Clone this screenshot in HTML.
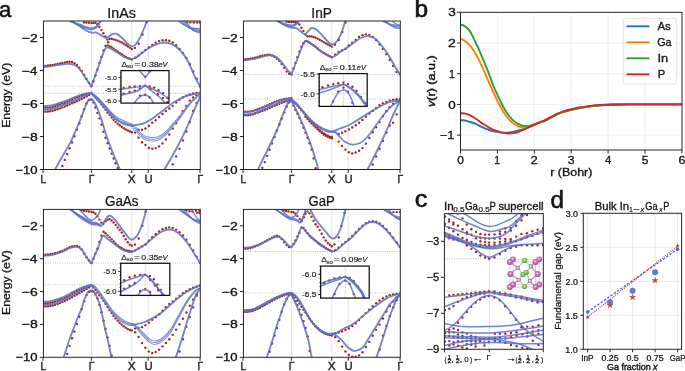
<!DOCTYPE html>
<html><head><meta charset="utf-8"><style>
html,body{margin:0;padding:0;background:#fff;width:685px;height:371px;overflow:hidden}
svg{display:block;will-change:transform}
text{font-family:"Liberation Sans", sans-serif;stroke:#111;stroke-width:0.4px;paint-order:stroke}
</style></head><body>
<svg width="685" height="371" viewBox="0 0 685 371">
<rect width="685" height="371" fill="#fff"/>
<text x="-1" y="16.9" font-size="22.5" fill="#111" textLength="12.32" lengthAdjust="spacingAndGlyphs" style="stroke-width:0.55px">a</text>
<text x="414.61" y="16.6" font-size="23" fill="#111" textLength="13.6" lengthAdjust="spacingAndGlyphs" style="stroke-width:0.55px">b</text>
<text x="414.76" y="207.1" font-size="23" fill="#111" textLength="12.67" lengthAdjust="spacingAndGlyphs" style="stroke-width:0.55px">c</text>
<text x="550.53" y="207.9" font-size="23" fill="#111" textLength="13.47" lengthAdjust="spacingAndGlyphs" style="stroke-width:0.55px">d</text>
<clipPath id="pc1"><rect x="43" y="21" width="157" height="148.5"/></clipPath><g clip-path="url(#pc1)">
<line x1="91.4" y1="21" x2="91.4" y2="169.5" stroke="#dcdcdc" stroke-width="0.8" />
<line x1="131.8" y1="21" x2="131.8" y2="169.5" stroke="#dcdcdc" stroke-width="0.8" />
<line x1="148.2" y1="21" x2="148.2" y2="169.5" stroke="#dcdcdc" stroke-width="0.8" />
<line x1="43" y1="86.2" x2="200" y2="86.2" stroke="#9a9a9a" stroke-width="0.8" stroke-dasharray="0.8,1.6"/>
<line x1="43" y1="93.3" x2="200" y2="93.3" stroke="#9a9a9a" stroke-width="0.8" stroke-dasharray="0.8,1.6"/>
<circle cx="43" cy="66.2" r="1.2" fill="#9e2c1c" opacity="1"/>
<circle cx="45.42" cy="65.87" r="1.2" fill="#9e2c1c" opacity="1"/>
<circle cx="47.84" cy="65.55" r="1.2" fill="#9e2c1c" opacity="1"/>
<circle cx="50.26" cy="65.22" r="1.2" fill="#9e2c1c" opacity="1"/>
<circle cx="52.68" cy="64.87" r="1.2" fill="#9e2c1c" opacity="1"/>
<circle cx="55.1" cy="64.48" r="1.2" fill="#9e2c1c" opacity="1"/>
<circle cx="57.52" cy="64.01" r="1.2" fill="#9e2c1c" opacity="1"/>
<circle cx="59.94" cy="63.48" r="1.2" fill="#9e2c1c" opacity="1"/>
<circle cx="62.36" cy="62.94" r="1.2" fill="#9e2c1c" opacity="1"/>
<circle cx="64.78" cy="62.43" r="1.2" fill="#9e2c1c" opacity="1"/>
<circle cx="67.2" cy="61.99" r="1.2" fill="#9e2c1c" opacity="1"/>
<circle cx="69.62" cy="61.78" r="1.2" fill="#9e2c1c" opacity="1"/>
<circle cx="72.04" cy="62.01" r="1.2" fill="#9e2c1c" opacity="1"/>
<circle cx="74.46" cy="63.17" r="1.2" fill="#9e2c1c" opacity="1"/>
<circle cx="76.88" cy="64.97" r="1.2" fill="#9e2c1c" opacity="1"/>
<circle cx="79.3" cy="67.63" r="1.2" fill="#9e2c1c" opacity="1"/>
<circle cx="81.72" cy="71" r="1.2" fill="#9e2c1c" opacity="1"/>
<circle cx="84.14" cy="75.02" r="1.2" fill="#9e2c1c" opacity="1"/>
<circle cx="86.56" cy="78.92" r="1.2" fill="#9e2c1c" opacity="1"/>
<circle cx="88.98" cy="82.68" r="1.2" fill="#9e2c1c" opacity="1"/>
<circle cx="91.4" cy="86.2" r="1.2" fill="#9e2c1c" opacity="1"/>
<circle cx="93.42" cy="81.18" r="1.2" fill="#9e2c1c" opacity="1"/>
<circle cx="95.44" cy="75.49" r="1.2" fill="#9e2c1c" opacity="1"/>
<circle cx="97.46" cy="69.62" r="1.2" fill="#9e2c1c" opacity="1"/>
<circle cx="99.48" cy="62.83" r="1.2" fill="#9e2c1c" opacity="1"/>
<circle cx="101.5" cy="56.92" r="1.2" fill="#9e2c1c" opacity="1"/>
<circle cx="103.52" cy="50.57" r="1.2" fill="#9e2c1c" opacity="1"/>
<circle cx="105.54" cy="45.83" r="1.2" fill="#9e2c1c" opacity="1"/>
<circle cx="107.56" cy="45.35" r="1.2" fill="#9e2c1c" opacity="1"/>
<circle cx="109.58" cy="46.1" r="1.2" fill="#9e2c1c" opacity="1"/>
<circle cx="111.6" cy="47.31" r="1.2" fill="#9e2c1c" opacity="1"/>
<circle cx="113.62" cy="48.68" r="1.2" fill="#9e2c1c" opacity="1"/>
<circle cx="115.64" cy="50.08" r="1.2" fill="#9e2c1c" opacity="1"/>
<circle cx="117.66" cy="51.47" r="1.2" fill="#9e2c1c" opacity="1"/>
<circle cx="119.68" cy="52.86" r="1.2" fill="#9e2c1c" opacity="1"/>
<circle cx="121.7" cy="54.25" r="1.2" fill="#9e2c1c" opacity="1"/>
<circle cx="123.72" cy="55.62" r="1.2" fill="#9e2c1c" opacity="1"/>
<circle cx="125.74" cy="56.88" r="1.2" fill="#9e2c1c" opacity="1"/>
<circle cx="127.76" cy="57.93" r="1.2" fill="#9e2c1c" opacity="1"/>
<circle cx="129.78" cy="58.82" r="1.2" fill="#9e2c1c" opacity="1"/>
<circle cx="131.8" cy="59.5" r="1.2" fill="#9e2c1c" opacity="1"/>
<circle cx="135.21" cy="57.68" r="1.2" fill="#9e2c1c" opacity="1"/>
<circle cx="138.62" cy="55.43" r="1.2" fill="#9e2c1c" opacity="1"/>
<circle cx="142.03" cy="52.81" r="1.2" fill="#9e2c1c" opacity="1"/>
<circle cx="145.44" cy="50.06" r="1.2" fill="#9e2c1c" opacity="1"/>
<circle cx="148.85" cy="47.36" r="1.2" fill="#9e2c1c" opacity="1"/>
<circle cx="152.26" cy="44.86" r="1.2" fill="#9e2c1c" opacity="1"/>
<circle cx="155.67" cy="42.67" r="1.2" fill="#9e2c1c" opacity="1"/>
<circle cx="159.08" cy="41.11" r="1.2" fill="#9e2c1c" opacity="1"/>
<circle cx="162.49" cy="40.2" r="1.2" fill="#9e2c1c" opacity="1"/>
<circle cx="165.9" cy="40.17" r="1.2" fill="#9e2c1c" opacity="1"/>
<circle cx="169.31" cy="40.82" r="1.2" fill="#9e2c1c" opacity="1"/>
<circle cx="172.72" cy="42.46" r="1.2" fill="#9e2c1c" opacity="1"/>
<circle cx="176.13" cy="45.32" r="1.2" fill="#9e2c1c" opacity="1"/>
<circle cx="179.54" cy="48.97" r="1.2" fill="#9e2c1c" opacity="1"/>
<circle cx="182.95" cy="53.09" r="1.2" fill="#9e2c1c" opacity="1"/>
<circle cx="186.36" cy="57.86" r="1.2" fill="#9e2c1c" opacity="1"/>
<circle cx="189.77" cy="63.93" r="1.2" fill="#9e2c1c" opacity="1"/>
<circle cx="193.18" cy="71.53" r="1.2" fill="#9e2c1c" opacity="1"/>
<circle cx="196.59" cy="78.78" r="1.2" fill="#9e2c1c" opacity="1"/>
<circle cx="200" cy="86.2" r="1.2" fill="#9e2c1c" opacity="1"/>
<circle cx="84" cy="22.4" r="1.2" fill="#9e2c1c" opacity="1"/>
<circle cx="86.4" cy="22.6" r="1.2" fill="#9e2c1c" opacity="1"/>
<circle cx="88.8" cy="22.8" r="1.2" fill="#9e2c1c" opacity="1"/>
<circle cx="91.4" cy="22.9" r="1.2" fill="#9e2c1c" opacity="1"/>
<circle cx="93.4" cy="22.9" r="1.2" fill="#9e2c1c" opacity="1"/>
<circle cx="95.4" cy="22.7" r="1.2" fill="#9e2c1c" opacity="1"/>
<circle cx="97.4" cy="24" r="1.2" fill="#9e2c1c" opacity="1"/>
<circle cx="99.4" cy="27" r="1.2" fill="#9e2c1c" opacity="1"/>
<circle cx="101.4" cy="30.1" r="1.2" fill="#9e2c1c" opacity="1"/>
<circle cx="103.4" cy="33.2" r="1.2" fill="#9e2c1c" opacity="1"/>
<circle cx="105.4" cy="36.4" r="1.2" fill="#9e2c1c" opacity="1"/>
<circle cx="107.4" cy="39.6" r="1.2" fill="#9e2c1c" opacity="1"/>
<circle cx="108.2" cy="42.3" r="1.2" fill="#9e2c1c" opacity="1"/>
<circle cx="109.58" cy="38.77" r="1.2" fill="#9e2c1c" opacity="1"/>
<circle cx="111.6" cy="38.72" r="1.2" fill="#9e2c1c" opacity="1"/>
<circle cx="113.62" cy="39.33" r="1.2" fill="#9e2c1c" opacity="1"/>
<circle cx="115.64" cy="39.91" r="1.2" fill="#9e2c1c" opacity="1"/>
<circle cx="117.66" cy="40.66" r="1.2" fill="#9e2c1c" opacity="1"/>
<circle cx="119.68" cy="41.58" r="1.2" fill="#9e2c1c" opacity="1"/>
<circle cx="121.7" cy="42.57" r="1.2" fill="#9e2c1c" opacity="1"/>
<circle cx="123.72" cy="43.7" r="1.2" fill="#9e2c1c" opacity="1"/>
<circle cx="125.74" cy="44.95" r="1.2" fill="#9e2c1c" opacity="1"/>
<circle cx="127.76" cy="46.3" r="1.2" fill="#9e2c1c" opacity="1"/>
<circle cx="129.78" cy="47.65" r="1.2" fill="#9e2c1c" opacity="1"/>
<circle cx="131.8" cy="49" r="1.2" fill="#9e2c1c" opacity="1"/>
<circle cx="134.9" cy="47.9" r="1.2" fill="#9e2c1c" opacity="1"/>
<circle cx="138.7" cy="43.7" r="1.2" fill="#9e2c1c" opacity="1"/>
<circle cx="142.5" cy="34.5" r="1.2" fill="#9e2c1c" opacity="1"/>
<circle cx="146.4" cy="22.6" r="1.2" fill="#9e2c1c" opacity="1"/>
<circle cx="186.8" cy="22.2" r="1.2" fill="#9e2c1c" opacity="1"/>
<circle cx="190.3" cy="22.4" r="1.2" fill="#9e2c1c" opacity="1"/>
<circle cx="193.8" cy="22.5" r="1.2" fill="#9e2c1c" opacity="1"/>
<circle cx="197.2" cy="22.5" r="1.2" fill="#9e2c1c" opacity="1"/>
<circle cx="200" cy="22.5" r="1.2" fill="#9e2c1c" opacity="1"/>
<circle cx="43" cy="107.8" r="1.2" fill="#9e2c1c" opacity="1"/>
<circle cx="45.42" cy="107.72" r="1.2" fill="#9e2c1c" opacity="1"/>
<circle cx="47.84" cy="107.66" r="1.2" fill="#9e2c1c" opacity="1"/>
<circle cx="50.26" cy="107.44" r="1.2" fill="#9e2c1c" opacity="1"/>
<circle cx="52.68" cy="106.91" r="1.2" fill="#9e2c1c" opacity="1"/>
<circle cx="55.1" cy="106.11" r="1.2" fill="#9e2c1c" opacity="1"/>
<circle cx="57.52" cy="105.2" r="1.2" fill="#9e2c1c" opacity="1"/>
<circle cx="59.94" cy="104.35" r="1.2" fill="#9e2c1c" opacity="1"/>
<circle cx="62.36" cy="103.56" r="1.2" fill="#9e2c1c" opacity="1"/>
<circle cx="64.78" cy="102.74" r="1.2" fill="#9e2c1c" opacity="1"/>
<circle cx="67.2" cy="101.84" r="1.2" fill="#9e2c1c" opacity="1"/>
<circle cx="69.62" cy="100.79" r="1.2" fill="#9e2c1c" opacity="1"/>
<circle cx="72.04" cy="99.64" r="1.2" fill="#9e2c1c" opacity="1"/>
<circle cx="74.46" cy="98.51" r="1.2" fill="#9e2c1c" opacity="1"/>
<circle cx="76.88" cy="97.48" r="1.2" fill="#9e2c1c" opacity="1"/>
<circle cx="79.3" cy="96.5" r="1.2" fill="#9e2c1c" opacity="1"/>
<circle cx="81.72" cy="95.56" r="1.2" fill="#9e2c1c" opacity="1"/>
<circle cx="84.14" cy="94.68" r="1.2" fill="#9e2c1c" opacity="1"/>
<circle cx="86.56" cy="93.95" r="1.2" fill="#9e2c1c" opacity="1"/>
<circle cx="88.98" cy="93.39" r="1.2" fill="#9e2c1c" opacity="1"/>
<circle cx="91.4" cy="93" r="1.2" fill="#9e2c1c" opacity="1"/>
<circle cx="43" cy="111.9" r="1.2" fill="#9e2c1c" opacity="1"/>
<circle cx="45.42" cy="111.71" r="1.2" fill="#9e2c1c" opacity="1"/>
<circle cx="47.84" cy="111.54" r="1.2" fill="#9e2c1c" opacity="1"/>
<circle cx="50.26" cy="111.25" r="1.2" fill="#9e2c1c" opacity="1"/>
<circle cx="52.68" cy="110.73" r="1.2" fill="#9e2c1c" opacity="1"/>
<circle cx="55.1" cy="110.02" r="1.2" fill="#9e2c1c" opacity="1"/>
<circle cx="57.52" cy="109.19" r="1.2" fill="#9e2c1c" opacity="1"/>
<circle cx="59.94" cy="108.34" r="1.2" fill="#9e2c1c" opacity="1"/>
<circle cx="62.36" cy="107.42" r="1.2" fill="#9e2c1c" opacity="1"/>
<circle cx="64.78" cy="106.45" r="1.2" fill="#9e2c1c" opacity="1"/>
<circle cx="67.2" cy="105.44" r="1.2" fill="#9e2c1c" opacity="1"/>
<circle cx="69.62" cy="104.4" r="1.2" fill="#9e2c1c" opacity="1"/>
<circle cx="72.04" cy="103.32" r="1.2" fill="#9e2c1c" opacity="1"/>
<circle cx="74.46" cy="102.22" r="1.2" fill="#9e2c1c" opacity="1"/>
<circle cx="76.88" cy="101.14" r="1.2" fill="#9e2c1c" opacity="1"/>
<circle cx="79.3" cy="100.06" r="1.2" fill="#9e2c1c" opacity="1"/>
<circle cx="81.72" cy="98.95" r="1.2" fill="#9e2c1c" opacity="1"/>
<circle cx="84.14" cy="97.77" r="1.2" fill="#9e2c1c" opacity="1"/>
<circle cx="86.56" cy="96.37" r="1.2" fill="#9e2c1c" opacity="1"/>
<circle cx="88.98" cy="94.95" r="1.2" fill="#9e2c1c" opacity="1"/>
<circle cx="91.4" cy="93.6" r="1.2" fill="#9e2c1c" opacity="1"/>
<circle cx="62.36" cy="165.9" r="1.2" fill="#9e2c1c" opacity="1"/>
<circle cx="64.78" cy="159.9" r="1.2" fill="#9e2c1c" opacity="1"/>
<circle cx="67.2" cy="153.94" r="1.2" fill="#9e2c1c" opacity="1"/>
<circle cx="69.62" cy="148.24" r="1.2" fill="#9e2c1c" opacity="1"/>
<circle cx="72.04" cy="142.5" r="1.2" fill="#9e2c1c" opacity="1"/>
<circle cx="74.46" cy="136.24" r="1.2" fill="#9e2c1c" opacity="1"/>
<circle cx="76.88" cy="129.73" r="1.2" fill="#9e2c1c" opacity="1"/>
<circle cx="79.3" cy="123.3" r="1.2" fill="#9e2c1c" opacity="1"/>
<circle cx="81.72" cy="116.32" r="1.2" fill="#9e2c1c" opacity="1"/>
<circle cx="84.14" cy="109.27" r="1.2" fill="#9e2c1c" opacity="1"/>
<circle cx="86.56" cy="103.4" r="1.2" fill="#9e2c1c" opacity="1"/>
<circle cx="88.98" cy="100.07" r="1.2" fill="#9e2c1c" opacity="1"/>
<circle cx="91.4" cy="99.6" r="1.2" fill="#9e2c1c" opacity="1"/>
<circle cx="93.42" cy="95.26" r="1.2" fill="#9e2c1c" opacity="1"/>
<circle cx="95.44" cy="97.21" r="1.2" fill="#9e2c1c" opacity="1"/>
<circle cx="97.46" cy="99.42" r="1.2" fill="#9e2c1c" opacity="1"/>
<circle cx="99.48" cy="101.8" r="1.2" fill="#9e2c1c" opacity="1"/>
<circle cx="101.5" cy="104.3" r="1.2" fill="#9e2c1c" opacity="1"/>
<circle cx="103.52" cy="106.98" r="1.2" fill="#9e2c1c" opacity="1"/>
<circle cx="105.54" cy="109.76" r="1.2" fill="#9e2c1c" opacity="1"/>
<circle cx="107.56" cy="112.44" r="1.2" fill="#9e2c1c" opacity="1"/>
<circle cx="109.58" cy="114.95" r="1.2" fill="#9e2c1c" opacity="1"/>
<circle cx="111.6" cy="117.38" r="1.2" fill="#9e2c1c" opacity="1"/>
<circle cx="113.62" cy="119.71" r="1.2" fill="#9e2c1c" opacity="1"/>
<circle cx="115.64" cy="121.85" r="1.2" fill="#9e2c1c" opacity="1"/>
<circle cx="117.66" cy="123.67" r="1.2" fill="#9e2c1c" opacity="1"/>
<circle cx="119.68" cy="125.25" r="1.2" fill="#9e2c1c" opacity="1"/>
<circle cx="121.7" cy="126.81" r="1.2" fill="#9e2c1c" opacity="1"/>
<circle cx="123.72" cy="128.23" r="1.2" fill="#9e2c1c" opacity="1"/>
<circle cx="125.74" cy="129.4" r="1.2" fill="#9e2c1c" opacity="1"/>
<circle cx="127.76" cy="130.38" r="1.2" fill="#9e2c1c" opacity="1"/>
<circle cx="129.78" cy="131.28" r="1.2" fill="#9e2c1c" opacity="1"/>
<circle cx="131.8" cy="132.2" r="1.2" fill="#9e2c1c" opacity="1"/>
<circle cx="135.21" cy="132.61" r="1.2" fill="#9e2c1c" opacity="1"/>
<circle cx="138.62" cy="137.64" r="1.2" fill="#9e2c1c" opacity="1"/>
<circle cx="142.03" cy="142.32" r="1.2" fill="#9e2c1c" opacity="1"/>
<circle cx="145.44" cy="145.02" r="1.2" fill="#9e2c1c" opacity="1"/>
<circle cx="148.85" cy="148.03" r="1.2" fill="#9e2c1c" opacity="1"/>
<circle cx="152.26" cy="148.7" r="1.2" fill="#9e2c1c" opacity="1"/>
<circle cx="155.67" cy="148.11" r="1.2" fill="#9e2c1c" opacity="1"/>
<circle cx="159.08" cy="146.39" r="1.2" fill="#9e2c1c" opacity="1"/>
<circle cx="162.49" cy="143.41" r="1.2" fill="#9e2c1c" opacity="1"/>
<circle cx="165.9" cy="139.43" r="1.2" fill="#9e2c1c" opacity="1"/>
<circle cx="169.31" cy="134.51" r="1.2" fill="#9e2c1c" opacity="1"/>
<circle cx="172.72" cy="128.43" r="1.2" fill="#9e2c1c" opacity="1"/>
<circle cx="176.13" cy="123.18" r="1.2" fill="#9e2c1c" opacity="1"/>
<circle cx="179.54" cy="117.08" r="1.2" fill="#9e2c1c" opacity="1"/>
<circle cx="182.95" cy="111.27" r="1.2" fill="#9e2c1c" opacity="1"/>
<circle cx="186.36" cy="105.93" r="1.2" fill="#9e2c1c" opacity="1"/>
<circle cx="189.77" cy="100.61" r="1.2" fill="#9e2c1c" opacity="1"/>
<circle cx="193.18" cy="97.54" r="1.2" fill="#9e2c1c" opacity="1"/>
<circle cx="196.59" cy="95.33" r="1.2" fill="#9e2c1c" opacity="1"/>
<circle cx="138.62" cy="129.79" r="1.2" fill="#9e2c1c" opacity="1"/>
<circle cx="142.03" cy="129.7" r="1.2" fill="#9e2c1c" opacity="1"/>
<circle cx="145.44" cy="128.56" r="1.2" fill="#9e2c1c" opacity="1"/>
<circle cx="148.85" cy="126.06" r="1.2" fill="#9e2c1c" opacity="1"/>
<circle cx="152.26" cy="122.68" r="1.2" fill="#9e2c1c" opacity="1"/>
<circle cx="155.67" cy="120.14" r="1.2" fill="#9e2c1c" opacity="1"/>
<circle cx="159.08" cy="116.93" r="1.2" fill="#9e2c1c" opacity="1"/>
<circle cx="162.49" cy="114.01" r="1.2" fill="#9e2c1c" opacity="1"/>
<circle cx="165.9" cy="111.08" r="1.2" fill="#9e2c1c" opacity="1"/>
<circle cx="169.31" cy="108.52" r="1.2" fill="#9e2c1c" opacity="1"/>
<circle cx="172.72" cy="105.84" r="1.2" fill="#9e2c1c" opacity="1"/>
<circle cx="176.13" cy="102.56" r="1.2" fill="#9e2c1c" opacity="1"/>
<circle cx="179.54" cy="99.67" r="1.2" fill="#9e2c1c" opacity="1"/>
<circle cx="182.95" cy="97.33" r="1.2" fill="#9e2c1c" opacity="1"/>
<circle cx="186.36" cy="95.66" r="1.2" fill="#9e2c1c" opacity="1"/>
<circle cx="189.77" cy="94.47" r="1.2" fill="#9e2c1c" opacity="1"/>
<circle cx="193.18" cy="93.57" r="1.2" fill="#9e2c1c" opacity="1"/>
<circle cx="196.59" cy="93.02" r="1.2" fill="#9e2c1c" opacity="1"/>
<circle cx="200" cy="93" r="1.2" fill="#9e2c1c" opacity="1"/>
<circle cx="93.42" cy="102.39" r="1.2" fill="#9e2c1c" opacity="1"/>
<circle cx="95.44" cy="107.53" r="1.2" fill="#9e2c1c" opacity="1"/>
<circle cx="97.46" cy="112.83" r="1.2" fill="#9e2c1c" opacity="1"/>
<circle cx="99.48" cy="118.42" r="1.2" fill="#9e2c1c" opacity="1"/>
<circle cx="101.5" cy="124.7" r="1.2" fill="#9e2c1c" opacity="1"/>
<circle cx="103.52" cy="131.68" r="1.2" fill="#9e2c1c" opacity="1"/>
<circle cx="105.54" cy="137.8" r="1.2" fill="#9e2c1c" opacity="1"/>
<circle cx="107.56" cy="143.29" r="1.2" fill="#9e2c1c" opacity="1"/>
<circle cx="109.58" cy="148.54" r="1.2" fill="#9e2c1c" opacity="1"/>
<circle cx="111.6" cy="153.6" r="1.2" fill="#9e2c1c" opacity="1"/>
<circle cx="113.62" cy="158.53" r="1.2" fill="#9e2c1c" opacity="1"/>
<circle cx="115.64" cy="163.31" r="1.2" fill="#9e2c1c" opacity="1"/>
<circle cx="117.66" cy="168" r="1.2" fill="#9e2c1c" opacity="1"/>
<circle cx="172.72" cy="164.35" r="1.2" fill="#9e2c1c" opacity="1"/>
<circle cx="176.13" cy="156.38" r="1.2" fill="#9e2c1c" opacity="1"/>
<circle cx="179.54" cy="148.84" r="1.2" fill="#9e2c1c" opacity="1"/>
<circle cx="182.95" cy="140.41" r="1.2" fill="#9e2c1c" opacity="1"/>
<circle cx="186.36" cy="131.53" r="1.2" fill="#9e2c1c" opacity="1"/>
<circle cx="189.77" cy="122.06" r="1.2" fill="#9e2c1c" opacity="1"/>
<circle cx="193.18" cy="111.06" r="1.2" fill="#9e2c1c" opacity="1"/>
<circle cx="196.59" cy="103.1" r="1.2" fill="#9e2c1c" opacity="1"/>
<path d="M43,67.2C45.33,66.9 47.67,66.63 50,66.3C52.33,65.97 54.83,65.53 57,65.2C59.17,64.87 61,64.52 63,64.3C65,64.08 67,63.73 69,63.9C71,64.07 73.17,64.35 75,65.3C76.83,66.25 78.5,67.9 80,69.6C81.5,71.3 82.67,73.5 84,75.5C85.33,77.5 86.77,79.82 88,81.6C89.23,83.38 90.27,84.67 91.4,86.2" fill="none" stroke="#5a6fc8" stroke-width="1.85" stroke-linejoin="round" stroke-linecap="round" opacity="0.85"/>
<path d="M91.4,86.2C92.73,82.47 94.12,78.58 95.4,75C96.68,71.42 97.87,68.15 99.1,64.7C100.33,61.25 101.8,56.9 102.8,54.3C103.8,51.7 104.43,50.25 105.1,49.1C105.77,47.95 105.93,47.52 106.8,47.4C107.67,47.28 108.48,47.5 110.3,48.4C112.12,49.3 115.23,51.32 117.7,52.8C120.17,54.28 122.88,56.27 125.1,57.3C127.32,58.33 129.27,58.88 131,59C132.73,59.12 134,58.77 135.5,58C137,57.23 137.58,56.15 140,54.4C142.42,52.65 147.17,49.23 150,47.5C152.83,45.77 154.57,44.83 157,44C159.43,43.17 162.1,42.47 164.6,42.5C167.1,42.53 169.43,42.95 172,44.2C174.57,45.45 177.38,47.25 180,50C182.62,52.75 185.47,56.78 187.7,60.7C189.93,64.62 191.92,70.28 193.4,73.5C194.88,76.72 195.5,77.88 196.6,80C197.7,82.12 198.87,84.13 200,86.2" fill="none" stroke="#5a6fc8" stroke-width="1.85" stroke-linejoin="round" stroke-linecap="round" opacity="0.85"/>
<path d="M70,21.3C73.33,22.4 77.33,23.65 80,24.6C82.67,25.55 84.07,26.37 86,27C87.93,27.63 90.1,28.35 91.6,28.4C93.1,28.45 93.93,27.95 95,27.3C96.07,26.65 97.13,25.5 98,24.5C98.87,23.5 99.47,22.37 100.2,21.3" fill="none" stroke="#5a6fc8" stroke-width="1.6" stroke-linejoin="round" stroke-linecap="round" opacity="0.85"/>
<path d="M71,21.3C74,22.73 77.5,24.45 80,25.6C82.5,26.75 84.07,27.53 86,28.2C87.93,28.87 90.1,29.57 91.6,29.6C93.1,29.63 93.85,29.17 95,28.4C96.15,27.63 97.57,26.18 98.5,25C99.43,23.82 99.9,22.53 100.6,21.3" fill="none" stroke="#5a6fc8" stroke-width="1.6" stroke-linejoin="round" stroke-linecap="round" opacity="0.85"/>
<path d="M72.3,21.3C74.87,23.03 77.72,24.97 80,26.5C82.28,28.03 84.07,29.47 86,30.5C87.93,31.53 89.98,32.38 91.6,32.7C93.22,33.02 94.3,32.08 95.7,32.4C97.1,32.72 98.37,33.7 100,34.6C101.63,35.5 104.08,37.42 105.5,37.8C106.92,38.18 107.47,37.47 108.5,36.9C109.53,36.33 110.37,34.92 111.7,34.4C113.03,33.88 114.78,33.23 116.5,33.8C118.22,34.37 120.25,36.23 122,37.8C123.75,39.37 125.5,41.8 127,43.2C128.5,44.6 129.67,45.88 131,46.2C132.33,46.52 133.67,46.22 135,45.1C136.33,43.98 137.67,41.85 139,39.5C140.33,37.15 141.7,34.03 143,31C144.3,27.97 145.53,24.53 146.8,21.3" fill="none" stroke="#5a6fc8" stroke-width="1.85" stroke-linejoin="round" stroke-linecap="round" opacity="0.85"/>
<path d="M178.6,21.3C181.1,22.87 183.59,24.87 186.09,26.01C188.59,27.15 191.26,27.66 193.58,28.14C195.9,28.62 197.86,28.65 200,28.9" fill="none" stroke="#5a6fc8" stroke-width="1.3" stroke-linejoin="round" stroke-linecap="round" opacity="0.85"/>
<path d="M181.2,21.3C183.39,23.15 185.59,25.51 187.78,26.85C189.97,28.19 192.32,28.79 194.36,29.36C196.4,29.92 198.12,29.95 200,30.25" fill="none" stroke="#5a6fc8" stroke-width="1.3" stroke-linejoin="round" stroke-linecap="round" opacity="0.85"/>
<path d="M183.8,21.3C185.69,23.43 187.58,26.14 189.47,27.69C191.36,29.23 193.38,29.92 195.14,30.57C196.89,31.22 198.38,31.26 200,31.6" fill="none" stroke="#5a6fc8" stroke-width="1.3" stroke-linejoin="round" stroke-linecap="round" opacity="0.85"/>
<path d="M186.4,21.3C187.99,23.71 189.57,26.78 191.16,28.52C192.75,30.27 194.45,31.05 195.92,31.79C197.39,32.52 198.64,32.56 200,32.95" fill="none" stroke="#5a6fc8" stroke-width="1.3" stroke-linejoin="round" stroke-linecap="round" opacity="0.85"/>
<path d="M43,106.2C45.7,105.93 48.4,105.93 51.1,105.4C53.8,104.87 56.5,103.88 59.2,103C61.9,102.12 64.6,101.12 67.3,100.1C70,99.08 72.7,97.9 75.4,96.9C78.1,95.9 81.4,94.72 83.5,94.1C85.6,93.48 86.68,93.4 88,93.2C89.32,93 90.27,93 91.4,92.9" fill="none" stroke="#5a6fc8" stroke-width="1.85" stroke-linejoin="round" stroke-linecap="round" opacity="0.85"/>
<path d="M43,109.8C45.7,109.6 48.4,109.73 51.1,109.2C53.8,108.67 56.5,107.57 59.2,106.6C61.9,105.63 64.6,104.48 67.3,103.4C70,102.32 72.7,101.25 75.4,100.1C78.1,98.95 81.4,97.43 83.5,96.5C85.6,95.57 86.68,95.03 88,94.5C89.32,93.97 90.27,93.7 91.4,93.3" fill="none" stroke="#5a6fc8" stroke-width="1.85" stroke-linejoin="round" stroke-linecap="round" opacity="0.85"/>
<path d="M55.1,169.5C57.4,165.33 59.43,161.52 62,157C64.57,152.48 68.17,146.9 70.5,142.4C72.83,137.9 74.25,134.07 76,130C77.75,125.93 79.58,121.58 81,118C82.42,114.42 83.58,110.92 84.5,108.5C85.42,106.08 85.87,104.9 86.5,103.5C87.13,102.1 87.75,100.78 88.3,100.1C88.85,99.42 89.28,99.55 89.8,99.4C90.32,99.25 90.87,99.27 91.4,99.2" fill="none" stroke="#5a6fc8" stroke-width="1.85" stroke-linejoin="round" stroke-linecap="round" opacity="0.85"/>
<path d="M91.4,93.1C92.93,94.23 94.32,95.02 96,96.5C97.68,97.98 99.5,99.75 101.5,102C103.5,104.25 105.75,107.28 108,110C110.25,112.72 112.67,116.13 115,118.3C117.33,120.47 119.83,121.88 122,123C124.17,124.12 126.17,124.6 128,125C129.83,125.4 131.33,125.45 133,125.4C134.67,125.35 136,125.13 138,124.7C140,124.27 142.67,123.78 145,122.8C147.33,121.82 149.83,120.23 152,118.8C154.17,117.37 155.57,116.03 158,114.2C160.43,112.37 164.27,109.58 166.6,107.8C168.93,106.02 170.2,104.77 172,103.5C173.8,102.23 175.57,101.23 177.4,100.2C179.23,99.17 181.2,98.1 183,97.3C184.8,96.5 186.37,95.95 188.2,95.4C190.03,94.85 192.03,94.38 194,94C195.97,93.62 198,93.4 200,93.1" fill="none" stroke="#5a6fc8" stroke-width="1.85" stroke-linejoin="round" stroke-linecap="round" opacity="0.85"/>
<path d="M91.4,92.8C92.97,93.97 94.32,94.72 96.1,96.3C97.88,97.88 100.08,100.18 102.1,102.3C104.12,104.42 106.17,106.87 108.2,109C110.23,111.13 112.28,113.38 114.3,115.1C116.32,116.82 118.28,118.18 120.3,119.3C122.32,120.42 124.87,121.15 126.4,121.8C127.93,122.45 128.4,122.67 129.5,123.2C130.6,123.73 131.83,124.4 133,125" fill="none" stroke="#6478cc" stroke-width="1.1" stroke-linejoin="round" stroke-linecap="round" opacity="0.85"/>
<path d="M91.4,93.28C92.97,94.82 94.32,96.13 96.1,97.9C97.88,99.67 100.08,101.78 102.1,103.9C104.12,106.02 106.17,108.47 108.2,110.6C110.23,112.73 112.28,114.98 114.3,116.7C116.32,118.42 118.28,119.78 120.3,120.9C122.32,122.02 124.87,122.8 126.4,123.4C127.93,124 128.4,124.05 129.5,124.48C130.6,124.91 131.83,125.47 133,125.96" fill="none" stroke="#6478cc" stroke-width="1.1" stroke-linejoin="round" stroke-linecap="round" opacity="0.85"/>
<path d="M91.4,93.7C92.97,95.57 94.32,97.37 96.1,99.3C97.88,101.23 100.08,103.18 102.1,105.3C104.12,107.42 106.17,109.87 108.2,112C110.23,114.13 112.28,116.38 114.3,118.1C116.32,119.82 118.28,121.18 120.3,122.3C122.32,123.42 124.87,124.25 126.4,124.8C127.93,125.35 128.4,125.27 129.5,125.6C130.6,125.93 131.83,126.4 133,126.8" fill="none" stroke="#6478cc" stroke-width="1.1" stroke-linejoin="round" stroke-linecap="round" opacity="0.85"/>
<path d="M133,126.4C134,126.73 134.83,126.4 136,127.4C137.17,128.4 138.33,130.87 140,132.4C141.67,133.93 143.7,135.73 146,136.6C148.3,137.47 151.47,137.73 153.8,137.6C156.13,137.47 157.85,136.93 160,135.8C162.15,134.67 164.7,132.72 166.7,130.8C168.7,128.89 170.17,126.37 172,124.31C173.83,122.25 176.03,120.35 177.7,118.44C179.37,116.53 180.53,114.82 182,112.86C183.47,110.9 185,108.57 186.5,106.68C188,104.79 189.52,103.05 191,101.5C192.48,99.96 193.9,98.72 195.4,97.43C196.9,96.13 198.47,94.98 200,93.75" fill="none" stroke="#6f81d2" stroke-width="1.05" stroke-linejoin="round" stroke-linecap="round" opacity="0.85"/>
<path d="M133,128.1C134,128.43 134.83,128.1 136,129.1C137.17,130.1 138.33,132.57 140,134.1C141.67,135.63 143.7,137.43 146,138.3C148.3,139.17 151.47,139.43 153.8,139.3C156.13,139.17 157.85,138.63 160,137.5C162.15,136.37 164.7,134.43 166.7,132.5C168.7,130.57 170.17,128.04 172,125.92C173.83,123.81 176.03,121.79 177.7,119.81C179.37,117.83 180.53,116.07 182,114.05C183.47,112.03 185,109.64 186.5,107.68C188,105.72 189.52,103.92 191,102.31C192.48,100.71 193.9,99.4 195.4,98.05C196.9,96.69 198.47,95.47 200,94.17" fill="none" stroke="#6f81d2" stroke-width="1.05" stroke-linejoin="round" stroke-linecap="round" opacity="0.85"/>
<path d="M133,129.8C134,130.13 134.83,129.8 136,130.8C137.17,131.8 138.33,134.27 140,135.8C141.67,137.33 143.7,139.13 146,140C148.3,140.87 151.47,141.13 153.8,141C156.13,140.87 157.85,140.33 160,139.2C162.15,138.07 164.7,136.14 166.7,134.2C168.7,132.26 170.17,129.71 172,127.54C173.83,125.37 176.03,123.23 177.7,121.18C179.37,119.13 180.53,117.32 182,115.24C183.47,113.16 185,110.7 186.5,108.68C188,106.66 189.52,104.79 191,103.12C192.48,101.45 193.9,100.09 195.4,98.67C196.9,97.25 198.47,95.96 200,94.6" fill="none" stroke="#6f81d2" stroke-width="1.05" stroke-linejoin="round" stroke-linecap="round" opacity="0.85"/>
<path d="M91.4,99.4C92.13,99.9 92.62,99.43 93.6,100.9C94.58,102.37 96.08,105.37 97.3,108.2C98.52,111.03 99.87,114.93 100.9,117.9C101.93,120.87 102.65,123.23 103.5,126C104.35,128.77 104.92,131.25 106,134.5C107.08,137.75 108.5,141.58 110,145.5C111.5,149.42 113.35,154 115,158C116.65,162 118.27,165.67 119.9,169.5" fill="none" stroke="#5a6fc8" stroke-width="1.85" stroke-linejoin="round" stroke-linecap="round" opacity="0.85"/>
<path d="M164.4,169.5C167.37,164.4 170.35,159.52 173.3,154.2C176.25,148.88 179.52,142.77 182.1,137.6C184.68,132.43 186.77,127.82 188.8,123.2C190.83,118.58 192.65,113.77 194.3,109.9C195.95,106.03 197.75,102.23 198.7,100C199.65,97.77 199.57,97.67 200,96.5" fill="none" stroke="#5a6fc8" stroke-width="1.85" stroke-linejoin="round" stroke-linecap="round" opacity="0.85"/>
<rect x="121" y="70.6" width="48" height="32.5" fill="#fff" stroke="none"/>
<line x1="145.2" y1="70.6" x2="145.2" y2="103.1" stroke="#dcdcdc" stroke-width="0.8" />
<clipPath id="ci1"><rect x="121" y="70.6" width="48" height="32.5"/></clipPath><g clip-path="url(#ci1)">
<line x1="121" y1="86.1" x2="169" y2="86.1" stroke="#b0b0b0" stroke-width="0.7" stroke-dasharray="0.8,1.6"/>
<line x1="121" y1="93.2" x2="169" y2="93.2" stroke="#b0b0b0" stroke-width="0.7" stroke-dasharray="0.8,1.6"/>
<circle cx="145.2" cy="76.7" r="1.2" fill="#9e2c1c" opacity="1"/>
<circle cx="149.8" cy="71.3" r="1.2" fill="#9e2c1c" opacity="1"/>
<circle cx="123.7" cy="87.9" r="1.2" fill="#9e2c1c" opacity="1"/>
<circle cx="129.6" cy="86.9" r="1.2" fill="#9e2c1c" opacity="1"/>
<circle cx="134.8" cy="86.4" r="1.2" fill="#9e2c1c" opacity="1"/>
<circle cx="140" cy="86.1" r="1.2" fill="#9e2c1c" opacity="1"/>
<circle cx="145.2" cy="85.8" r="1.2" fill="#9e2c1c" opacity="1"/>
<circle cx="149.6" cy="86.4" r="1.2" fill="#9e2c1c" opacity="1"/>
<circle cx="154.1" cy="87.6" r="1.2" fill="#9e2c1c" opacity="1"/>
<circle cx="158.5" cy="90.3" r="1.2" fill="#9e2c1c" opacity="1"/>
<circle cx="163" cy="93.2" r="1.2" fill="#9e2c1c" opacity="1"/>
<circle cx="167.4" cy="98" r="1.2" fill="#9e2c1c" opacity="1"/>
<circle cx="123.7" cy="93.8" r="1.2" fill="#9e2c1c" opacity="1"/>
<circle cx="129.6" cy="92" r="1.2" fill="#9e2c1c" opacity="1"/>
<circle cx="134.8" cy="90.6" r="1.2" fill="#9e2c1c" opacity="1"/>
<circle cx="140" cy="88.4" r="1.2" fill="#9e2c1c" opacity="1"/>
<circle cx="150.4" cy="89" r="1.2" fill="#9e2c1c" opacity="1"/>
<circle cx="157.8" cy="94.3" r="1.2" fill="#9e2c1c" opacity="1"/>
<circle cx="163" cy="98" r="1.2" fill="#9e2c1c" opacity="1"/>
<circle cx="167.4" cy="102.1" r="1.2" fill="#9e2c1c" opacity="1"/>
<circle cx="140" cy="95.7" r="1.2" fill="#9e2c1c" opacity="1"/>
<circle cx="145.2" cy="94.7" r="1.2" fill="#9e2c1c" opacity="1"/>
<circle cx="149.6" cy="97.2" r="1.2" fill="#9e2c1c" opacity="1"/>
<path d="M139.3,70.6C140.2,71.57 141.02,72.45 142,73.5C142.98,74.55 144.2,76.82 145.2,76.9C146.2,76.98 147.1,75.05 148,74C148.9,72.95 149.73,71.73 150.6,70.6" fill="none" stroke="#5a6fc8" stroke-width="1.5" stroke-linejoin="round" stroke-linecap="round" opacity="0.85"/>
<path d="M121,89.4C123.33,89 125.67,88.57 128,88.2C130.33,87.83 133,87.45 135,87.2C137,86.95 138.3,86.88 140,86.7C141.7,86.52 143.2,85.8 145.2,86.1C147.2,86.4 149.87,87.6 152,88.5C154.13,89.4 156,90.33 158,91.5C160,92.67 162.17,94.28 164,95.5C165.83,96.72 167.33,97.7 169,98.8" fill="none" stroke="#5a6fc8" stroke-width="1.5" stroke-linejoin="round" stroke-linecap="round" opacity="0.85"/>
<path d="M121,95.3C123.33,94.7 125.67,94.08 128,93.5C130.33,92.92 133,92.47 135,91.8C137,91.13 138.3,90.45 140,89.5C141.7,88.55 143.53,86.1 145.2,86.1C146.87,86.1 148.37,88.27 150,89.5C151.63,90.73 153.33,92.17 155,93.5C156.67,94.83 158.3,95.9 160,97.5C161.7,99.1 163.47,101.23 165.2,103.1" fill="none" stroke="#5a6fc8" stroke-width="1.5" stroke-linejoin="round" stroke-linecap="round" opacity="0.85"/>
<path d="M134,103.1C135.33,101.57 136.83,99.68 138,98.5C139.17,97.32 139.8,96.58 141,96C142.2,95.42 143.87,94.92 145.2,95C146.53,95.08 147.95,95.75 149,96.5C150.05,97.25 150.78,98.4 151.5,99.5C152.22,100.6 152.7,101.9 153.3,103.1" fill="none" stroke="#5a6fc8" stroke-width="1.5" stroke-linejoin="round" stroke-linecap="round" opacity="0.85"/>
</g>
<rect x="121" y="70.6" width="48" height="32.5" fill="none" stroke="#111" stroke-width="1.25"/>
<line x1="119.7" y1="72.68" x2="121" y2="72.68" stroke="#111" stroke-width="0.6" />
<line x1="119.7" y1="75.04" x2="121" y2="75.04" stroke="#111" stroke-width="0.6" />
<line x1="119.7" y1="77.4" x2="121" y2="77.4" stroke="#111" stroke-width="0.6" />
<line x1="119.7" y1="79.76" x2="121" y2="79.76" stroke="#111" stroke-width="0.6" />
<line x1="119.7" y1="82.12" x2="121" y2="82.12" stroke="#111" stroke-width="0.6" />
<line x1="119.7" y1="84.48" x2="121" y2="84.48" stroke="#111" stroke-width="0.6" />
<line x1="119.7" y1="86.84" x2="121" y2="86.84" stroke="#111" stroke-width="0.6" />
<line x1="119.7" y1="89.2" x2="121" y2="89.2" stroke="#111" stroke-width="0.6" />
<line x1="119.7" y1="91.56" x2="121" y2="91.56" stroke="#111" stroke-width="0.6" />
<line x1="119.7" y1="93.92" x2="121" y2="93.92" stroke="#111" stroke-width="0.6" />
<line x1="119.7" y1="96.28" x2="121" y2="96.28" stroke="#111" stroke-width="0.6" />
<line x1="119.7" y1="98.64" x2="121" y2="98.64" stroke="#111" stroke-width="0.6" />
<line x1="119.7" y1="101" x2="121" y2="101" stroke="#111" stroke-width="0.6" />
<line x1="118.4" y1="77.4" x2="121" y2="77.4" stroke="#111" stroke-width="0.8" />
<text x="105.09" y="79.81" font-size="5.9" fill="#111" textLength="11.77" lengthAdjust="spacingAndGlyphs" style="stroke-width:0.15px">-5.0</text>
<line x1="118.4" y1="89.2" x2="121" y2="89.2" stroke="#111" stroke-width="0.8" />
<text x="105.09" y="91.61" font-size="5.9" fill="#111" textLength="11.81" lengthAdjust="spacingAndGlyphs" style="stroke-width:0.15px">-5.5</text>
<line x1="118.4" y1="101" x2="121" y2="101" stroke="#111" stroke-width="0.8" />
<text x="105.09" y="103.41" font-size="5.9" fill="#111" textLength="11.77" lengthAdjust="spacingAndGlyphs" style="stroke-width:0.15px">-6.0</text>
<text x="121.55" y="67.1" font-size="7.4" fill="#111" textLength="5.59" lengthAdjust="spacingAndGlyphs" style="stroke-width:0.15px">Δ</text>
<text x="126.97" y="68.3" font-size="6.0" fill="#111" textLength="6.32" lengthAdjust="spacingAndGlyphs" style="stroke-width:0.1px;font-style:italic">so</text>
<text x="134.52" y="67.1" font-size="7.4" fill="#111" textLength="5.66" lengthAdjust="spacingAndGlyphs" style="stroke-width:0.15px">=</text>
<text x="141.55" y="67.1" font-size="7.4" fill="#111" textLength="17.12" lengthAdjust="spacingAndGlyphs" style="stroke-width:0.15px">0.38</text>
<text x="158.44" y="67.1" font-size="7.4" fill="#111" textLength="9.19" lengthAdjust="spacingAndGlyphs" style="stroke-width:0.15px;font-style:italic">eV</text>
</g>
<rect x="43.45" y="21" width="156.85" height="148.5" fill="none" stroke="#262626" stroke-width="1.0"/>
<line x1="39.9" y1="37.5" x2="43.45" y2="37.5" stroke="#262626" stroke-width="1.0" />
<text x="21.8" y="41.5" font-size="11.2" fill="#111" textLength="16.01" lengthAdjust="spacingAndGlyphs" style="stroke-width:0.31px;">−2</text>
<line x1="39.9" y1="70.5" x2="43.45" y2="70.5" stroke="#262626" stroke-width="1.0" />
<text x="21.81" y="74.5" font-size="11.2" fill="#111" textLength="15.71" lengthAdjust="spacingAndGlyphs" style="stroke-width:0.31px;">−4</text>
<line x1="39.9" y1="103.5" x2="43.45" y2="103.5" stroke="#262626" stroke-width="1.0" />
<text x="21.8" y="107.5" font-size="11.2" fill="#111" textLength="15.93" lengthAdjust="spacingAndGlyphs" style="stroke-width:0.31px;">−6</text>
<line x1="39.9" y1="136.5" x2="43.45" y2="136.5" stroke="#262626" stroke-width="1.0" />
<text x="21.8" y="140.5" font-size="11.2" fill="#111" textLength="15.93" lengthAdjust="spacingAndGlyphs" style="stroke-width:0.31px;">−8</text>
<line x1="39.9" y1="169.5" x2="43.45" y2="169.5" stroke="#262626" stroke-width="1.0" />
<text x="15.45" y="173.5" font-size="11.2" fill="#111" textLength="22.2" lengthAdjust="spacingAndGlyphs" style="stroke-width:0.31px;">−10</text>
<line x1="43" y1="169.5" x2="43" y2="173" stroke="#262626" stroke-width="1.0" />
<text x="40.39" y="182.6" font-size="10.5" fill="#111" textLength="5.62" lengthAdjust="spacingAndGlyphs" style="stroke-width:0.29px;">L</text>
<line x1="91.4" y1="169.5" x2="91.4" y2="173" stroke="#262626" stroke-width="1.0" />
<text x="88.87" y="182.6" font-size="10.5" fill="#111" textLength="5.7" lengthAdjust="spacingAndGlyphs" style="stroke-width:0.29px;">Γ</text>
<line x1="131.8" y1="169.5" x2="131.8" y2="173" stroke="#262626" stroke-width="1.0" />
<text x="127.7" y="182.6" font-size="10.5" fill="#111" textLength="7.96" lengthAdjust="spacingAndGlyphs" style="stroke-width:0.29px;">X</text>
<line x1="148.2" y1="169.5" x2="148.2" y2="173" stroke="#262626" stroke-width="1.0" />
<text x="144.56" y="182.6" font-size="10.5" fill="#111" textLength="8.11" lengthAdjust="spacingAndGlyphs" style="stroke-width:0.29px;">U</text>
<line x1="200" y1="169.5" x2="200" y2="173" stroke="#262626" stroke-width="1.0" />
<text x="197.47" y="182.6" font-size="10.5" fill="#111" textLength="5.7" lengthAdjust="spacingAndGlyphs" style="stroke-width:0.29px;">Γ</text>
<text x="107.32" y="18" font-size="14.0" fill="#111" textLength="28.5" lengthAdjust="spacingAndGlyphs" style="stroke-width:0.22px">InAs</text>
<text transform="translate(10.4,127.77) rotate(-90)" font-size="10.5" fill="#111" textLength="65.01" lengthAdjust="spacingAndGlyphs" style="stroke-width:0.29px;">Energy (eV)</text>
<clipPath id="pc2"><rect x="243" y="21" width="157" height="148.5"/></clipPath><g clip-path="url(#pc2)">
<line x1="291.4" y1="21" x2="291.4" y2="169.5" stroke="#dcdcdc" stroke-width="0.8" />
<line x1="331.8" y1="21" x2="331.8" y2="169.5" stroke="#dcdcdc" stroke-width="0.8" />
<line x1="348.2" y1="21" x2="348.2" y2="169.5" stroke="#dcdcdc" stroke-width="0.8" />
<line x1="243" y1="74.4" x2="400" y2="74.4" stroke="#9a9a9a" stroke-width="0.8" stroke-dasharray="0.8,1.6"/>
<line x1="243" y1="99.1" x2="400" y2="99.1" stroke="#9a9a9a" stroke-width="0.8" stroke-dasharray="0.8,1.6"/>
<circle cx="243" cy="59.6" r="1.2" fill="#9e2c1c" opacity="1"/>
<circle cx="245.42" cy="59.26" r="1.2" fill="#9e2c1c" opacity="1"/>
<circle cx="247.84" cy="58.94" r="1.2" fill="#9e2c1c" opacity="1"/>
<circle cx="250.26" cy="58.59" r="1.2" fill="#9e2c1c" opacity="1"/>
<circle cx="252.68" cy="58.14" r="1.2" fill="#9e2c1c" opacity="1"/>
<circle cx="255.1" cy="57.58" r="1.2" fill="#9e2c1c" opacity="1"/>
<circle cx="257.52" cy="56.93" r="1.2" fill="#9e2c1c" opacity="1"/>
<circle cx="259.94" cy="56.28" r="1.2" fill="#9e2c1c" opacity="1"/>
<circle cx="262.36" cy="55.69" r="1.2" fill="#9e2c1c" opacity="1"/>
<circle cx="264.78" cy="55.09" r="1.2" fill="#9e2c1c" opacity="1"/>
<circle cx="267.2" cy="54.63" r="1.2" fill="#9e2c1c" opacity="1"/>
<circle cx="269.62" cy="54.76" r="1.2" fill="#9e2c1c" opacity="1"/>
<circle cx="272.04" cy="55.56" r="1.2" fill="#9e2c1c" opacity="1"/>
<circle cx="274.46" cy="56.68" r="1.2" fill="#9e2c1c" opacity="1"/>
<circle cx="276.88" cy="58.63" r="1.2" fill="#9e2c1c" opacity="1"/>
<circle cx="279.3" cy="61" r="1.2" fill="#9e2c1c" opacity="1"/>
<circle cx="281.72" cy="63.93" r="1.2" fill="#9e2c1c" opacity="1"/>
<circle cx="284.14" cy="67.83" r="1.2" fill="#9e2c1c" opacity="1"/>
<circle cx="286.56" cy="71.59" r="1.2" fill="#9e2c1c" opacity="1"/>
<circle cx="288.98" cy="73.66" r="1.2" fill="#9e2c1c" opacity="1"/>
<circle cx="291.4" cy="74.4" r="1.2" fill="#9e2c1c" opacity="1"/>
<circle cx="293.42" cy="68.44" r="1.2" fill="#9e2c1c" opacity="1"/>
<circle cx="295.44" cy="62.89" r="1.2" fill="#9e2c1c" opacity="1"/>
<circle cx="297.46" cy="57.13" r="1.2" fill="#9e2c1c" opacity="1"/>
<circle cx="299.48" cy="51.59" r="1.2" fill="#9e2c1c" opacity="1"/>
<circle cx="301.5" cy="46.79" r="1.2" fill="#9e2c1c" opacity="1"/>
<circle cx="303.52" cy="43.13" r="1.2" fill="#9e2c1c" opacity="1"/>
<circle cx="305.54" cy="41.14" r="1.2" fill="#9e2c1c" opacity="1"/>
<circle cx="307.56" cy="41.47" r="1.2" fill="#9e2c1c" opacity="1"/>
<circle cx="309.58" cy="42.72" r="1.2" fill="#9e2c1c" opacity="1"/>
<circle cx="311.6" cy="44.09" r="1.2" fill="#9e2c1c" opacity="1"/>
<circle cx="313.62" cy="45.5" r="1.2" fill="#9e2c1c" opacity="1"/>
<circle cx="315.64" cy="46.98" r="1.2" fill="#9e2c1c" opacity="1"/>
<circle cx="317.66" cy="48.56" r="1.2" fill="#9e2c1c" opacity="1"/>
<circle cx="319.68" cy="50.14" r="1.2" fill="#9e2c1c" opacity="1"/>
<circle cx="321.7" cy="51.63" r="1.2" fill="#9e2c1c" opacity="1"/>
<circle cx="323.72" cy="52.95" r="1.2" fill="#9e2c1c" opacity="1"/>
<circle cx="325.74" cy="54.09" r="1.2" fill="#9e2c1c" opacity="1"/>
<circle cx="327.76" cy="55.14" r="1.2" fill="#9e2c1c" opacity="1"/>
<circle cx="329.78" cy="56.16" r="1.2" fill="#9e2c1c" opacity="1"/>
<circle cx="331.8" cy="57.2" r="1.2" fill="#9e2c1c" opacity="1"/>
<circle cx="335.21" cy="54.59" r="1.2" fill="#9e2c1c" opacity="1"/>
<circle cx="338.62" cy="52.04" r="1.2" fill="#9e2c1c" opacity="1"/>
<circle cx="342.03" cy="50.33" r="1.2" fill="#9e2c1c" opacity="1"/>
<circle cx="345.44" cy="48.9" r="1.2" fill="#9e2c1c" opacity="1"/>
<circle cx="348.85" cy="45.46" r="1.2" fill="#9e2c1c" opacity="1"/>
<circle cx="352.26" cy="42.61" r="1.2" fill="#9e2c1c" opacity="1"/>
<circle cx="355.67" cy="39.99" r="1.2" fill="#9e2c1c" opacity="1"/>
<circle cx="359.08" cy="36.91" r="1.2" fill="#9e2c1c" opacity="1"/>
<circle cx="362.49" cy="35.23" r="1.2" fill="#9e2c1c" opacity="1"/>
<circle cx="365.9" cy="34.5" r="1.2" fill="#9e2c1c" opacity="1"/>
<circle cx="369.31" cy="34.97" r="1.2" fill="#9e2c1c" opacity="1"/>
<circle cx="372.72" cy="36.99" r="1.2" fill="#9e2c1c" opacity="1"/>
<circle cx="376.13" cy="40.02" r="1.2" fill="#9e2c1c" opacity="1"/>
<circle cx="379.54" cy="44.61" r="1.2" fill="#9e2c1c" opacity="1"/>
<circle cx="382.95" cy="48.83" r="1.2" fill="#9e2c1c" opacity="1"/>
<circle cx="386.36" cy="54.16" r="1.2" fill="#9e2c1c" opacity="1"/>
<circle cx="389.77" cy="60.02" r="1.2" fill="#9e2c1c" opacity="1"/>
<circle cx="393.18" cy="65.98" r="1.2" fill="#9e2c1c" opacity="1"/>
<circle cx="396.59" cy="71.93" r="1.2" fill="#9e2c1c" opacity="1"/>
<circle cx="400" cy="74.4" r="1.2" fill="#9e2c1c" opacity="1"/>
<circle cx="286.6" cy="21.8" r="1.2" fill="#9e2c1c" opacity="1"/>
<circle cx="289" cy="21.9" r="1.2" fill="#9e2c1c" opacity="1"/>
<circle cx="291.4" cy="22" r="1.2" fill="#9e2c1c" opacity="1"/>
<circle cx="293.4" cy="22" r="1.2" fill="#9e2c1c" opacity="1"/>
<circle cx="295.4" cy="22.2" r="1.2" fill="#9e2c1c" opacity="1"/>
<circle cx="297.4" cy="23" r="1.2" fill="#9e2c1c" opacity="1"/>
<circle cx="299.4" cy="24.5" r="1.2" fill="#9e2c1c" opacity="1"/>
<circle cx="301.4" cy="27.7" r="1.2" fill="#9e2c1c" opacity="1"/>
<circle cx="303.4" cy="30.9" r="1.2" fill="#9e2c1c" opacity="1"/>
<circle cx="305.4" cy="34.5" r="1.2" fill="#9e2c1c" opacity="1"/>
<circle cx="307.4" cy="36.2" r="1.2" fill="#9e2c1c" opacity="1"/>
<circle cx="309.58" cy="36.24" r="1.2" fill="#9e2c1c" opacity="1"/>
<circle cx="311.6" cy="36.44" r="1.2" fill="#9e2c1c" opacity="1"/>
<circle cx="313.62" cy="36.96" r="1.2" fill="#9e2c1c" opacity="1"/>
<circle cx="315.64" cy="37.7" r="1.2" fill="#9e2c1c" opacity="1"/>
<circle cx="317.66" cy="38.67" r="1.2" fill="#9e2c1c" opacity="1"/>
<circle cx="319.68" cy="39.75" r="1.2" fill="#9e2c1c" opacity="1"/>
<circle cx="321.7" cy="40.91" r="1.2" fill="#9e2c1c" opacity="1"/>
<circle cx="323.72" cy="42.08" r="1.2" fill="#9e2c1c" opacity="1"/>
<circle cx="325.74" cy="43.25" r="1.2" fill="#9e2c1c" opacity="1"/>
<circle cx="327.76" cy="44.4" r="1.2" fill="#9e2c1c" opacity="1"/>
<circle cx="329.78" cy="45.5" r="1.2" fill="#9e2c1c" opacity="1"/>
<circle cx="331.8" cy="46.6" r="1.2" fill="#9e2c1c" opacity="1"/>
<circle cx="334.9" cy="44.8" r="1.2" fill="#9e2c1c" opacity="1"/>
<circle cx="338.8" cy="40" r="1.2" fill="#9e2c1c" opacity="1"/>
<circle cx="342.3" cy="32" r="1.2" fill="#9e2c1c" opacity="1"/>
<circle cx="345.5" cy="22.5" r="1.2" fill="#9e2c1c" opacity="1"/>
<circle cx="243" cy="111.8" r="1.2" fill="#9e2c1c" opacity="1"/>
<circle cx="245.42" cy="111.68" r="1.2" fill="#9e2c1c" opacity="1"/>
<circle cx="247.84" cy="111.59" r="1.2" fill="#9e2c1c" opacity="1"/>
<circle cx="250.26" cy="111.35" r="1.2" fill="#9e2c1c" opacity="1"/>
<circle cx="252.68" cy="110.83" r="1.2" fill="#9e2c1c" opacity="1"/>
<circle cx="255.1" cy="110.09" r="1.2" fill="#9e2c1c" opacity="1"/>
<circle cx="257.52" cy="109.22" r="1.2" fill="#9e2c1c" opacity="1"/>
<circle cx="259.94" cy="108.33" r="1.2" fill="#9e2c1c" opacity="1"/>
<circle cx="262.36" cy="107.38" r="1.2" fill="#9e2c1c" opacity="1"/>
<circle cx="264.78" cy="106.37" r="1.2" fill="#9e2c1c" opacity="1"/>
<circle cx="267.2" cy="105.34" r="1.2" fill="#9e2c1c" opacity="1"/>
<circle cx="269.62" cy="104.26" r="1.2" fill="#9e2c1c" opacity="1"/>
<circle cx="272.04" cy="103.14" r="1.2" fill="#9e2c1c" opacity="1"/>
<circle cx="274.46" cy="102.07" r="1.2" fill="#9e2c1c" opacity="1"/>
<circle cx="276.88" cy="101.15" r="1.2" fill="#9e2c1c" opacity="1"/>
<circle cx="279.3" cy="100.33" r="1.2" fill="#9e2c1c" opacity="1"/>
<circle cx="281.72" cy="99.59" r="1.2" fill="#9e2c1c" opacity="1"/>
<circle cx="284.14" cy="98.95" r="1.2" fill="#9e2c1c" opacity="1"/>
<circle cx="286.56" cy="98.61" r="1.2" fill="#9e2c1c" opacity="1"/>
<circle cx="288.98" cy="98.42" r="1.2" fill="#9e2c1c" opacity="1"/>
<circle cx="291.4" cy="98.3" r="1.2" fill="#9e2c1c" opacity="1"/>
<circle cx="243" cy="115.4" r="1.2" fill="#9e2c1c" opacity="1"/>
<circle cx="245.42" cy="115.29" r="1.2" fill="#9e2c1c" opacity="1"/>
<circle cx="247.84" cy="115.2" r="1.2" fill="#9e2c1c" opacity="1"/>
<circle cx="250.26" cy="114.95" r="1.2" fill="#9e2c1c" opacity="1"/>
<circle cx="252.68" cy="114.4" r="1.2" fill="#9e2c1c" opacity="1"/>
<circle cx="255.1" cy="113.57" r="1.2" fill="#9e2c1c" opacity="1"/>
<circle cx="257.52" cy="112.63" r="1.2" fill="#9e2c1c" opacity="1"/>
<circle cx="259.94" cy="111.74" r="1.2" fill="#9e2c1c" opacity="1"/>
<circle cx="262.36" cy="110.88" r="1.2" fill="#9e2c1c" opacity="1"/>
<circle cx="264.78" cy="109.99" r="1.2" fill="#9e2c1c" opacity="1"/>
<circle cx="267.2" cy="109.04" r="1.2" fill="#9e2c1c" opacity="1"/>
<circle cx="269.62" cy="107.97" r="1.2" fill="#9e2c1c" opacity="1"/>
<circle cx="272.04" cy="106.83" r="1.2" fill="#9e2c1c" opacity="1"/>
<circle cx="274.46" cy="105.71" r="1.2" fill="#9e2c1c" opacity="1"/>
<circle cx="276.88" cy="104.69" r="1.2" fill="#9e2c1c" opacity="1"/>
<circle cx="279.3" cy="103.75" r="1.2" fill="#9e2c1c" opacity="1"/>
<circle cx="281.72" cy="102.84" r="1.2" fill="#9e2c1c" opacity="1"/>
<circle cx="284.14" cy="101.97" r="1.2" fill="#9e2c1c" opacity="1"/>
<circle cx="286.56" cy="101.2" r="1.2" fill="#9e2c1c" opacity="1"/>
<circle cx="288.98" cy="100.55" r="1.2" fill="#9e2c1c" opacity="1"/>
<circle cx="291.4" cy="100" r="1.2" fill="#9e2c1c" opacity="1"/>
<circle cx="262.36" cy="167.85" r="1.2" fill="#9e2c1c" opacity="1"/>
<circle cx="264.78" cy="162.1" r="1.2" fill="#9e2c1c" opacity="1"/>
<circle cx="267.2" cy="155.85" r="1.2" fill="#9e2c1c" opacity="1"/>
<circle cx="269.62" cy="149.75" r="1.2" fill="#9e2c1c" opacity="1"/>
<circle cx="272.04" cy="143.39" r="1.2" fill="#9e2c1c" opacity="1"/>
<circle cx="274.46" cy="136.91" r="1.2" fill="#9e2c1c" opacity="1"/>
<circle cx="276.88" cy="130.55" r="1.2" fill="#9e2c1c" opacity="1"/>
<circle cx="279.3" cy="124.5" r="1.2" fill="#9e2c1c" opacity="1"/>
<circle cx="281.72" cy="118.45" r="1.2" fill="#9e2c1c" opacity="1"/>
<circle cx="284.14" cy="112.35" r="1.2" fill="#9e2c1c" opacity="1"/>
<circle cx="286.56" cy="106.48" r="1.2" fill="#9e2c1c" opacity="1"/>
<circle cx="288.98" cy="102.3" r="1.2" fill="#9e2c1c" opacity="1"/>
<circle cx="291.4" cy="101.3" r="1.2" fill="#9e2c1c" opacity="1"/>
<circle cx="293.42" cy="101.66" r="1.2" fill="#9e2c1c" opacity="1"/>
<circle cx="295.44" cy="103.44" r="1.2" fill="#9e2c1c" opacity="1"/>
<circle cx="297.46" cy="105.63" r="1.2" fill="#9e2c1c" opacity="1"/>
<circle cx="299.48" cy="107.98" r="1.2" fill="#9e2c1c" opacity="1"/>
<circle cx="301.5" cy="110.24" r="1.2" fill="#9e2c1c" opacity="1"/>
<circle cx="303.52" cy="112.52" r="1.2" fill="#9e2c1c" opacity="1"/>
<circle cx="305.54" cy="114.88" r="1.2" fill="#9e2c1c" opacity="1"/>
<circle cx="307.56" cy="117.23" r="1.2" fill="#9e2c1c" opacity="1"/>
<circle cx="309.58" cy="119.44" r="1.2" fill="#9e2c1c" opacity="1"/>
<circle cx="311.6" cy="121.54" r="1.2" fill="#9e2c1c" opacity="1"/>
<circle cx="313.62" cy="123.59" r="1.2" fill="#9e2c1c" opacity="1"/>
<circle cx="315.64" cy="125.66" r="1.2" fill="#9e2c1c" opacity="1"/>
<circle cx="317.66" cy="127.76" r="1.2" fill="#9e2c1c" opacity="1"/>
<circle cx="319.68" cy="129.83" r="1.2" fill="#9e2c1c" opacity="1"/>
<circle cx="321.7" cy="131.75" r="1.2" fill="#9e2c1c" opacity="1"/>
<circle cx="323.72" cy="133.36" r="1.2" fill="#9e2c1c" opacity="1"/>
<circle cx="325.74" cy="134.67" r="1.2" fill="#9e2c1c" opacity="1"/>
<circle cx="327.76" cy="135.73" r="1.2" fill="#9e2c1c" opacity="1"/>
<circle cx="329.78" cy="136.61" r="1.2" fill="#9e2c1c" opacity="1"/>
<circle cx="331.8" cy="137" r="1.2" fill="#9e2c1c" opacity="1"/>
<circle cx="305.54" cy="116.8" r="1.2" fill="#9e2c1c" opacity="1"/>
<circle cx="307.56" cy="119.06" r="1.2" fill="#9e2c1c" opacity="1"/>
<circle cx="309.58" cy="121.24" r="1.2" fill="#9e2c1c" opacity="1"/>
<circle cx="311.6" cy="123.36" r="1.2" fill="#9e2c1c" opacity="1"/>
<circle cx="313.62" cy="125.43" r="1.2" fill="#9e2c1c" opacity="1"/>
<circle cx="315.64" cy="127.42" r="1.2" fill="#9e2c1c" opacity="1"/>
<circle cx="317.66" cy="129.33" r="1.2" fill="#9e2c1c" opacity="1"/>
<circle cx="319.68" cy="131.17" r="1.2" fill="#9e2c1c" opacity="1"/>
<circle cx="321.7" cy="132.92" r="1.2" fill="#9e2c1c" opacity="1"/>
<circle cx="323.72" cy="134.54" r="1.2" fill="#9e2c1c" opacity="1"/>
<circle cx="325.74" cy="135.86" r="1.2" fill="#9e2c1c" opacity="1"/>
<circle cx="327.76" cy="136.86" r="1.2" fill="#9e2c1c" opacity="1"/>
<circle cx="329.78" cy="137.71" r="1.2" fill="#9e2c1c" opacity="1"/>
<circle cx="331.8" cy="138.3" r="1.2" fill="#9e2c1c" opacity="1"/>
<circle cx="338.62" cy="133.93" r="1.2" fill="#9e2c1c" opacity="1"/>
<circle cx="342.03" cy="132.68" r="1.2" fill="#9e2c1c" opacity="1"/>
<circle cx="345.44" cy="131.25" r="1.2" fill="#9e2c1c" opacity="1"/>
<circle cx="348.85" cy="129.54" r="1.2" fill="#9e2c1c" opacity="1"/>
<circle cx="352.26" cy="127.49" r="1.2" fill="#9e2c1c" opacity="1"/>
<circle cx="355.67" cy="125.25" r="1.2" fill="#9e2c1c" opacity="1"/>
<circle cx="359.08" cy="122.82" r="1.2" fill="#9e2c1c" opacity="1"/>
<circle cx="362.49" cy="119.88" r="1.2" fill="#9e2c1c" opacity="1"/>
<circle cx="365.9" cy="116.52" r="1.2" fill="#9e2c1c" opacity="1"/>
<circle cx="369.31" cy="113.61" r="1.2" fill="#9e2c1c" opacity="1"/>
<circle cx="372.72" cy="110.91" r="1.2" fill="#9e2c1c" opacity="1"/>
<circle cx="376.13" cy="107.94" r="1.2" fill="#9e2c1c" opacity="1"/>
<circle cx="379.54" cy="105.24" r="1.2" fill="#9e2c1c" opacity="1"/>
<circle cx="382.95" cy="103.37" r="1.2" fill="#9e2c1c" opacity="1"/>
<circle cx="386.36" cy="101.96" r="1.2" fill="#9e2c1c" opacity="1"/>
<circle cx="389.77" cy="100.74" r="1.2" fill="#9e2c1c" opacity="1"/>
<circle cx="393.18" cy="99.74" r="1.2" fill="#9e2c1c" opacity="1"/>
<circle cx="396.59" cy="99.3" r="1.2" fill="#9e2c1c" opacity="1"/>
<circle cx="400" cy="99.3" r="1.2" fill="#9e2c1c" opacity="1"/>
<circle cx="338.62" cy="141.61" r="1.2" fill="#9e2c1c" opacity="1"/>
<circle cx="342.03" cy="145.95" r="1.2" fill="#9e2c1c" opacity="1"/>
<circle cx="345.44" cy="149.58" r="1.2" fill="#9e2c1c" opacity="1"/>
<circle cx="348.85" cy="152.25" r="1.2" fill="#9e2c1c" opacity="1"/>
<circle cx="352.26" cy="153.5" r="1.2" fill="#9e2c1c" opacity="1"/>
<circle cx="355.67" cy="152.5" r="1.2" fill="#9e2c1c" opacity="1"/>
<circle cx="359.08" cy="150.68" r="1.2" fill="#9e2c1c" opacity="1"/>
<circle cx="362.49" cy="148.1" r="1.2" fill="#9e2c1c" opacity="1"/>
<circle cx="365.9" cy="143.65" r="1.2" fill="#9e2c1c" opacity="1"/>
<circle cx="369.31" cy="137.91" r="1.2" fill="#9e2c1c" opacity="1"/>
<circle cx="372.72" cy="132.3" r="1.2" fill="#9e2c1c" opacity="1"/>
<circle cx="376.13" cy="127.31" r="1.2" fill="#9e2c1c" opacity="1"/>
<circle cx="379.54" cy="122.12" r="1.2" fill="#9e2c1c" opacity="1"/>
<circle cx="382.95" cy="116.19" r="1.2" fill="#9e2c1c" opacity="1"/>
<circle cx="386.36" cy="111.23" r="1.2" fill="#9e2c1c" opacity="1"/>
<circle cx="389.77" cy="107.32" r="1.2" fill="#9e2c1c" opacity="1"/>
<circle cx="393.18" cy="103.66" r="1.2" fill="#9e2c1c" opacity="1"/>
<circle cx="396.59" cy="100.77" r="1.2" fill="#9e2c1c" opacity="1"/>
<circle cx="293.42" cy="105.64" r="1.2" fill="#9e2c1c" opacity="1"/>
<circle cx="295.44" cy="109.88" r="1.2" fill="#9e2c1c" opacity="1"/>
<circle cx="297.46" cy="113.75" r="1.2" fill="#9e2c1c" opacity="1"/>
<circle cx="299.48" cy="118.11" r="1.2" fill="#9e2c1c" opacity="1"/>
<circle cx="301.5" cy="122.87" r="1.2" fill="#9e2c1c" opacity="1"/>
<circle cx="303.52" cy="127.76" r="1.2" fill="#9e2c1c" opacity="1"/>
<circle cx="305.54" cy="132.68" r="1.2" fill="#9e2c1c" opacity="1"/>
<circle cx="307.56" cy="137.82" r="1.2" fill="#9e2c1c" opacity="1"/>
<circle cx="309.58" cy="143.32" r="1.2" fill="#9e2c1c" opacity="1"/>
<circle cx="311.6" cy="149.54" r="1.2" fill="#9e2c1c" opacity="1"/>
<circle cx="313.62" cy="158.4" r="1.2" fill="#9e2c1c" opacity="1"/>
<circle cx="315.64" cy="168.21" r="1.2" fill="#9e2c1c" opacity="1"/>
<circle cx="372.72" cy="164.44" r="1.2" fill="#9e2c1c" opacity="1"/>
<circle cx="376.13" cy="156.39" r="1.2" fill="#9e2c1c" opacity="1"/>
<circle cx="379.54" cy="148.82" r="1.2" fill="#9e2c1c" opacity="1"/>
<circle cx="382.95" cy="140.9" r="1.2" fill="#9e2c1c" opacity="1"/>
<circle cx="386.36" cy="132.5" r="1.2" fill="#9e2c1c" opacity="1"/>
<circle cx="389.77" cy="125.5" r="1.2" fill="#9e2c1c" opacity="1"/>
<circle cx="393.18" cy="122.77" r="1.2" fill="#9e2c1c" opacity="1"/>
<circle cx="396.59" cy="114.36" r="1.2" fill="#9e2c1c" opacity="1"/>
<path d="M243,60.6C246.13,60.13 249.25,59.83 252.4,59.2C255.55,58.57 259.07,57.45 261.9,56.8C264.73,56.15 267.37,55.45 269.4,55.3C271.43,55.15 272.53,55.25 274.1,55.9C275.67,56.55 277.22,57.72 278.8,59.2C280.38,60.68 282.02,62.85 283.6,64.8C285.18,66.75 287,69.4 288.3,70.9C289.6,72.4 290.37,72.83 291.4,73.8" fill="none" stroke="#5a6fc8" stroke-width="1.85" stroke-linejoin="round" stroke-linecap="round" opacity="0.85"/>
<path d="M291.4,74.2C292.27,71.97 292.98,70.12 294,67.5C295.02,64.88 296.42,61.33 297.5,58.5C298.58,55.67 299.7,52.55 300.5,50.5C301.3,48.45 301.72,47.53 302.3,46.2C302.88,44.87 303.47,43.37 304,42.5C304.53,41.63 304.83,41.17 305.5,41C306.17,40.83 306.42,40.6 308,41.5C309.58,42.4 312.5,44.52 315,46.4C317.5,48.28 320.35,51.07 323,52.8C325.65,54.53 328.9,56.27 330.9,56.8C332.9,57.33 333.48,56.77 335,56C336.52,55.23 338.33,53.4 340,52.2C341.67,51 343.33,49.9 345,48.8C346.67,47.7 348.18,46.9 350,45.6C351.82,44.3 353.9,42.35 355.9,41C357.9,39.65 360.02,38.32 362,37.5C363.98,36.68 366.13,36.15 367.8,36.1C369.47,36.05 370.7,36.7 372,37.2C373.3,37.7 374.43,38.22 375.6,39.1C376.77,39.98 377.77,41.15 379,42.5C380.23,43.85 381.83,45.7 383,47.2C384.17,48.7 385,50.02 386,51.5C387,52.98 388,54.48 389,56.1C390,57.72 391.02,59.47 392,61.2C392.98,62.93 393.98,64.9 394.9,66.5C395.82,68.1 396.65,69.5 397.5,70.8C398.35,72.1 399.17,73.13 400,74.3" fill="none" stroke="#5a6fc8" stroke-width="1.85" stroke-linejoin="round" stroke-linecap="round" opacity="0.85"/>
<path d="M277.1,21.3C279.73,22.13 282.63,23.13 285,23.8C287.37,24.47 289.63,25.22 291.3,25.3C292.97,25.38 293.85,24.97 295,24.3C296.15,23.63 297.13,22.3 298.2,21.3" fill="none" stroke="#5a6fc8" stroke-width="1.6" stroke-linejoin="round" stroke-linecap="round" opacity="0.85"/>
<path d="M277.8,21.3C280.2,22.47 282.75,23.97 285,24.8C287.25,25.63 289.63,26.22 291.3,26.3C292.97,26.38 293.77,26.13 295,25.3C296.23,24.47 297.47,22.63 298.7,21.3" fill="none" stroke="#5a6fc8" stroke-width="1.6" stroke-linejoin="round" stroke-linecap="round" opacity="0.85"/>
<path d="M278.5,21.3C280.67,22.7 282.87,24.43 285,25.5C287.13,26.57 289.52,27.3 291.3,27.7C293.08,28.1 294.25,27.38 295.7,27.9C297.15,28.42 298.52,29.75 300,30.8C301.48,31.85 303.27,34.12 304.6,34.2C305.93,34.28 306.85,32.33 308,31.3C309.15,30.27 310.33,28.4 311.5,28C312.67,27.6 313.58,28.1 315,28.9C316.42,29.7 318.33,31.2 320,32.8C321.67,34.4 323.18,36.63 325,38.5C326.82,40.37 329.23,43.2 330.9,44C332.57,44.8 333.65,44.3 335,43.3C336.35,42.3 337.75,40.22 339,38C340.25,35.78 341.47,32.78 342.5,30C343.53,27.22 344.3,24.2 345.2,21.3" fill="none" stroke="#5a6fc8" stroke-width="1.85" stroke-linejoin="round" stroke-linecap="round" opacity="0.85"/>
<path d="M382.7,21.3C384.72,22.15 386.74,23.23 388.75,23.84C390.77,24.46 392.94,24.73 394.81,24.99C396.68,25.25 398.27,25.26 400,25.4" fill="none" stroke="#5a6fc8" stroke-width="1.3" stroke-linejoin="round" stroke-linecap="round" opacity="0.85"/>
<path d="M384.5,21.3C386.31,22.48 388.12,23.98 389.93,24.83C391.73,25.69 393.67,26.07 395.35,26.43C397.03,26.79 398.45,26.81 400,27" fill="none" stroke="#5a6fc8" stroke-width="1.3" stroke-linejoin="round" stroke-linecap="round" opacity="0.85"/>
<path d="M386.3,21.3C387.9,22.81 389.5,24.73 391.1,25.83C392.69,26.92 394.41,27.41 395.89,27.87C397.37,28.33 398.63,28.36 400,28.6" fill="none" stroke="#5a6fc8" stroke-width="1.3" stroke-linejoin="round" stroke-linecap="round" opacity="0.85"/>
<path d="M392.6,21.3C393.73,22.13 394.77,23.12 396,23.8C397.23,24.48 398.67,24.87 400,25.4" fill="none" stroke="#5a6fc8" stroke-width="1.3" stroke-linejoin="round" stroke-linecap="round" opacity="0.85"/>
<path d="M243,112.3C245.7,112.1 248.4,112.23 251.1,111.7C253.8,111.17 256.5,110.08 259.2,109.1C261.9,108.12 264.6,106.95 267.3,105.8C270,104.65 272.7,103.23 275.4,102.2C278.1,101.17 281.4,100.13 283.5,99.6C285.6,99.07 286.68,99.13 288,99C289.32,98.87 290.27,98.87 291.4,98.8" fill="none" stroke="#5a6fc8" stroke-width="1.85" stroke-linejoin="round" stroke-linecap="round" opacity="0.85"/>
<path d="M243,114.5C245.7,114.3 248.4,114.43 251.1,113.9C253.8,113.37 256.5,112.28 259.2,111.3C261.9,110.32 264.6,109.15 267.3,108C270,106.85 272.7,105.5 275.4,104.4C278.1,103.3 281.4,102.08 283.5,101.4C285.6,100.72 286.68,100.57 288,100.3C289.32,100.03 290.27,99.97 291.4,99.8" fill="none" stroke="#5a6fc8" stroke-width="1.85" stroke-linejoin="round" stroke-linecap="round" opacity="0.85"/>
<path d="M258.1,169.5C259.73,166 261.02,163.08 263,159C264.98,154.92 267.67,149.83 270,145C272.33,140.17 275.43,133.5 277,130C278.57,126.5 278.65,126 279.4,124C280.15,122 280.65,120.17 281.5,118C282.35,115.83 283.58,113.17 284.5,111C285.42,108.83 286.23,106.55 287,105C287.77,103.45 288.37,102.38 289.1,101.7C289.83,101.02 290.63,101.17 291.4,100.9" fill="none" stroke="#5a6fc8" stroke-width="1.85" stroke-linejoin="round" stroke-linecap="round" opacity="0.85"/>
<path d="M291.2,100.6C292.83,101.7 294.28,102.25 296.1,103.9C297.92,105.55 300.08,108.18 302.1,110.5C304.12,112.82 306.17,115.57 308.2,117.8C310.23,120.03 312.28,122.18 314.3,123.9C316.32,125.62 318.28,126.88 320.3,128.1C322.32,129.32 324.37,130.52 326.4,131.2C328.43,131.88 330.9,132.1 332.5,132.2C334.1,132.3 334.83,131.93 336,131.8" fill="none" stroke="#5a6fc8" stroke-width="1.5" stroke-linejoin="round" stroke-linecap="round" opacity="0.85"/>
<path d="M291.2,99.6C292.8,100.73 294.2,101.27 296,103C297.8,104.73 299.88,107.53 302,110C304.12,112.47 306.53,115.55 308.7,117.8C310.87,120.05 312.78,121.8 315,123.5C317.22,125.2 319.23,126.7 322,128C324.77,129.3 328.6,131.22 331.6,131.3C334.6,131.38 337.23,129.47 340,128.5C342.77,127.53 345.53,126.75 348.2,125.5C350.87,124.25 353.37,122.58 356,121C358.63,119.42 361.33,117.67 364,116C366.67,114.33 369.33,112.58 372,111C374.67,109.42 377.67,107.75 380,106.5C382.33,105.25 384,104.37 386,103.5C388,102.63 389.67,101.85 392,101.3C394.33,100.75 397.33,100.57 400,100.2" fill="none" stroke="#5a6fc8" stroke-width="1.85" stroke-linejoin="round" stroke-linecap="round" opacity="0.85"/>
<path d="M331.6,131.3C332.97,131.7 334.3,131.55 335.7,132.5C337.1,133.45 338.45,135.45 340,137C341.55,138.55 342.95,140.53 345,141.8C347.05,143.07 349.8,144.4 352.3,144.6C354.8,144.8 357.72,144.02 360,143C362.28,141.98 364,140.5 366,138.5C368,136.5 370,133.67 372,131C374,128.33 376,125.25 378,122.5C380,119.75 382,117 384,114.5C386,112 388.17,109.28 390,107.5C391.83,105.72 393.33,104.85 395,103.8C396.67,102.75 398.33,102.07 400,101.2" fill="none" stroke="#5a6fc8" stroke-width="1.7" stroke-linejoin="round" stroke-linecap="round" opacity="0.85"/>
<path d="M291.2,100.2C292.8,103.3 294.7,106.87 296,109.5C297.3,112.13 297.5,112.67 299,116C300.5,119.33 302.83,124.17 305,129.5C307.17,134.83 309.75,141.33 312,148C314.25,154.67 316.33,162.33 318.5,169.5" fill="none" stroke="#5a6fc8" stroke-width="1.85" stroke-linejoin="round" stroke-linecap="round" opacity="0.85"/>
<path d="M367.5,169.5C370,164.67 372.58,159.83 375,155C377.42,150.17 379.75,145.33 382,140.5C384.25,135.67 386.5,130.58 388.5,126C390.5,121.42 392.33,116.67 394,113C395.67,109.33 397.5,106 398.5,104C399.5,102 399.5,102 400,101" fill="none" stroke="#5a6fc8" stroke-width="1.85" stroke-linejoin="round" stroke-linecap="round" opacity="0.85"/>
<rect x="319.2" y="73.6" width="48" height="32.8" fill="#fff" stroke="none"/>
<line x1="343.5" y1="73.6" x2="343.5" y2="106.4" stroke="#dcdcdc" stroke-width="0.8" />
<clipPath id="ci2"><rect x="319.2" y="73.6" width="48" height="32.8"/></clipPath><g clip-path="url(#ci2)">
<line x1="319.2" y1="93.8" x2="367.2" y2="93.8" stroke="#d8d8d8" stroke-width="0.7" />
<circle cx="322.5" cy="87.3" r="1.2" fill="#9e2c1c" opacity="1"/>
<circle cx="328.1" cy="85.4" r="1.2" fill="#9e2c1c" opacity="1"/>
<circle cx="333.3" cy="84.1" r="1.2" fill="#9e2c1c" opacity="1"/>
<circle cx="338.3" cy="83.3" r="1.2" fill="#9e2c1c" opacity="1"/>
<circle cx="343.5" cy="82.8" r="1.2" fill="#9e2c1c" opacity="1"/>
<circle cx="348" cy="84.1" r="1.2" fill="#9e2c1c" opacity="1"/>
<circle cx="352.4" cy="86.8" r="1.2" fill="#9e2c1c" opacity="1"/>
<circle cx="356.4" cy="90.9" r="1.2" fill="#9e2c1c" opacity="1"/>
<circle cx="360.9" cy="97" r="1.2" fill="#9e2c1c" opacity="1"/>
<circle cx="365.3" cy="103.1" r="1.2" fill="#9e2c1c" opacity="1"/>
<circle cx="333" cy="101.5" r="1.2" fill="#9e2c1c" opacity="1"/>
<circle cx="338.3" cy="91.6" r="1.2" fill="#9e2c1c" opacity="1"/>
<circle cx="343.5" cy="87.6" r="1.2" fill="#9e2c1c" opacity="1"/>
<circle cx="348" cy="91.8" r="1.2" fill="#9e2c1c" opacity="1"/>
<circle cx="352.4" cy="102.7" r="1.2" fill="#9e2c1c" opacity="1"/>
<path d="M319.2,89.7C321.47,89.13 323.7,88.57 326,88C328.3,87.43 330.92,86.75 333,86.3C335.08,85.85 336.75,85.58 338.5,85.3C340.25,85.02 341.75,84.35 343.5,84.6C345.25,84.85 347.25,85.82 349,86.8C350.75,87.78 352.17,88.88 354,90.5C355.83,92.12 357.8,94 360,96.5C362.2,99 364.8,102.5 367.2,105.5" fill="none" stroke="#5a6fc8" stroke-width="1.5" stroke-linejoin="round" stroke-linecap="round" opacity="0.85"/>
<path d="M319.2,93C321.47,92.33 323.7,91.75 326,91C328.3,90.25 330.92,89.25 333,88.5C335.08,87.75 336.75,87.15 338.5,86.5C340.25,85.85 341.75,84.42 343.5,84.6C345.25,84.78 347.25,86.45 349,87.6C350.75,88.75 352.17,89.8 354,91.5C355.83,93.2 358,95.32 360,97.8C362,100.28 364,103.53 366,106.4" fill="none" stroke="#5a6fc8" stroke-width="1.5" stroke-linejoin="round" stroke-linecap="round" opacity="0.85"/>
<path d="M330.5,106.4C331.67,104.1 332.75,101.73 334,99.5C335.25,97.27 336.42,94.63 338,93C339.58,91.37 341.83,89.78 343.5,89.7C345.17,89.62 346.67,90.95 348,92.5C349.33,94.05 350.5,96.68 351.5,99C352.5,101.32 353.17,103.93 354,106.4" fill="none" stroke="#5a6fc8" stroke-width="1.5" stroke-linejoin="round" stroke-linecap="round" opacity="0.85"/>
</g>
<rect x="319.2" y="73.6" width="48" height="32.8" fill="none" stroke="#111" stroke-width="1.25"/>
<line x1="317.9" y1="74" x2="319.2" y2="74" stroke="#111" stroke-width="0.6" />
<line x1="317.9" y1="77.96" x2="319.2" y2="77.96" stroke="#111" stroke-width="0.6" />
<line x1="317.9" y1="81.92" x2="319.2" y2="81.92" stroke="#111" stroke-width="0.6" />
<line x1="317.9" y1="85.88" x2="319.2" y2="85.88" stroke="#111" stroke-width="0.6" />
<line x1="317.9" y1="89.84" x2="319.2" y2="89.84" stroke="#111" stroke-width="0.6" />
<line x1="317.9" y1="93.8" x2="319.2" y2="93.8" stroke="#111" stroke-width="0.6" />
<line x1="317.9" y1="97.76" x2="319.2" y2="97.76" stroke="#111" stroke-width="0.6" />
<line x1="317.9" y1="101.72" x2="319.2" y2="101.72" stroke="#111" stroke-width="0.6" />
<line x1="317.9" y1="105.68" x2="319.2" y2="105.68" stroke="#111" stroke-width="0.6" />
<line x1="316.6" y1="74" x2="319.2" y2="74" stroke="#111" stroke-width="0.8" />
<text x="300.63" y="76.94" font-size="7.4" fill="#111" textLength="14.12" lengthAdjust="spacingAndGlyphs" style="stroke-width:0.15px">-5.5</text>
<line x1="316.6" y1="93.8" x2="319.2" y2="93.8" stroke="#111" stroke-width="0.8" />
<text x="300.63" y="96.74" font-size="7.4" fill="#111" textLength="14.08" lengthAdjust="spacingAndGlyphs" style="stroke-width:0.15px">-6.0</text>
<text x="319.85" y="69.9" font-size="7.4" fill="#111" textLength="5.59" lengthAdjust="spacingAndGlyphs" style="stroke-width:0.15px">Δ</text>
<text x="325.27" y="71.1" font-size="6.0" fill="#111" textLength="6.32" lengthAdjust="spacingAndGlyphs" style="stroke-width:0.1px;font-style:italic">so</text>
<text x="332.82" y="69.9" font-size="7.4" fill="#111" textLength="5.66" lengthAdjust="spacingAndGlyphs" style="stroke-width:0.15px">=</text>
<text x="339.84" y="69.9" font-size="7.4" fill="#111" textLength="16.68" lengthAdjust="spacingAndGlyphs" style="stroke-width:0.15px">0.11</text>
<text x="356.74" y="69.9" font-size="7.4" fill="#111" textLength="9.19" lengthAdjust="spacingAndGlyphs" style="stroke-width:0.15px;font-style:italic">eV</text>
</g>
<rect x="243.45" y="21" width="156.85" height="148.5" fill="none" stroke="#262626" stroke-width="1.0"/>
<line x1="239.9" y1="37.5" x2="243.45" y2="37.5" stroke="#262626" stroke-width="1.0" />
<text x="221.8" y="41.5" font-size="11.2" fill="#111" textLength="16.01" lengthAdjust="spacingAndGlyphs" style="stroke-width:0.31px;">−2</text>
<line x1="239.9" y1="70.5" x2="243.45" y2="70.5" stroke="#262626" stroke-width="1.0" />
<text x="221.81" y="74.5" font-size="11.2" fill="#111" textLength="15.71" lengthAdjust="spacingAndGlyphs" style="stroke-width:0.31px;">−4</text>
<line x1="239.9" y1="103.5" x2="243.45" y2="103.5" stroke="#262626" stroke-width="1.0" />
<text x="221.8" y="107.5" font-size="11.2" fill="#111" textLength="15.93" lengthAdjust="spacingAndGlyphs" style="stroke-width:0.31px;">−6</text>
<line x1="239.9" y1="136.5" x2="243.45" y2="136.5" stroke="#262626" stroke-width="1.0" />
<text x="221.8" y="140.5" font-size="11.2" fill="#111" textLength="15.93" lengthAdjust="spacingAndGlyphs" style="stroke-width:0.31px;">−8</text>
<line x1="239.9" y1="169.5" x2="243.45" y2="169.5" stroke="#262626" stroke-width="1.0" />
<text x="215.45" y="173.5" font-size="11.2" fill="#111" textLength="22.2" lengthAdjust="spacingAndGlyphs" style="stroke-width:0.31px;">−10</text>
<line x1="243" y1="169.5" x2="243" y2="173" stroke="#262626" stroke-width="1.0" />
<text x="240.39" y="182.6" font-size="10.5" fill="#111" textLength="5.62" lengthAdjust="spacingAndGlyphs" style="stroke-width:0.29px;">L</text>
<line x1="291.4" y1="169.5" x2="291.4" y2="173" stroke="#262626" stroke-width="1.0" />
<text x="288.87" y="182.6" font-size="10.5" fill="#111" textLength="5.7" lengthAdjust="spacingAndGlyphs" style="stroke-width:0.29px;">Γ</text>
<line x1="331.8" y1="169.5" x2="331.8" y2="173" stroke="#262626" stroke-width="1.0" />
<text x="327.7" y="182.6" font-size="10.5" fill="#111" textLength="7.96" lengthAdjust="spacingAndGlyphs" style="stroke-width:0.29px;">X</text>
<line x1="348.2" y1="169.5" x2="348.2" y2="173" stroke="#262626" stroke-width="1.0" />
<text x="344.56" y="182.6" font-size="10.5" fill="#111" textLength="8.11" lengthAdjust="spacingAndGlyphs" style="stroke-width:0.29px;">U</text>
<line x1="400" y1="169.5" x2="400" y2="173" stroke="#262626" stroke-width="1.0" />
<text x="397.47" y="182.6" font-size="10.5" fill="#111" textLength="5.7" lengthAdjust="spacingAndGlyphs" style="stroke-width:0.29px;">Γ</text>
<text x="311.37" y="17.9" font-size="14.0" fill="#111" textLength="20.53" lengthAdjust="spacingAndGlyphs" style="stroke-width:0.22px">InP</text>
<clipPath id="pc3"><rect x="43" y="209.4" width="157" height="147.9"/></clipPath><g clip-path="url(#pc3)">
<line x1="91.4" y1="209.4" x2="91.4" y2="357.3" stroke="#dcdcdc" stroke-width="0.8" />
<line x1="131.8" y1="209.4" x2="131.8" y2="357.3" stroke="#dcdcdc" stroke-width="0.8" />
<line x1="148.2" y1="209.4" x2="148.2" y2="357.3" stroke="#dcdcdc" stroke-width="0.8" />
<line x1="43" y1="263" x2="200" y2="263" stroke="#9a9a9a" stroke-width="0.8" stroke-dasharray="0.8,1.6"/>
<line x1="43" y1="284.8" x2="200" y2="284.8" stroke="#9a9a9a" stroke-width="0.8" stroke-dasharray="0.8,1.6"/>
<circle cx="43" cy="255" r="1.2" fill="#9e2c1c" opacity="1"/>
<circle cx="45.42" cy="254.76" r="1.2" fill="#9e2c1c" opacity="1"/>
<circle cx="47.84" cy="254.54" r="1.2" fill="#9e2c1c" opacity="1"/>
<circle cx="50.26" cy="254.26" r="1.2" fill="#9e2c1c" opacity="1"/>
<circle cx="52.68" cy="253.84" r="1.2" fill="#9e2c1c" opacity="1"/>
<circle cx="55.1" cy="253.27" r="1.2" fill="#9e2c1c" opacity="1"/>
<circle cx="57.52" cy="252.59" r="1.2" fill="#9e2c1c" opacity="1"/>
<circle cx="59.94" cy="251.82" r="1.2" fill="#9e2c1c" opacity="1"/>
<circle cx="62.36" cy="250.91" r="1.2" fill="#9e2c1c" opacity="1"/>
<circle cx="64.78" cy="249.73" r="1.2" fill="#9e2c1c" opacity="1"/>
<circle cx="67.2" cy="248.37" r="1.2" fill="#9e2c1c" opacity="1"/>
<circle cx="69.62" cy="247.21" r="1.2" fill="#9e2c1c" opacity="1"/>
<circle cx="72.04" cy="246.43" r="1.2" fill="#9e2c1c" opacity="1"/>
<circle cx="74.46" cy="245.96" r="1.2" fill="#9e2c1c" opacity="1"/>
<circle cx="76.88" cy="245.99" r="1.2" fill="#9e2c1c" opacity="1"/>
<circle cx="79.3" cy="246.85" r="1.2" fill="#9e2c1c" opacity="1"/>
<circle cx="81.72" cy="249.53" r="1.2" fill="#9e2c1c" opacity="1"/>
<circle cx="84.14" cy="253.54" r="1.2" fill="#9e2c1c" opacity="1"/>
<circle cx="86.56" cy="257.34" r="1.2" fill="#9e2c1c" opacity="1"/>
<circle cx="88.98" cy="260.56" r="1.2" fill="#9e2c1c" opacity="1"/>
<circle cx="91.4" cy="263.09" r="1.2" fill="#9e2c1c" opacity="1"/>
<circle cx="93.42" cy="258.69" r="1.2" fill="#9e2c1c" opacity="1"/>
<circle cx="95.44" cy="253.65" r="1.2" fill="#9e2c1c" opacity="1"/>
<circle cx="97.46" cy="248.61" r="1.2" fill="#9e2c1c" opacity="1"/>
<circle cx="99.48" cy="241.91" r="1.2" fill="#9e2c1c" opacity="1"/>
<circle cx="101.5" cy="235.76" r="1.2" fill="#9e2c1c" opacity="1"/>
<circle cx="103.52" cy="231.79" r="1.2" fill="#9e2c1c" opacity="1"/>
<circle cx="105.54" cy="233.22" r="1.2" fill="#9e2c1c" opacity="1"/>
<circle cx="107.56" cy="235.36" r="1.2" fill="#9e2c1c" opacity="1"/>
<circle cx="109.58" cy="237.39" r="1.2" fill="#9e2c1c" opacity="1"/>
<circle cx="111.6" cy="239.33" r="1.2" fill="#9e2c1c" opacity="1"/>
<circle cx="113.62" cy="241.35" r="1.2" fill="#9e2c1c" opacity="1"/>
<circle cx="115.64" cy="243.46" r="1.2" fill="#9e2c1c" opacity="1"/>
<circle cx="117.66" cy="245.42" r="1.2" fill="#9e2c1c" opacity="1"/>
<circle cx="119.68" cy="246.93" r="1.2" fill="#9e2c1c" opacity="1"/>
<circle cx="121.7" cy="247.88" r="1.2" fill="#9e2c1c" opacity="1"/>
<circle cx="123.72" cy="249.35" r="1.2" fill="#9e2c1c" opacity="1"/>
<circle cx="125.74" cy="250.34" r="1.2" fill="#9e2c1c" opacity="1"/>
<circle cx="127.76" cy="250.71" r="1.2" fill="#9e2c1c" opacity="1"/>
<circle cx="129.78" cy="251.11" r="1.2" fill="#9e2c1c" opacity="1"/>
<circle cx="131.8" cy="251.4" r="1.2" fill="#9e2c1c" opacity="1"/>
<circle cx="135.21" cy="250.33" r="1.2" fill="#9e2c1c" opacity="1"/>
<circle cx="138.62" cy="248.42" r="1.2" fill="#9e2c1c" opacity="1"/>
<circle cx="142.03" cy="246.22" r="1.2" fill="#9e2c1c" opacity="1"/>
<circle cx="145.44" cy="244.48" r="1.2" fill="#9e2c1c" opacity="1"/>
<circle cx="148.85" cy="240.72" r="1.2" fill="#9e2c1c" opacity="1"/>
<circle cx="152.26" cy="237.32" r="1.2" fill="#9e2c1c" opacity="1"/>
<circle cx="155.67" cy="234.28" r="1.2" fill="#9e2c1c" opacity="1"/>
<circle cx="159.08" cy="231.43" r="1.2" fill="#9e2c1c" opacity="1"/>
<circle cx="162.49" cy="229.26" r="1.2" fill="#9e2c1c" opacity="1"/>
<circle cx="165.9" cy="227.93" r="1.2" fill="#9e2c1c" opacity="1"/>
<circle cx="169.31" cy="227.39" r="1.2" fill="#9e2c1c" opacity="1"/>
<circle cx="172.72" cy="228.01" r="1.2" fill="#9e2c1c" opacity="1"/>
<circle cx="176.13" cy="229.63" r="1.2" fill="#9e2c1c" opacity="1"/>
<circle cx="179.54" cy="232.16" r="1.2" fill="#9e2c1c" opacity="1"/>
<circle cx="182.95" cy="235.52" r="1.2" fill="#9e2c1c" opacity="1"/>
<circle cx="186.36" cy="239.64" r="1.2" fill="#9e2c1c" opacity="1"/>
<circle cx="189.77" cy="244.74" r="1.2" fill="#9e2c1c" opacity="1"/>
<circle cx="193.18" cy="250.5" r="1.2" fill="#9e2c1c" opacity="1"/>
<circle cx="196.59" cy="256.58" r="1.2" fill="#9e2c1c" opacity="1"/>
<circle cx="200" cy="263" r="1.2" fill="#9e2c1c" opacity="1"/>
<circle cx="81.6" cy="210.3" r="1.2" fill="#9e2c1c" opacity="1"/>
<circle cx="84" cy="210.7" r="1.2" fill="#9e2c1c" opacity="1"/>
<circle cx="86.4" cy="211.1" r="1.2" fill="#9e2c1c" opacity="1"/>
<circle cx="88.8" cy="211.5" r="1.2" fill="#9e2c1c" opacity="1"/>
<circle cx="91.4" cy="211.8" r="1.2" fill="#9e2c1c" opacity="1"/>
<circle cx="93.4" cy="212.3" r="1.2" fill="#9e2c1c" opacity="1"/>
<circle cx="95.4" cy="213.8" r="1.2" fill="#9e2c1c" opacity="1"/>
<circle cx="97.4" cy="216.3" r="1.2" fill="#9e2c1c" opacity="1"/>
<circle cx="99.4" cy="219.6" r="1.2" fill="#9e2c1c" opacity="1"/>
<circle cx="101.4" cy="222.6" r="1.2" fill="#9e2c1c" opacity="1"/>
<circle cx="103.4" cy="223.8" r="1.2" fill="#9e2c1c" opacity="1"/>
<circle cx="105.54" cy="221.19" r="1.2" fill="#9e2c1c" opacity="1"/>
<circle cx="107.56" cy="219.71" r="1.2" fill="#9e2c1c" opacity="1"/>
<circle cx="109.58" cy="219.12" r="1.2" fill="#9e2c1c" opacity="1"/>
<circle cx="111.6" cy="220.55" r="1.2" fill="#9e2c1c" opacity="1"/>
<circle cx="113.62" cy="222.44" r="1.2" fill="#9e2c1c" opacity="1"/>
<circle cx="115.64" cy="224.87" r="1.2" fill="#9e2c1c" opacity="1"/>
<circle cx="117.66" cy="227.48" r="1.2" fill="#9e2c1c" opacity="1"/>
<circle cx="119.68" cy="229.98" r="1.2" fill="#9e2c1c" opacity="1"/>
<circle cx="121.7" cy="232.5" r="1.2" fill="#9e2c1c" opacity="1"/>
<circle cx="123.72" cy="236.06" r="1.2" fill="#9e2c1c" opacity="1"/>
<circle cx="125.74" cy="239.18" r="1.2" fill="#9e2c1c" opacity="1"/>
<circle cx="127.76" cy="242.32" r="1.2" fill="#9e2c1c" opacity="1"/>
<circle cx="129.78" cy="244.65" r="1.2" fill="#9e2c1c" opacity="1"/>
<circle cx="131.8" cy="245.8" r="1.2" fill="#9e2c1c" opacity="1"/>
<circle cx="135" cy="244.6" r="1.2" fill="#9e2c1c" opacity="1"/>
<circle cx="138.7" cy="238.5" r="1.2" fill="#9e2c1c" opacity="1"/>
<circle cx="142.3" cy="225.8" r="1.2" fill="#9e2c1c" opacity="1"/>
<circle cx="145.6" cy="211.8" r="1.2" fill="#9e2c1c" opacity="1"/>
<circle cx="186.5" cy="210.3" r="1.2" fill="#9e2c1c" opacity="1"/>
<circle cx="189.5" cy="211.3" r="1.2" fill="#9e2c1c" opacity="1"/>
<circle cx="192.5" cy="211.5" r="1.2" fill="#9e2c1c" opacity="1"/>
<circle cx="196" cy="210.8" r="1.2" fill="#9e2c1c" opacity="1"/>
<circle cx="197" cy="212.8" r="1.2" fill="#9e2c1c" opacity="1"/>
<circle cx="199.5" cy="211.2" r="1.2" fill="#9e2c1c" opacity="1"/>
<circle cx="199.5" cy="213" r="1.2" fill="#9e2c1c" opacity="1"/>
<circle cx="43" cy="303.3" r="1.2" fill="#9e2c1c" opacity="1"/>
<circle cx="45.42" cy="303.18" r="1.2" fill="#9e2c1c" opacity="1"/>
<circle cx="47.84" cy="303.09" r="1.2" fill="#9e2c1c" opacity="1"/>
<circle cx="50.26" cy="302.85" r="1.2" fill="#9e2c1c" opacity="1"/>
<circle cx="52.68" cy="302.33" r="1.2" fill="#9e2c1c" opacity="1"/>
<circle cx="55.1" cy="301.6" r="1.2" fill="#9e2c1c" opacity="1"/>
<circle cx="57.52" cy="300.74" r="1.2" fill="#9e2c1c" opacity="1"/>
<circle cx="59.94" cy="299.81" r="1.2" fill="#9e2c1c" opacity="1"/>
<circle cx="62.36" cy="298.81" r="1.2" fill="#9e2c1c" opacity="1"/>
<circle cx="64.78" cy="297.72" r="1.2" fill="#9e2c1c" opacity="1"/>
<circle cx="67.2" cy="296.55" r="1.2" fill="#9e2c1c" opacity="1"/>
<circle cx="69.62" cy="295.26" r="1.2" fill="#9e2c1c" opacity="1"/>
<circle cx="72.04" cy="293.86" r="1.2" fill="#9e2c1c" opacity="1"/>
<circle cx="74.46" cy="292.5" r="1.2" fill="#9e2c1c" opacity="1"/>
<circle cx="76.88" cy="291.26" r="1.2" fill="#9e2c1c" opacity="1"/>
<circle cx="79.3" cy="290.12" r="1.2" fill="#9e2c1c" opacity="1"/>
<circle cx="81.72" cy="289.01" r="1.2" fill="#9e2c1c" opacity="1"/>
<circle cx="84.14" cy="287.9" r="1.2" fill="#9e2c1c" opacity="1"/>
<circle cx="86.56" cy="286.79" r="1.2" fill="#9e2c1c" opacity="1"/>
<circle cx="88.98" cy="285.88" r="1.2" fill="#9e2c1c" opacity="1"/>
<circle cx="91.4" cy="285.3" r="1.2" fill="#9e2c1c" opacity="1"/>
<circle cx="43" cy="306.6" r="1.2" fill="#9e2c1c" opacity="1"/>
<circle cx="45.42" cy="306.41" r="1.2" fill="#9e2c1c" opacity="1"/>
<circle cx="47.84" cy="306.24" r="1.2" fill="#9e2c1c" opacity="1"/>
<circle cx="50.26" cy="305.95" r="1.2" fill="#9e2c1c" opacity="1"/>
<circle cx="52.68" cy="305.45" r="1.2" fill="#9e2c1c" opacity="1"/>
<circle cx="55.1" cy="304.8" r="1.2" fill="#9e2c1c" opacity="1"/>
<circle cx="57.52" cy="304.01" r="1.2" fill="#9e2c1c" opacity="1"/>
<circle cx="59.94" cy="303.11" r="1.2" fill="#9e2c1c" opacity="1"/>
<circle cx="62.36" cy="302.08" r="1.2" fill="#9e2c1c" opacity="1"/>
<circle cx="64.78" cy="300.95" r="1.2" fill="#9e2c1c" opacity="1"/>
<circle cx="67.2" cy="299.75" r="1.2" fill="#9e2c1c" opacity="1"/>
<circle cx="69.62" cy="298.49" r="1.2" fill="#9e2c1c" opacity="1"/>
<circle cx="72.04" cy="297.17" r="1.2" fill="#9e2c1c" opacity="1"/>
<circle cx="74.46" cy="295.82" r="1.2" fill="#9e2c1c" opacity="1"/>
<circle cx="76.88" cy="294.49" r="1.2" fill="#9e2c1c" opacity="1"/>
<circle cx="79.3" cy="293.16" r="1.2" fill="#9e2c1c" opacity="1"/>
<circle cx="81.72" cy="291.81" r="1.2" fill="#9e2c1c" opacity="1"/>
<circle cx="84.14" cy="290.42" r="1.2" fill="#9e2c1c" opacity="1"/>
<circle cx="86.56" cy="288.91" r="1.2" fill="#9e2c1c" opacity="1"/>
<circle cx="88.98" cy="287.41" r="1.2" fill="#9e2c1c" opacity="1"/>
<circle cx="91.4" cy="286" r="1.2" fill="#9e2c1c" opacity="1"/>
<circle cx="67.2" cy="353.83" r="1.2" fill="#9e2c1c" opacity="1"/>
<circle cx="69.62" cy="345.86" r="1.2" fill="#9e2c1c" opacity="1"/>
<circle cx="72.04" cy="338.18" r="1.2" fill="#9e2c1c" opacity="1"/>
<circle cx="74.46" cy="331.65" r="1.2" fill="#9e2c1c" opacity="1"/>
<circle cx="76.88" cy="323.88" r="1.2" fill="#9e2c1c" opacity="1"/>
<circle cx="79.3" cy="316.8" r="1.2" fill="#9e2c1c" opacity="1"/>
<circle cx="81.72" cy="309.06" r="1.2" fill="#9e2c1c" opacity="1"/>
<circle cx="84.14" cy="301.17" r="1.2" fill="#9e2c1c" opacity="1"/>
<circle cx="86.56" cy="295.08" r="1.2" fill="#9e2c1c" opacity="1"/>
<circle cx="88.98" cy="292.02" r="1.2" fill="#9e2c1c" opacity="1"/>
<circle cx="91.4" cy="291.2" r="1.2" fill="#9e2c1c" opacity="1"/>
<circle cx="93.42" cy="287.64" r="1.2" fill="#9e2c1c" opacity="1"/>
<circle cx="95.44" cy="289.83" r="1.2" fill="#9e2c1c" opacity="1"/>
<circle cx="97.46" cy="292.42" r="1.2" fill="#9e2c1c" opacity="1"/>
<circle cx="99.48" cy="295.27" r="1.2" fill="#9e2c1c" opacity="1"/>
<circle cx="101.5" cy="298.07" r="1.2" fill="#9e2c1c" opacity="1"/>
<circle cx="103.52" cy="300.87" r="1.2" fill="#9e2c1c" opacity="1"/>
<circle cx="105.54" cy="303.82" r="1.2" fill="#9e2c1c" opacity="1"/>
<circle cx="107.56" cy="307.06" r="1.2" fill="#9e2c1c" opacity="1"/>
<circle cx="109.58" cy="310.17" r="1.2" fill="#9e2c1c" opacity="1"/>
<circle cx="111.6" cy="313.05" r="1.2" fill="#9e2c1c" opacity="1"/>
<circle cx="113.62" cy="315.81" r="1.2" fill="#9e2c1c" opacity="1"/>
<circle cx="115.64" cy="318.37" r="1.2" fill="#9e2c1c" opacity="1"/>
<circle cx="117.66" cy="320.67" r="1.2" fill="#9e2c1c" opacity="1"/>
<circle cx="119.68" cy="322.75" r="1.2" fill="#9e2c1c" opacity="1"/>
<circle cx="121.7" cy="324.62" r="1.2" fill="#9e2c1c" opacity="1"/>
<circle cx="123.72" cy="326.25" r="1.2" fill="#9e2c1c" opacity="1"/>
<circle cx="125.74" cy="327.65" r="1.2" fill="#9e2c1c" opacity="1"/>
<circle cx="127.76" cy="328.9" r="1.2" fill="#9e2c1c" opacity="1"/>
<circle cx="129.78" cy="329.98" r="1.2" fill="#9e2c1c" opacity="1"/>
<circle cx="131.8" cy="330.4" r="1.2" fill="#9e2c1c" opacity="1"/>
<circle cx="135.21" cy="328.41" r="1.2" fill="#9e2c1c" opacity="1"/>
<circle cx="138.62" cy="328.04" r="1.2" fill="#9e2c1c" opacity="1"/>
<circle cx="142.03" cy="327.16" r="1.2" fill="#9e2c1c" opacity="1"/>
<circle cx="145.44" cy="325.13" r="1.2" fill="#9e2c1c" opacity="1"/>
<circle cx="148.85" cy="322.63" r="1.2" fill="#9e2c1c" opacity="1"/>
<circle cx="152.26" cy="319.85" r="1.2" fill="#9e2c1c" opacity="1"/>
<circle cx="155.67" cy="317.17" r="1.2" fill="#9e2c1c" opacity="1"/>
<circle cx="159.08" cy="314.13" r="1.2" fill="#9e2c1c" opacity="1"/>
<circle cx="162.49" cy="310.71" r="1.2" fill="#9e2c1c" opacity="1"/>
<circle cx="165.9" cy="307.16" r="1.2" fill="#9e2c1c" opacity="1"/>
<circle cx="169.31" cy="304" r="1.2" fill="#9e2c1c" opacity="1"/>
<circle cx="172.72" cy="301.38" r="1.2" fill="#9e2c1c" opacity="1"/>
<circle cx="176.13" cy="298.63" r="1.2" fill="#9e2c1c" opacity="1"/>
<circle cx="179.54" cy="295.87" r="1.2" fill="#9e2c1c" opacity="1"/>
<circle cx="182.95" cy="293.14" r="1.2" fill="#9e2c1c" opacity="1"/>
<circle cx="186.36" cy="290.88" r="1.2" fill="#9e2c1c" opacity="1"/>
<circle cx="189.77" cy="289.09" r="1.2" fill="#9e2c1c" opacity="1"/>
<circle cx="193.18" cy="287.75" r="1.2" fill="#9e2c1c" opacity="1"/>
<circle cx="196.59" cy="286.68" r="1.2" fill="#9e2c1c" opacity="1"/>
<circle cx="200" cy="285.6" r="1.2" fill="#9e2c1c" opacity="1"/>
<circle cx="135.21" cy="332.29" r="1.2" fill="#9e2c1c" opacity="1"/>
<circle cx="138.62" cy="336.9" r="1.2" fill="#9e2c1c" opacity="1"/>
<circle cx="142.03" cy="343.11" r="1.2" fill="#9e2c1c" opacity="1"/>
<circle cx="145.44" cy="347.75" r="1.2" fill="#9e2c1c" opacity="1"/>
<circle cx="148.85" cy="351.6" r="1.2" fill="#9e2c1c" opacity="1"/>
<circle cx="152.26" cy="352.96" r="1.2" fill="#9e2c1c" opacity="1"/>
<circle cx="155.67" cy="351.89" r="1.2" fill="#9e2c1c" opacity="1"/>
<circle cx="159.08" cy="349.63" r="1.2" fill="#9e2c1c" opacity="1"/>
<circle cx="162.49" cy="346.37" r="1.2" fill="#9e2c1c" opacity="1"/>
<circle cx="165.9" cy="342.97" r="1.2" fill="#9e2c1c" opacity="1"/>
<circle cx="169.31" cy="339.27" r="1.2" fill="#9e2c1c" opacity="1"/>
<circle cx="172.72" cy="334.83" r="1.2" fill="#9e2c1c" opacity="1"/>
<circle cx="176.13" cy="329.66" r="1.2" fill="#9e2c1c" opacity="1"/>
<circle cx="179.54" cy="324.34" r="1.2" fill="#9e2c1c" opacity="1"/>
<circle cx="182.95" cy="318.72" r="1.2" fill="#9e2c1c" opacity="1"/>
<circle cx="186.36" cy="312.52" r="1.2" fill="#9e2c1c" opacity="1"/>
<circle cx="189.77" cy="305.63" r="1.2" fill="#9e2c1c" opacity="1"/>
<circle cx="193.18" cy="299.58" r="1.2" fill="#9e2c1c" opacity="1"/>
<circle cx="196.59" cy="294.27" r="1.2" fill="#9e2c1c" opacity="1"/>
<circle cx="93.42" cy="291.77" r="1.2" fill="#9e2c1c" opacity="1"/>
<circle cx="95.44" cy="294.37" r="1.2" fill="#9e2c1c" opacity="1"/>
<circle cx="97.46" cy="298.35" r="1.2" fill="#9e2c1c" opacity="1"/>
<circle cx="99.48" cy="305.04" r="1.2" fill="#9e2c1c" opacity="1"/>
<circle cx="101.5" cy="312.15" r="1.2" fill="#9e2c1c" opacity="1"/>
<circle cx="103.52" cy="320.68" r="1.2" fill="#9e2c1c" opacity="1"/>
<circle cx="105.54" cy="329.04" r="1.2" fill="#9e2c1c" opacity="1"/>
<circle cx="107.56" cy="337.35" r="1.2" fill="#9e2c1c" opacity="1"/>
<circle cx="109.58" cy="345.85" r="1.2" fill="#9e2c1c" opacity="1"/>
<circle cx="111.6" cy="355.39" r="1.2" fill="#9e2c1c" opacity="1"/>
<circle cx="179.54" cy="351.55" r="1.2" fill="#9e2c1c" opacity="1"/>
<circle cx="182.95" cy="339.19" r="1.2" fill="#9e2c1c" opacity="1"/>
<circle cx="186.36" cy="326.65" r="1.2" fill="#9e2c1c" opacity="1"/>
<circle cx="189.77" cy="316.94" r="1.2" fill="#9e2c1c" opacity="1"/>
<circle cx="193.18" cy="307.33" r="1.2" fill="#9e2c1c" opacity="1"/>
<circle cx="196.59" cy="295.83" r="1.2" fill="#9e2c1c" opacity="1"/>
<path d="M43,255.9C46.13,255.53 49.25,255.45 52.4,254.8C55.55,254.15 59.07,253.1 61.9,252C64.73,250.9 67.2,249.07 69.4,248.2C71.6,247.33 73.53,246.95 75.1,246.8C76.67,246.65 77.55,246.67 78.8,247.3C80.05,247.93 81.33,248.98 82.6,250.6C83.87,252.22 85.13,255.07 86.4,257C87.67,258.93 89.35,261.17 90.2,262.2C91.05,263.23 91.07,262.87 91.5,263.2" fill="none" stroke="#5a6fc8" stroke-width="1.85" stroke-linejoin="round" stroke-linecap="round" opacity="0.85"/>
<path d="M91.5,263.1C92.33,261.07 93.25,258.8 94,257C94.75,255.2 95.33,253.75 96,252.3C96.67,250.85 97.25,250.18 98,248.3C98.75,246.42 99.68,243.12 100.5,241C101.32,238.88 102.15,236.35 102.9,235.6C103.65,234.85 104.2,235.92 105,236.5C105.8,237.08 106.53,238.15 107.7,239.1C108.87,240.05 110.58,241.18 112,242.2C113.42,243.22 114.48,243.93 116.2,245.2C117.92,246.47 120.28,248.68 122.3,249.8C124.32,250.92 126.68,251.55 128.3,251.9C129.92,252.25 130.38,252.42 132,251.9C133.62,251.38 135.98,249.92 138,248.8C140.02,247.68 142.1,246.58 144.1,245.2C146.1,243.82 148.02,242.12 150,240.5C151.98,238.88 154,237 156,235.5C158,234 159.85,232.5 162,231.5C164.15,230.5 166.73,229.58 168.9,229.5C171.07,229.42 172.98,230 175,231C177.02,232 179,233.58 181,235.5C183,237.42 185.17,240.08 187,242.5C188.83,244.92 190.5,247.67 192,250C193.5,252.33 194.67,254.33 196,256.5C197.33,258.67 198.67,260.83 200,263" fill="none" stroke="#5a6fc8" stroke-width="1.85" stroke-linejoin="round" stroke-linecap="round" opacity="0.85"/>
<path d="M79.6,209.7C81.07,211.23 82.6,212.83 84,214.3C85.4,215.77 86.78,217.5 88,218.5C89.22,219.5 90.13,220.3 91.3,220.3C92.47,220.3 93.8,219.5 95,218.5C96.2,217.5 97.57,215.77 98.5,214.3C99.43,212.83 99.9,211.23 100.6,209.7" fill="none" stroke="#5a6fc8" stroke-width="1.6" stroke-linejoin="round" stroke-linecap="round" opacity="0.85"/>
<path d="M69.9,209.7C72.6,211.23 75.32,212.72 78,214.3C80.68,215.88 83.78,217.93 86,219.2C88.22,220.47 89.68,221.33 91.3,221.9C92.92,222.47 94.58,222.32 95.7,222.6C96.82,222.88 97.28,223.33 98,223.6C98.72,223.87 99.33,224 100,224.2" fill="none" stroke="#5a6fc8" stroke-width="1.5" stroke-linejoin="round" stroke-linecap="round" opacity="0.85"/>
<path d="M70.6,209.7C73.07,211.47 75.43,213.25 78,215C80.57,216.75 83.78,218.87 86,220.2C88.22,221.53 89.68,222.43 91.3,223C92.92,223.57 94.58,223.3 95.7,223.6C96.82,223.9 97.28,224.5 98,224.8C98.72,225.1 99.33,225.2 100,225.4" fill="none" stroke="#5a6fc8" stroke-width="1.5" stroke-linejoin="round" stroke-linecap="round" opacity="0.85"/>
<path d="M71.3,209.7C73.53,211.73 75.55,213.88 78,215.8C80.45,217.72 83.78,219.82 86,221.2C88.22,222.58 89.68,223.53 91.3,224.1C92.92,224.67 94.58,224.52 95.7,224.6C96.82,224.68 97.02,224.4 98,224.6C98.98,224.8 100.38,226.62 101.6,225.8C102.82,224.98 103.98,221.42 105.3,219.7C106.62,217.98 108.08,215.7 109.5,215.5C110.92,215.3 112.28,216.98 113.8,218.5C115.32,220.02 116.98,222.48 118.6,224.6C120.22,226.72 121.88,229.08 123.5,231.2C125.12,233.32 126.98,235.88 128.3,237.3C129.62,238.72 130.38,239.5 131.4,239.7C132.42,239.9 133.3,239.4 134.4,238.5C135.5,237.6 136.78,236.42 138,234.3C139.22,232.18 140.48,229.25 141.7,225.8C142.92,222.35 144.55,216.28 145.3,213.6C146.05,210.92 145.9,211 146.2,209.7" fill="none" stroke="#5a6fc8" stroke-width="1.85" stroke-linejoin="round" stroke-linecap="round" opacity="0.85"/>
<path d="M179.4,209.7C181.6,211.3 183.73,212.98 186,214.5C188.27,216.02 190.67,217.78 193,218.8C195.33,219.82 197.67,220 200,220.6" fill="none" stroke="#5a6fc8" stroke-width="1.4" stroke-linejoin="round" stroke-linecap="round" opacity="0.85"/>
<path d="M181.5,209.7C183.67,211.63 185.92,213.78 188,215.5C190.08,217.22 192,218.92 194,220C196,221.08 198,221.33 200,222" fill="none" stroke="#5a6fc8" stroke-width="1.4" stroke-linejoin="round" stroke-linecap="round" opacity="0.85"/>
<path d="M184,209.7C186,211.97 188.17,214.58 190,216.5C191.83,218.42 193.33,220.05 195,221.2C196.67,222.35 198.33,222.67 200,223.4" fill="none" stroke="#5a6fc8" stroke-width="1.4" stroke-linejoin="round" stroke-linecap="round" opacity="0.85"/>
<path d="M191.6,209.7C192.57,211.3 193.57,213.07 194.5,214.5C195.43,215.93 196.28,217.27 197.2,218.3C198.12,219.33 199.07,219.9 200,220.7" fill="none" stroke="#5a6fc8" stroke-width="1.3" stroke-linejoin="round" stroke-linecap="round" opacity="0.85"/>
<path d="M43,301.8C45.7,301.6 48.4,301.73 51.1,301.2C53.8,300.67 56.5,299.63 59.2,298.6C61.9,297.57 64.6,296.35 67.3,295C70,293.65 72.7,291.85 75.4,290.5C78.1,289.15 81.4,287.73 83.5,286.9C85.6,286.07 86.68,285.83 88,285.5C89.32,285.17 90.27,285.1 91.4,284.9" fill="none" stroke="#5a6fc8" stroke-width="1.85" stroke-linejoin="round" stroke-linecap="round" opacity="0.85"/>
<path d="M43,305.1C45.7,304.83 48.4,304.85 51.1,304.3C53.8,303.75 56.5,302.82 59.2,301.8C61.9,300.78 64.6,299.53 67.3,298.2C70,296.87 72.7,295.28 75.4,293.8C78.1,292.32 81.4,290.47 83.5,289.3C85.6,288.13 86.68,287.48 88,286.8C89.32,286.12 90.27,285.73 91.4,285.2" fill="none" stroke="#5a6fc8" stroke-width="1.85" stroke-linejoin="round" stroke-linecap="round" opacity="0.85"/>
<path d="M63.7,357.3C64.47,354.87 64.95,353.22 66,350C67.05,346.78 68.5,342.17 70,338C71.5,333.83 73.67,328.5 75,325C76.33,321.5 77,319.5 78,317C79,314.5 79.92,312.92 81,310C82.08,307.08 83.58,302.08 84.5,299.5C85.42,296.92 85.92,295.78 86.5,294.5C87.08,293.22 87.5,292.4 88,291.8C88.5,291.2 88.93,291.1 89.5,290.9C90.07,290.7 90.77,290.7 91.4,290.6" fill="none" stroke="#5a6fc8" stroke-width="1.85" stroke-linejoin="round" stroke-linecap="round" opacity="0.85"/>
<path d="M91.2,285.07C92.43,285.42 93.48,285.01 94.9,286.13C96.32,287.25 98.08,289.64 99.7,291.8C101.32,293.96 102.98,296.67 104.6,299.1C106.22,301.53 107.78,304.17 109.4,306.4C111.02,308.63 112.48,310.58 114.3,312.5C116.12,314.42 118.28,316.35 120.3,317.9C122.32,319.45 124.37,320.81 126.4,321.82C128.43,322.83 131.07,323.49 132.5,323.95C133.93,324.41 134.17,324.38 135,324.6" fill="none" stroke="#6478cc" stroke-width="1.1" stroke-linejoin="round" stroke-linecap="round" opacity="0.85"/>
<path d="M91.2,285.55C92.43,286.12 93.48,285.94 94.9,287.25C96.32,288.56 98.08,291.16 99.7,293.4C101.32,295.64 102.98,298.27 104.6,300.7C106.22,303.13 107.78,305.77 109.4,308C111.02,310.23 112.48,312.18 114.3,314.1C116.12,316.02 118.28,318 120.3,319.5C122.32,321 124.37,322.22 126.4,323.1C128.43,323.97 131.07,324.5 132.5,324.75C133.93,325 134.17,324.65 135,324.6" fill="none" stroke="#6478cc" stroke-width="1.1" stroke-linejoin="round" stroke-linecap="round" opacity="0.85"/>
<path d="M91.2,285.97C92.43,286.72 93.48,286.76 94.9,288.23C96.32,289.7 98.08,292.49 99.7,294.8C101.32,297.11 102.98,299.67 104.6,302.1C106.22,304.53 107.78,307.17 109.4,309.4C111.02,311.63 112.48,313.58 114.3,315.5C116.12,317.42 118.28,319.45 120.3,320.9C122.32,322.35 124.37,323.46 126.4,324.22C128.43,324.98 131.07,325.39 132.5,325.45C133.93,325.51 134.17,324.88 135,324.6" fill="none" stroke="#6478cc" stroke-width="1.1" stroke-linejoin="round" stroke-linecap="round" opacity="0.85"/>
<path d="M132.5,324.5C133.8,324.37 134.35,324.52 136.4,324.1C138.45,323.68 142,323.05 144.8,322C147.6,320.95 150.4,319.37 153.2,317.8C156,316.23 158.8,314.7 161.6,312.6C164.4,310.5 167.2,307.65 170,305.2C172.8,302.75 175.6,300.17 178.4,297.9C181.2,295.63 184,293.35 186.8,291.6C189.6,289.85 193,288.43 195.2,287.4C197.4,286.37 198.4,286.07 200,285.4" fill="none" stroke="#5a6fc8" stroke-width="1.85" stroke-linejoin="round" stroke-linecap="round" opacity="0.85"/>
<path d="M133.3,324.11C134.33,324.75 134.83,324.67 136.4,326.02C137.97,327.37 140.6,330.12 142.7,332.2C144.8,334.28 147.07,337.03 149,338.5C150.93,339.97 152.2,341 154.3,341C156.4,341 158.98,340.32 161.6,338.5C164.22,336.68 167.2,333.94 170,330.1C172.8,326.26 175.6,320.34 178.4,315.46C181.2,310.58 184,305 186.8,300.82C189.6,296.64 193,292.53 195.2,290.38C197.4,288.23 198.4,288.75 200,287.94" fill="none" stroke="#6f81d2" stroke-width="1.05" stroke-linejoin="round" stroke-linecap="round" opacity="0.85"/>
<path d="M133.3,324.62C134.33,325.43 134.83,325.49 136.4,327.04C137.97,328.59 140.6,331.71 142.7,333.9C144.8,336.09 147.07,338.73 149,340.2C150.93,341.67 152.2,342.7 154.3,342.7C156.4,342.7 158.98,342.02 161.6,340.2C164.22,338.38 167.2,335.7 170,331.8C172.8,327.9 175.6,321.81 178.4,316.82C181.2,311.83 184,306.13 186.8,301.84C189.6,297.55 193,293.32 195.2,291.06C197.4,288.8 198.4,289.21 200,288.28" fill="none" stroke="#6f81d2" stroke-width="1.05" stroke-linejoin="round" stroke-linecap="round" opacity="0.85"/>
<path d="M133.3,325.13C134.33,326.11 134.83,326.31 136.4,328.06C137.97,329.81 140.6,333.29 142.7,335.6C144.8,337.91 147.07,340.43 149,341.9C150.93,343.37 152.2,344.4 154.3,344.4C156.4,344.4 158.98,343.72 161.6,341.9C164.22,340.08 167.2,337.45 170,333.5C172.8,329.55 175.6,323.29 178.4,318.18C181.2,313.07 184,307.27 186.8,302.86C189.6,298.45 193,294.11 195.2,291.74C197.4,289.37 198.4,289.66 200,288.62" fill="none" stroke="#6f81d2" stroke-width="1.05" stroke-linejoin="round" stroke-linecap="round" opacity="0.85"/>
<path d="M91.2,290.5C92,290.73 92.58,289.98 93.6,291.2C94.62,292.42 96.08,294.88 97.3,297.8C98.52,300.72 99.68,303.83 100.9,308.7C102.12,313.57 103.42,321.62 104.6,327C105.78,332.38 106.85,335.95 108,341C109.15,346.05 110.33,351.87 111.5,357.3" fill="none" stroke="#5a6fc8" stroke-width="1.85" stroke-linejoin="round" stroke-linecap="round" opacity="0.85"/>
<path d="M175.8,357.3C178.07,350.43 180.42,343.63 182.6,336.7C184.78,329.77 186.8,322.35 188.9,315.7C191,309.05 193.6,300.92 195.2,296.8C196.8,292.68 197.7,292.4 198.5,291C199.3,289.6 199.5,289.27 200,288.4" fill="none" stroke="#5a6fc8" stroke-width="1.85" stroke-linejoin="round" stroke-linecap="round" opacity="0.85"/>
<rect x="120.7" y="263.3" width="49.1" height="32.1" fill="#fff" stroke="none"/>
<line x1="145.2" y1="263.3" x2="145.2" y2="295.4" stroke="#dcdcdc" stroke-width="0.8" />
<clipPath id="ci3"><rect x="120.7" y="263.3" width="49.1" height="32.1"/></clipPath><g clip-path="url(#ci3)">
<line x1="120.7" y1="284.6" x2="169.8" y2="284.6" stroke="#b0b0b0" stroke-width="0.7" stroke-dasharray="0.8,1.6"/>
<circle cx="124.2" cy="280.2" r="1.2" fill="#9e2c1c" opacity="1"/>
<circle cx="129.6" cy="277.3" r="1.2" fill="#9e2c1c" opacity="1"/>
<circle cx="134.7" cy="275.7" r="1.2" fill="#9e2c1c" opacity="1"/>
<circle cx="140.1" cy="275" r="1.2" fill="#9e2c1c" opacity="1"/>
<circle cx="145.2" cy="274.7" r="1.2" fill="#9e2c1c" opacity="1"/>
<circle cx="149.8" cy="276" r="1.2" fill="#9e2c1c" opacity="1"/>
<circle cx="153.8" cy="279.2" r="1.2" fill="#9e2c1c" opacity="1"/>
<circle cx="157.4" cy="284.6" r="1.2" fill="#9e2c1c" opacity="1"/>
<circle cx="160.5" cy="290" r="1.2" fill="#9e2c1c" opacity="1"/>
<circle cx="124.2" cy="288.6" r="1.2" fill="#9e2c1c" opacity="1"/>
<circle cx="129.6" cy="285.7" r="1.2" fill="#9e2c1c" opacity="1"/>
<circle cx="134.7" cy="283" r="1.2" fill="#9e2c1c" opacity="1"/>
<circle cx="150.1" cy="279.7" r="1.2" fill="#9e2c1c" opacity="1"/>
<circle cx="154.9" cy="285.4" r="1.2" fill="#9e2c1c" opacity="1"/>
<circle cx="158.2" cy="290.2" r="1.2" fill="#9e2c1c" opacity="1"/>
<circle cx="162.2" cy="294.5" r="1.2" fill="#9e2c1c" opacity="1"/>
<circle cx="140.1" cy="291" r="1.2" fill="#9e2c1c" opacity="1"/>
<circle cx="145.2" cy="289.3" r="1.2" fill="#9e2c1c" opacity="1"/>
<circle cx="150.1" cy="292" r="1.2" fill="#9e2c1c" opacity="1"/>
<path d="M120.7,283C122.8,282.17 124.78,281.33 127,280.5C129.22,279.67 131.83,278.75 134,278C136.17,277.25 138.13,276.52 140,276C141.87,275.48 143.53,274.48 145.2,274.9C146.87,275.32 148.37,276.98 150,278.5C151.63,280.02 153.37,282 155,284C156.63,286 158.2,288.6 159.8,290.5C161.4,292.4 163,293.77 164.6,295.4" fill="none" stroke="#5a6fc8" stroke-width="1.5" stroke-linejoin="round" stroke-linecap="round" opacity="0.85"/>
<path d="M120.7,291.8C122.8,290.7 124.78,289.72 127,288.5C129.22,287.28 131.83,285.92 134,284.5C136.17,283.08 138.13,281.6 140,280C141.87,278.4 143.37,274.9 145.2,274.9C147.03,274.9 149.03,277.9 151,280C152.97,282.1 155.17,285.25 157,287.5C158.83,289.75 160.83,292.18 162,293.5C163.17,294.82 163.33,294.77 164,295.4" fill="none" stroke="#5a6fc8" stroke-width="1.5" stroke-linejoin="round" stroke-linecap="round" opacity="0.85"/>
<path d="M138,295.4C139,294.03 139.8,292.28 141,291.3C142.2,290.32 143.95,289.5 145.2,289.5C146.45,289.5 147.55,290.32 148.5,291.3C149.45,292.28 150.1,294.03 150.9,295.4" fill="none" stroke="#5a6fc8" stroke-width="1.5" stroke-linejoin="round" stroke-linecap="round" opacity="0.85"/>
</g>
<rect x="120.7" y="263.3" width="49.1" height="32.1" fill="none" stroke="#111" stroke-width="1.25"/>
<line x1="119.4" y1="263.68" x2="120.7" y2="263.68" stroke="#111" stroke-width="0.6" />
<line x1="119.4" y1="267.64" x2="120.7" y2="267.64" stroke="#111" stroke-width="0.6" />
<line x1="119.4" y1="271.6" x2="120.7" y2="271.6" stroke="#111" stroke-width="0.6" />
<line x1="119.4" y1="275.56" x2="120.7" y2="275.56" stroke="#111" stroke-width="0.6" />
<line x1="119.4" y1="279.52" x2="120.7" y2="279.52" stroke="#111" stroke-width="0.6" />
<line x1="119.4" y1="283.48" x2="120.7" y2="283.48" stroke="#111" stroke-width="0.6" />
<line x1="119.4" y1="287.44" x2="120.7" y2="287.44" stroke="#111" stroke-width="0.6" />
<line x1="119.4" y1="291.4" x2="120.7" y2="291.4" stroke="#111" stroke-width="0.6" />
<line x1="119.4" y1="295.36" x2="120.7" y2="295.36" stroke="#111" stroke-width="0.6" />
<line x1="118.1" y1="271.6" x2="120.7" y2="271.6" stroke="#111" stroke-width="0.8" />
<text x="103.57" y="274.19" font-size="6.4" fill="#111" textLength="12.75" lengthAdjust="spacingAndGlyphs" style="stroke-width:0.15px">-5.5</text>
<line x1="118.1" y1="291.4" x2="120.7" y2="291.4" stroke="#111" stroke-width="0.8" />
<text x="103.57" y="293.99" font-size="6.4" fill="#111" textLength="12.72" lengthAdjust="spacingAndGlyphs" style="stroke-width:0.15px">-6.0</text>
<text x="121.35" y="259.8" font-size="7.4" fill="#111" textLength="5.59" lengthAdjust="spacingAndGlyphs" style="stroke-width:0.15px">Δ</text>
<text x="126.77" y="261" font-size="6.0" fill="#111" textLength="6.32" lengthAdjust="spacingAndGlyphs" style="stroke-width:0.1px;font-style:italic">so</text>
<text x="134.32" y="259.8" font-size="7.4" fill="#111" textLength="5.66" lengthAdjust="spacingAndGlyphs" style="stroke-width:0.15px">=</text>
<text x="141.35" y="259.8" font-size="7.4" fill="#111" textLength="17.12" lengthAdjust="spacingAndGlyphs" style="stroke-width:0.15px">0.35</text>
<text x="158.24" y="259.8" font-size="7.4" fill="#111" textLength="9.19" lengthAdjust="spacingAndGlyphs" style="stroke-width:0.15px;font-style:italic">eV</text>
</g>
<rect x="43.45" y="209.4" width="156.85" height="147.9" fill="none" stroke="#262626" stroke-width="1.0"/>
<line x1="39.9" y1="225.83" x2="43.45" y2="225.83" stroke="#262626" stroke-width="1.0" />
<text x="21.8" y="229.83" font-size="11.2" fill="#111" textLength="16.01" lengthAdjust="spacingAndGlyphs" style="stroke-width:0.31px;">−2</text>
<line x1="39.9" y1="258.7" x2="43.45" y2="258.7" stroke="#262626" stroke-width="1.0" />
<text x="21.81" y="262.7" font-size="11.2" fill="#111" textLength="15.71" lengthAdjust="spacingAndGlyphs" style="stroke-width:0.31px;">−4</text>
<line x1="39.9" y1="291.57" x2="43.45" y2="291.57" stroke="#262626" stroke-width="1.0" />
<text x="21.8" y="295.57" font-size="11.2" fill="#111" textLength="15.93" lengthAdjust="spacingAndGlyphs" style="stroke-width:0.31px;">−6</text>
<line x1="39.9" y1="324.43" x2="43.45" y2="324.43" stroke="#262626" stroke-width="1.0" />
<text x="21.8" y="328.43" font-size="11.2" fill="#111" textLength="15.93" lengthAdjust="spacingAndGlyphs" style="stroke-width:0.31px;">−8</text>
<line x1="39.9" y1="357.3" x2="43.45" y2="357.3" stroke="#262626" stroke-width="1.0" />
<text x="15.45" y="361.3" font-size="11.2" fill="#111" textLength="22.2" lengthAdjust="spacingAndGlyphs" style="stroke-width:0.31px;">−10</text>
<line x1="43" y1="357.3" x2="43" y2="360.8" stroke="#262626" stroke-width="1.0" />
<text x="40.39" y="370.4" font-size="10.5" fill="#111" textLength="5.62" lengthAdjust="spacingAndGlyphs" style="stroke-width:0.29px;">L</text>
<line x1="91.4" y1="357.3" x2="91.4" y2="360.8" stroke="#262626" stroke-width="1.0" />
<text x="88.87" y="370.4" font-size="10.5" fill="#111" textLength="5.7" lengthAdjust="spacingAndGlyphs" style="stroke-width:0.29px;">Γ</text>
<line x1="131.8" y1="357.3" x2="131.8" y2="360.8" stroke="#262626" stroke-width="1.0" />
<text x="127.7" y="370.4" font-size="10.5" fill="#111" textLength="7.96" lengthAdjust="spacingAndGlyphs" style="stroke-width:0.29px;">X</text>
<line x1="148.2" y1="357.3" x2="148.2" y2="360.8" stroke="#262626" stroke-width="1.0" />
<text x="144.56" y="370.4" font-size="10.5" fill="#111" textLength="8.11" lengthAdjust="spacingAndGlyphs" style="stroke-width:0.29px;">U</text>
<line x1="200" y1="357.3" x2="200" y2="360.8" stroke="#262626" stroke-width="1.0" />
<text x="197.47" y="370.4" font-size="10.5" fill="#111" textLength="5.7" lengthAdjust="spacingAndGlyphs" style="stroke-width:0.29px;">Γ</text>
<text x="104.93" y="206.1" font-size="14.0" fill="#111" textLength="33.66" lengthAdjust="spacingAndGlyphs" style="stroke-width:0.22px">GaAs</text>
<text transform="translate(10.4,314.97) rotate(-90)" font-size="10.5" fill="#111" textLength="64.81" lengthAdjust="spacingAndGlyphs" style="stroke-width:0.29px;">Energy (eV)</text>
<clipPath id="pc4"><rect x="243" y="209.4" width="157" height="147.9"/></clipPath><g clip-path="url(#pc4)">
<line x1="291.4" y1="209.4" x2="291.4" y2="357.3" stroke="#dcdcdc" stroke-width="0.8" />
<line x1="331.8" y1="209.4" x2="331.8" y2="357.3" stroke="#dcdcdc" stroke-width="0.8" />
<line x1="348.2" y1="209.4" x2="348.2" y2="357.3" stroke="#dcdcdc" stroke-width="0.8" />
<line x1="243" y1="251.5" x2="400" y2="251.5" stroke="#9a9a9a" stroke-width="0.8" stroke-dasharray="0.8,1.6"/>
<line x1="243" y1="293" x2="400" y2="293" stroke="#9a9a9a" stroke-width="0.8" stroke-dasharray="0.8,1.6"/>
<circle cx="243" cy="249" r="1.2" fill="#9e2c1c" opacity="1"/>
<circle cx="245.42" cy="248.8" r="1.2" fill="#9e2c1c" opacity="1"/>
<circle cx="247.84" cy="248.55" r="1.2" fill="#9e2c1c" opacity="1"/>
<circle cx="250.26" cy="248.07" r="1.2" fill="#9e2c1c" opacity="1"/>
<circle cx="252.68" cy="247.38" r="1.2" fill="#9e2c1c" opacity="1"/>
<circle cx="255.1" cy="246.48" r="1.2" fill="#9e2c1c" opacity="1"/>
<circle cx="257.52" cy="245.43" r="1.2" fill="#9e2c1c" opacity="1"/>
<circle cx="259.94" cy="244.29" r="1.2" fill="#9e2c1c" opacity="1"/>
<circle cx="262.36" cy="243.06" r="1.2" fill="#9e2c1c" opacity="1"/>
<circle cx="264.78" cy="241.7" r="1.2" fill="#9e2c1c" opacity="1"/>
<circle cx="267.2" cy="240.27" r="1.2" fill="#9e2c1c" opacity="1"/>
<circle cx="269.62" cy="238.88" r="1.2" fill="#9e2c1c" opacity="1"/>
<circle cx="272.04" cy="237.58" r="1.2" fill="#9e2c1c" opacity="1"/>
<circle cx="274.46" cy="236.45" r="1.2" fill="#9e2c1c" opacity="1"/>
<circle cx="276.88" cy="235.8" r="1.2" fill="#9e2c1c" opacity="1"/>
<circle cx="279.3" cy="236.67" r="1.2" fill="#9e2c1c" opacity="1"/>
<circle cx="281.72" cy="239.02" r="1.2" fill="#9e2c1c" opacity="1"/>
<circle cx="284.14" cy="242.17" r="1.2" fill="#9e2c1c" opacity="1"/>
<circle cx="286.56" cy="244.96" r="1.2" fill="#9e2c1c" opacity="1"/>
<circle cx="288.98" cy="247.07" r="1.2" fill="#9e2c1c" opacity="1"/>
<circle cx="293.42" cy="243.97" r="1.2" fill="#9e2c1c" opacity="1"/>
<circle cx="295.44" cy="240.42" r="1.2" fill="#9e2c1c" opacity="1"/>
<circle cx="297.46" cy="236.38" r="1.2" fill="#9e2c1c" opacity="1"/>
<circle cx="299.48" cy="232.66" r="1.2" fill="#9e2c1c" opacity="1"/>
<circle cx="301.5" cy="227.43" r="1.2" fill="#9e2c1c" opacity="1"/>
<circle cx="303.52" cy="227.9" r="1.2" fill="#9e2c1c" opacity="1"/>
<circle cx="305.54" cy="230.46" r="1.2" fill="#9e2c1c" opacity="1"/>
<circle cx="307.56" cy="233.3" r="1.2" fill="#9e2c1c" opacity="1"/>
<circle cx="309.58" cy="235.96" r="1.2" fill="#9e2c1c" opacity="1"/>
<circle cx="311.6" cy="237.84" r="1.2" fill="#9e2c1c" opacity="1"/>
<circle cx="313.62" cy="239.42" r="1.2" fill="#9e2c1c" opacity="1"/>
<circle cx="315.64" cy="241.02" r="1.2" fill="#9e2c1c" opacity="1"/>
<circle cx="317.66" cy="242.68" r="1.2" fill="#9e2c1c" opacity="1"/>
<circle cx="319.68" cy="244.26" r="1.2" fill="#9e2c1c" opacity="1"/>
<circle cx="321.7" cy="245.72" r="1.2" fill="#9e2c1c" opacity="1"/>
<circle cx="323.72" cy="247.04" r="1.2" fill="#9e2c1c" opacity="1"/>
<circle cx="325.74" cy="248.21" r="1.2" fill="#9e2c1c" opacity="1"/>
<circle cx="327.76" cy="249.24" r="1.2" fill="#9e2c1c" opacity="1"/>
<circle cx="329.78" cy="250.21" r="1.2" fill="#9e2c1c" opacity="1"/>
<circle cx="331.8" cy="251.2" r="1.2" fill="#9e2c1c" opacity="1"/>
<circle cx="335.21" cy="250.09" r="1.2" fill="#9e2c1c" opacity="1"/>
<circle cx="338.62" cy="247.69" r="1.2" fill="#9e2c1c" opacity="1"/>
<circle cx="342.03" cy="244.76" r="1.2" fill="#9e2c1c" opacity="1"/>
<circle cx="345.44" cy="241.84" r="1.2" fill="#9e2c1c" opacity="1"/>
<circle cx="348.85" cy="239.19" r="1.2" fill="#9e2c1c" opacity="1"/>
<circle cx="352.26" cy="236.01" r="1.2" fill="#9e2c1c" opacity="1"/>
<circle cx="355.67" cy="232.53" r="1.2" fill="#9e2c1c" opacity="1"/>
<circle cx="359.08" cy="229.04" r="1.2" fill="#9e2c1c" opacity="1"/>
<circle cx="362.49" cy="225.77" r="1.2" fill="#9e2c1c" opacity="1"/>
<circle cx="365.9" cy="223.11" r="1.2" fill="#9e2c1c" opacity="1"/>
<circle cx="369.31" cy="221.63" r="1.2" fill="#9e2c1c" opacity="1"/>
<circle cx="372.72" cy="221.2" r="1.2" fill="#9e2c1c" opacity="1"/>
<circle cx="376.13" cy="221.74" r="1.2" fill="#9e2c1c" opacity="1"/>
<circle cx="379.54" cy="223.4" r="1.2" fill="#9e2c1c" opacity="1"/>
<circle cx="382.95" cy="226.06" r="1.2" fill="#9e2c1c" opacity="1"/>
<circle cx="386.36" cy="229.35" r="1.2" fill="#9e2c1c" opacity="1"/>
<circle cx="389.77" cy="233.22" r="1.2" fill="#9e2c1c" opacity="1"/>
<circle cx="393.18" cy="237.69" r="1.2" fill="#9e2c1c" opacity="1"/>
<circle cx="396.59" cy="242.36" r="1.2" fill="#9e2c1c" opacity="1"/>
<circle cx="400" cy="247" r="1.2" fill="#9e2c1c" opacity="1"/>
<circle cx="283.6" cy="210.5" r="1.2" fill="#9e2c1c" opacity="1"/>
<circle cx="286" cy="211" r="1.2" fill="#9e2c1c" opacity="1"/>
<circle cx="288.4" cy="211.5" r="1.2" fill="#9e2c1c" opacity="1"/>
<circle cx="291.4" cy="212" r="1.2" fill="#9e2c1c" opacity="1"/>
<circle cx="293.4" cy="212.3" r="1.2" fill="#9e2c1c" opacity="1"/>
<circle cx="295.4" cy="213.6" r="1.2" fill="#9e2c1c" opacity="1"/>
<circle cx="297.4" cy="216.1" r="1.2" fill="#9e2c1c" opacity="1"/>
<circle cx="299.8" cy="218.9" r="1.2" fill="#9e2c1c" opacity="1"/>
<circle cx="301.8" cy="221" r="1.2" fill="#9e2c1c" opacity="1"/>
<circle cx="303.8" cy="217.3" r="1.2" fill="#9e2c1c" opacity="1"/>
<circle cx="305.5" cy="213.7" r="1.2" fill="#9e2c1c" opacity="1"/>
<circle cx="307.5" cy="211.6" r="1.2" fill="#9e2c1c" opacity="1"/>
<circle cx="309.58" cy="213.4" r="1.2" fill="#9e2c1c" opacity="1"/>
<circle cx="311.6" cy="216.68" r="1.2" fill="#9e2c1c" opacity="1"/>
<circle cx="313.62" cy="220.73" r="1.2" fill="#9e2c1c" opacity="1"/>
<circle cx="315.64" cy="224.2" r="1.2" fill="#9e2c1c" opacity="1"/>
<circle cx="317.66" cy="226.69" r="1.2" fill="#9e2c1c" opacity="1"/>
<circle cx="319.68" cy="230.11" r="1.2" fill="#9e2c1c" opacity="1"/>
<circle cx="321.7" cy="233.72" r="1.2" fill="#9e2c1c" opacity="1"/>
<circle cx="323.72" cy="237.42" r="1.2" fill="#9e2c1c" opacity="1"/>
<circle cx="325.74" cy="240.53" r="1.2" fill="#9e2c1c" opacity="1"/>
<circle cx="327.76" cy="242.94" r="1.2" fill="#9e2c1c" opacity="1"/>
<circle cx="329.78" cy="244.79" r="1.2" fill="#9e2c1c" opacity="1"/>
<circle cx="331.8" cy="246.3" r="1.2" fill="#9e2c1c" opacity="1"/>
<circle cx="334.4" cy="244.4" r="1.2" fill="#9e2c1c" opacity="1"/>
<circle cx="338.8" cy="237.4" r="1.2" fill="#9e2c1c" opacity="1"/>
<circle cx="341.4" cy="226" r="1.2" fill="#9e2c1c" opacity="1"/>
<circle cx="344.5" cy="213" r="1.2" fill="#9e2c1c" opacity="1"/>
<circle cx="389.9" cy="212.1" r="1.2" fill="#9e2c1c" opacity="1"/>
<circle cx="393.4" cy="212.1" r="1.2" fill="#9e2c1c" opacity="1"/>
<circle cx="396.8" cy="212.1" r="1.2" fill="#9e2c1c" opacity="1"/>
<circle cx="400" cy="212.1" r="1.2" fill="#9e2c1c" opacity="1"/>
<circle cx="243" cy="311.2" r="1.2" fill="#9e2c1c" opacity="1"/>
<circle cx="245.42" cy="310.94" r="1.2" fill="#9e2c1c" opacity="1"/>
<circle cx="247.84" cy="310.75" r="1.2" fill="#9e2c1c" opacity="1"/>
<circle cx="250.26" cy="310.49" r="1.2" fill="#9e2c1c" opacity="1"/>
<circle cx="252.68" cy="310.02" r="1.2" fill="#9e2c1c" opacity="1"/>
<circle cx="255.1" cy="309.23" r="1.2" fill="#9e2c1c" opacity="1"/>
<circle cx="257.52" cy="308.12" r="1.2" fill="#9e2c1c" opacity="1"/>
<circle cx="259.94" cy="306.81" r="1.2" fill="#9e2c1c" opacity="1"/>
<circle cx="262.36" cy="305.44" r="1.2" fill="#9e2c1c" opacity="1"/>
<circle cx="264.78" cy="304.1" r="1.2" fill="#9e2c1c" opacity="1"/>
<circle cx="267.2" cy="302.77" r="1.2" fill="#9e2c1c" opacity="1"/>
<circle cx="269.62" cy="301.39" r="1.2" fill="#9e2c1c" opacity="1"/>
<circle cx="272.04" cy="300.03" r="1.2" fill="#9e2c1c" opacity="1"/>
<circle cx="274.46" cy="298.76" r="1.2" fill="#9e2c1c" opacity="1"/>
<circle cx="276.88" cy="297.62" r="1.2" fill="#9e2c1c" opacity="1"/>
<circle cx="279.3" cy="296.58" r="1.2" fill="#9e2c1c" opacity="1"/>
<circle cx="281.72" cy="295.61" r="1.2" fill="#9e2c1c" opacity="1"/>
<circle cx="284.14" cy="294.7" r="1.2" fill="#9e2c1c" opacity="1"/>
<circle cx="286.56" cy="293.89" r="1.2" fill="#9e2c1c" opacity="1"/>
<circle cx="288.98" cy="293.4" r="1.2" fill="#9e2c1c" opacity="1"/>
<circle cx="291.4" cy="293.2" r="1.2" fill="#9e2c1c" opacity="1"/>
<circle cx="243" cy="312.2" r="1.2" fill="#9e2c1c" opacity="1"/>
<circle cx="245.42" cy="311.92" r="1.2" fill="#9e2c1c" opacity="1"/>
<circle cx="247.84" cy="311.7" r="1.2" fill="#9e2c1c" opacity="1"/>
<circle cx="250.26" cy="311.41" r="1.2" fill="#9e2c1c" opacity="1"/>
<circle cx="252.68" cy="310.93" r="1.2" fill="#9e2c1c" opacity="1"/>
<circle cx="255.1" cy="310.12" r="1.2" fill="#9e2c1c" opacity="1"/>
<circle cx="257.52" cy="309.02" r="1.2" fill="#9e2c1c" opacity="1"/>
<circle cx="259.94" cy="307.72" r="1.2" fill="#9e2c1c" opacity="1"/>
<circle cx="262.36" cy="306.35" r="1.2" fill="#9e2c1c" opacity="1"/>
<circle cx="264.78" cy="305" r="1.2" fill="#9e2c1c" opacity="1"/>
<circle cx="267.2" cy="303.64" r="1.2" fill="#9e2c1c" opacity="1"/>
<circle cx="269.62" cy="302.22" r="1.2" fill="#9e2c1c" opacity="1"/>
<circle cx="272.04" cy="300.81" r="1.2" fill="#9e2c1c" opacity="1"/>
<circle cx="274.46" cy="299.48" r="1.2" fill="#9e2c1c" opacity="1"/>
<circle cx="276.88" cy="298.29" r="1.2" fill="#9e2c1c" opacity="1"/>
<circle cx="279.3" cy="297.19" r="1.2" fill="#9e2c1c" opacity="1"/>
<circle cx="281.72" cy="296.16" r="1.2" fill="#9e2c1c" opacity="1"/>
<circle cx="284.14" cy="295.18" r="1.2" fill="#9e2c1c" opacity="1"/>
<circle cx="286.56" cy="294.27" r="1.2" fill="#9e2c1c" opacity="1"/>
<circle cx="288.98" cy="293.62" r="1.2" fill="#9e2c1c" opacity="1"/>
<circle cx="291.4" cy="293.2" r="1.2" fill="#9e2c1c" opacity="1"/>
<circle cx="269.62" cy="351.79" r="1.2" fill="#9e2c1c" opacity="1"/>
<circle cx="272.04" cy="343.53" r="1.2" fill="#9e2c1c" opacity="1"/>
<circle cx="274.46" cy="335.73" r="1.2" fill="#9e2c1c" opacity="1"/>
<circle cx="276.88" cy="327.88" r="1.2" fill="#9e2c1c" opacity="1"/>
<circle cx="279.3" cy="319.84" r="1.2" fill="#9e2c1c" opacity="1"/>
<circle cx="281.72" cy="311.71" r="1.2" fill="#9e2c1c" opacity="1"/>
<circle cx="284.14" cy="304.44" r="1.2" fill="#9e2c1c" opacity="1"/>
<circle cx="286.56" cy="298.82" r="1.2" fill="#9e2c1c" opacity="1"/>
<circle cx="288.98" cy="295.25" r="1.2" fill="#9e2c1c" opacity="1"/>
<circle cx="291.4" cy="293.5" r="1.2" fill="#9e2c1c" opacity="1"/>
<circle cx="293.42" cy="295.37" r="1.2" fill="#9e2c1c" opacity="1"/>
<circle cx="295.44" cy="297.37" r="1.2" fill="#9e2c1c" opacity="1"/>
<circle cx="297.46" cy="300.46" r="1.2" fill="#9e2c1c" opacity="1"/>
<circle cx="299.48" cy="303.6" r="1.2" fill="#9e2c1c" opacity="1"/>
<circle cx="301.5" cy="306.7" r="1.2" fill="#9e2c1c" opacity="1"/>
<circle cx="303.52" cy="309.68" r="1.2" fill="#9e2c1c" opacity="1"/>
<circle cx="305.54" cy="312.61" r="1.2" fill="#9e2c1c" opacity="1"/>
<circle cx="307.56" cy="315.72" r="1.2" fill="#9e2c1c" opacity="1"/>
<circle cx="309.58" cy="318.75" r="1.2" fill="#9e2c1c" opacity="1"/>
<circle cx="311.6" cy="321.44" r="1.2" fill="#9e2c1c" opacity="1"/>
<circle cx="313.62" cy="323.92" r="1.2" fill="#9e2c1c" opacity="1"/>
<circle cx="315.64" cy="326.19" r="1.2" fill="#9e2c1c" opacity="1"/>
<circle cx="317.66" cy="328.28" r="1.2" fill="#9e2c1c" opacity="1"/>
<circle cx="319.68" cy="330.18" r="1.2" fill="#9e2c1c" opacity="1"/>
<circle cx="321.7" cy="331.76" r="1.2" fill="#9e2c1c" opacity="1"/>
<circle cx="323.72" cy="333" r="1.2" fill="#9e2c1c" opacity="1"/>
<circle cx="325.74" cy="333.9" r="1.2" fill="#9e2c1c" opacity="1"/>
<circle cx="327.76" cy="334.55" r="1.2" fill="#9e2c1c" opacity="1"/>
<circle cx="329.78" cy="335.05" r="1.2" fill="#9e2c1c" opacity="1"/>
<circle cx="331.8" cy="335.5" r="1.2" fill="#9e2c1c" opacity="1"/>
<circle cx="335.21" cy="333.19" r="1.2" fill="#9e2c1c" opacity="1"/>
<circle cx="338.62" cy="332.53" r="1.2" fill="#9e2c1c" opacity="1"/>
<circle cx="342.03" cy="331.39" r="1.2" fill="#9e2c1c" opacity="1"/>
<circle cx="345.44" cy="330" r="1.2" fill="#9e2c1c" opacity="1"/>
<circle cx="348.85" cy="328.39" r="1.2" fill="#9e2c1c" opacity="1"/>
<circle cx="352.26" cy="326.12" r="1.2" fill="#9e2c1c" opacity="1"/>
<circle cx="355.67" cy="323.21" r="1.2" fill="#9e2c1c" opacity="1"/>
<circle cx="359.08" cy="320" r="1.2" fill="#9e2c1c" opacity="1"/>
<circle cx="362.49" cy="316.52" r="1.2" fill="#9e2c1c" opacity="1"/>
<circle cx="365.9" cy="313.1" r="1.2" fill="#9e2c1c" opacity="1"/>
<circle cx="369.31" cy="309.69" r="1.2" fill="#9e2c1c" opacity="1"/>
<circle cx="372.72" cy="306.2" r="1.2" fill="#9e2c1c" opacity="1"/>
<circle cx="376.13" cy="303.14" r="1.2" fill="#9e2c1c" opacity="1"/>
<circle cx="379.54" cy="300.54" r="1.2" fill="#9e2c1c" opacity="1"/>
<circle cx="382.95" cy="298.31" r="1.2" fill="#9e2c1c" opacity="1"/>
<circle cx="386.36" cy="296.55" r="1.2" fill="#9e2c1c" opacity="1"/>
<circle cx="389.77" cy="295.17" r="1.2" fill="#9e2c1c" opacity="1"/>
<circle cx="393.18" cy="294.33" r="1.2" fill="#9e2c1c" opacity="1"/>
<circle cx="396.59" cy="293.85" r="1.2" fill="#9e2c1c" opacity="1"/>
<circle cx="400" cy="293.4" r="1.2" fill="#9e2c1c" opacity="1"/>
<circle cx="335.21" cy="337.17" r="1.2" fill="#9e2c1c" opacity="1"/>
<circle cx="338.62" cy="341.13" r="1.2" fill="#9e2c1c" opacity="1"/>
<circle cx="342.03" cy="346.6" r="1.2" fill="#9e2c1c" opacity="1"/>
<circle cx="345.44" cy="351.52" r="1.2" fill="#9e2c1c" opacity="1"/>
<circle cx="348.85" cy="355.01" r="1.2" fill="#9e2c1c" opacity="1"/>
<circle cx="352.26" cy="356.76" r="1.2" fill="#9e2c1c" opacity="1"/>
<circle cx="355.67" cy="356.81" r="1.2" fill="#9e2c1c" opacity="1"/>
<circle cx="359.08" cy="355.41" r="1.2" fill="#9e2c1c" opacity="1"/>
<circle cx="362.49" cy="352.23" r="1.2" fill="#9e2c1c" opacity="1"/>
<circle cx="365.9" cy="347.02" r="1.2" fill="#9e2c1c" opacity="1"/>
<circle cx="369.31" cy="341.92" r="1.2" fill="#9e2c1c" opacity="1"/>
<circle cx="372.72" cy="335.79" r="1.2" fill="#9e2c1c" opacity="1"/>
<circle cx="376.13" cy="329.83" r="1.2" fill="#9e2c1c" opacity="1"/>
<circle cx="379.54" cy="324.58" r="1.2" fill="#9e2c1c" opacity="1"/>
<circle cx="382.95" cy="318.52" r="1.2" fill="#9e2c1c" opacity="1"/>
<circle cx="386.36" cy="311.57" r="1.2" fill="#9e2c1c" opacity="1"/>
<circle cx="389.77" cy="305.98" r="1.2" fill="#9e2c1c" opacity="1"/>
<circle cx="393.18" cy="301.36" r="1.2" fill="#9e2c1c" opacity="1"/>
<circle cx="396.59" cy="297.5" r="1.2" fill="#9e2c1c" opacity="1"/>
<circle cx="293.42" cy="297.63" r="1.2" fill="#9e2c1c" opacity="1"/>
<circle cx="295.44" cy="301.13" r="1.2" fill="#9e2c1c" opacity="1"/>
<circle cx="297.46" cy="305.11" r="1.2" fill="#9e2c1c" opacity="1"/>
<circle cx="299.48" cy="309.61" r="1.2" fill="#9e2c1c" opacity="1"/>
<circle cx="301.5" cy="315.05" r="1.2" fill="#9e2c1c" opacity="1"/>
<circle cx="303.52" cy="321.08" r="1.2" fill="#9e2c1c" opacity="1"/>
<circle cx="305.54" cy="327.89" r="1.2" fill="#9e2c1c" opacity="1"/>
<circle cx="307.56" cy="336.33" r="1.2" fill="#9e2c1c" opacity="1"/>
<circle cx="309.58" cy="350.96" r="1.2" fill="#9e2c1c" opacity="1"/>
<circle cx="379.54" cy="349.5" r="1.2" fill="#9e2c1c" opacity="1"/>
<circle cx="382.95" cy="335.78" r="1.2" fill="#9e2c1c" opacity="1"/>
<circle cx="386.36" cy="325.9" r="1.2" fill="#9e2c1c" opacity="1"/>
<circle cx="389.77" cy="315.88" r="1.2" fill="#9e2c1c" opacity="1"/>
<circle cx="393.18" cy="307.38" r="1.2" fill="#9e2c1c" opacity="1"/>
<circle cx="396.59" cy="300.17" r="1.2" fill="#9e2c1c" opacity="1"/>
<path d="M243,247.8C244.9,247.7 246.82,247.77 248.7,247.5C250.58,247.23 252.1,246.88 254.3,246.2C256.5,245.52 259.38,244.5 261.9,243.4C264.42,242.3 267.37,240.62 269.4,239.6C271.43,238.58 272.68,237.77 274.1,237.3C275.52,236.83 276.8,236.73 277.9,236.8C279,236.87 279.6,237 280.7,237.7C281.8,238.4 283.23,239.7 284.5,241C285.77,242.3 287.17,244.43 288.3,245.5C289.43,246.57 290.3,246.77 291.3,247.4" fill="none" stroke="#5a6fc8" stroke-width="1.85" stroke-linejoin="round" stroke-linecap="round" opacity="0.85"/>
<path d="M291.3,247.3C292.37,245.97 293.48,244.85 294.5,243.3C295.52,241.75 296.57,239.97 297.4,238C298.23,236.03 298.83,233.2 299.5,231.5C300.17,229.8 300.73,228.25 301.4,227.8C302.07,227.35 302.73,228.18 303.5,228.8C304.27,229.42 304.87,230.3 306,231.5C307.13,232.7 308.3,234.2 310.3,236C312.3,237.8 315.55,240.42 318,242.3C320.45,244.18 322.7,245.82 325,247.3C327.3,248.78 329.97,250.7 331.8,251.2C333.63,251.7 334.63,250.95 336,250.3C337.37,249.65 338.5,248.52 340,247.3C341.5,246.08 343.33,244.38 345,243C346.67,241.62 348.17,240.67 350,239C351.83,237.33 354,235 356,233C358,231 360.17,228.62 362,227C363.83,225.38 365.27,224.13 367,223.3C368.73,222.47 370.57,222 372.4,222C374.23,222 376.07,222.33 378,223.3C379.93,224.27 382,225.97 384,227.8C386,229.63 388.17,232.13 390,234.3C391.83,236.47 393.33,238.65 395,240.8C396.67,242.95 398.33,245.07 400,247.2" fill="none" stroke="#5a6fc8" stroke-width="1.85" stroke-linejoin="round" stroke-linecap="round" opacity="0.85"/>
<path d="M281.2,209.7C282.47,210.97 283.78,212.38 285,213.5C286.22,214.62 287.45,215.72 288.5,216.4C289.55,217.08 290.3,217.63 291.3,217.6C292.3,217.57 293.55,216.92 294.5,216.2C295.45,215.48 296.32,214.38 297,213.3C297.68,212.22 298.07,210.9 298.6,209.7" fill="none" stroke="#5a6fc8" stroke-width="1.6" stroke-linejoin="round" stroke-linecap="round" opacity="0.85"/>
<path d="M275.5,209.7C277.67,210.9 280.08,212.15 282,213.3C283.92,214.45 285.45,215.73 287,216.6C288.55,217.47 289.97,218.12 291.3,218.5C292.63,218.88 293.97,218.62 295,218.9C296.03,219.18 296.7,219.7 297.5,220.2C298.3,220.7 299.05,222.02 299.8,221.9C300.55,221.78 301.3,220.73 302,219.5C302.7,218.27 303.42,216.05 304,214.5C304.58,212.95 305.08,211.62 305.5,210.2C305.92,208.78 306.17,207.4 306.5,206" fill="none" stroke="#5a6fc8" stroke-width="1.5" stroke-linejoin="round" stroke-linecap="round" opacity="0.85"/>
<path d="M276.3,209.7C278.2,211.17 280.22,212.78 282,214.1C283.78,215.42 285.45,216.68 287,217.6C288.55,218.52 289.97,219.22 291.3,219.6C292.63,219.98 293.97,219.63 295,219.9C296.03,220.17 296.7,220.7 297.5,221.2C298.3,221.7 299.05,223.07 299.8,222.9C300.55,222.73 301.3,221.52 302,220.2C302.7,218.88 303.42,216.6 304,215C304.58,213.4 305.08,212.1 305.5,210.6C305.92,209.1 306.17,207.53 306.5,206" fill="none" stroke="#5a6fc8" stroke-width="1.5" stroke-linejoin="round" stroke-linecap="round" opacity="0.85"/>
<path d="M306,205C306.67,205.67 307.28,206.22 308,207C308.72,207.78 309.13,207.78 310.3,209.7C311.47,211.62 313.38,215.95 315,218.5C316.62,221.05 318.33,222.92 320,225C321.67,227.08 323.03,228.78 325,231C326.97,233.22 329.97,237.3 331.8,238.3C333.63,239.3 334.63,238.38 336,237C337.37,235.62 338.83,232.83 340,230C341.17,227.17 342.17,223.08 343,220C343.83,216.92 344.58,213.22 345,211.5C345.42,209.78 345.33,210.3 345.5,209.7" fill="none" stroke="#5a6fc8" stroke-width="1.85" stroke-linejoin="round" stroke-linecap="round" opacity="0.85"/>
<path d="M383.8,209.7C385.53,210.8 387.13,211.95 389,213C390.87,214.05 393.17,215.3 395,216C396.83,216.7 398.33,216.8 400,217.2" fill="none" stroke="#5a6fc8" stroke-width="1.4" stroke-linejoin="round" stroke-linecap="round" opacity="0.85"/>
<path d="M386,209.7C387.67,211.13 389.33,212.73 391,214C392.67,215.27 394.5,216.53 396,217.3C397.5,218.07 398.67,218.17 400,218.6" fill="none" stroke="#5a6fc8" stroke-width="1.4" stroke-linejoin="round" stroke-linecap="round" opacity="0.85"/>
<path d="M388.5,209.7C390,211.47 391.58,213.55 393,215C394.42,216.45 395.83,217.6 397,218.4C398.17,219.2 399,219.33 400,219.8" fill="none" stroke="#5a6fc8" stroke-width="1.4" stroke-linejoin="round" stroke-linecap="round" opacity="0.85"/>
<path d="M243,310.3C246.6,309.8 250.2,309.95 253.8,308.8C257.4,307.65 261,305.27 264.6,303.4C268.2,301.53 271.8,299.23 275.4,297.6C279,295.97 283.53,294.38 286.2,293.6C288.87,292.82 289.67,293.13 291.4,292.9" fill="none" stroke="#5a6fc8" stroke-width="1.85" stroke-linejoin="round" stroke-linecap="round" opacity="0.85"/>
<path d="M243,311.5C246.6,311 250.2,311.17 253.8,310C257.4,308.83 261,306.42 264.6,304.5C268.2,302.58 271.8,300.25 275.4,298.5C279,296.75 283.53,294.93 286.2,294C288.87,293.07 289.67,293.27 291.4,292.9" fill="none" stroke="#5a6fc8" stroke-width="1.85" stroke-linejoin="round" stroke-linecap="round" opacity="0.85"/>
<path d="M266.8,357.3C268.2,353.2 269.3,350.38 271,345C272.7,339.62 275.55,329.6 277,325C278.45,320.4 278.72,320.28 279.7,317.4C280.68,314.52 281.82,310.58 282.9,307.7C283.98,304.82 285.27,302.05 286.2,300.1C287.13,298.15 287.7,297.1 288.5,296C289.3,294.9 290.17,294.33 291,293.5" fill="none" stroke="#5a6fc8" stroke-width="1.85" stroke-linejoin="round" stroke-linecap="round" opacity="0.85"/>
<path d="M291.2,293.9C292.43,294.4 293.48,294.12 294.9,295.4C296.32,296.68 298.08,299.15 299.7,301.6C301.32,304.05 302.98,307.27 304.6,310.1C306.22,312.93 307.78,316.07 309.4,318.6C311.02,321.13 312.48,323.28 314.3,325.3C316.12,327.32 318.28,329.28 320.3,330.7C322.32,332.12 324.37,333.18 326.4,333.8C328.43,334.42 330.9,334.37 332.5,334.4C334.1,334.43 334.83,334.13 336,334" fill="none" stroke="#5a6fc8" stroke-width="1.5" stroke-linejoin="round" stroke-linecap="round" opacity="0.85"/>
<path d="M291.2,293.6C292.43,294.03 293.48,293.68 294.9,294.9C296.32,296.12 298.08,298.48 299.7,300.9C301.32,303.32 302.98,306.57 304.6,309.4C306.22,312.23 307.78,315.37 309.4,317.9C311.02,320.43 312.48,322.58 314.3,324.6C316.12,326.62 318.28,328.58 320.3,330C322.32,331.42 324.37,332.48 326.4,333.1C328.43,333.72 330.73,333.8 332.5,333.7C334.27,333.6 335.08,333.37 337,332.5C338.92,331.63 341.38,329.88 344,328.5C346.62,327.12 349.47,326.35 352.7,324.2C355.93,322.05 359.82,318.48 363.4,315.6C366.98,312.72 370.6,309.6 374.2,306.9C377.8,304.2 382.03,301.22 385,299.4C387.97,297.58 389.67,296.9 392,296C394.33,295.1 397.67,294.4 399,294C400.33,293.6 399.67,293.73 400,293.6" fill="none" stroke="#5a6fc8" stroke-width="1.85" stroke-linejoin="round" stroke-linecap="round" opacity="0.85"/>
<path d="M332.5,333.7C333.1,333.9 332.73,333.2 334.3,334.3C335.87,335.4 339.78,338.27 341.9,340.3C344.02,342.33 345.2,344.8 347,346.5C348.8,348.2 350.87,349.88 352.7,350.5C354.53,351.12 356.22,350.82 358,350.2C359.78,349.58 361.73,348.58 363.4,346.8C365.07,345.02 366.2,342.37 368,339.5C369.8,336.63 372.2,332.85 374.2,329.6C376.2,326.35 378.2,322.88 380,320C381.8,317.12 383.5,314.72 385,312.3C386.5,309.88 387.57,307.5 389,305.5C390.43,303.5 392.27,301.75 393.6,300.3C394.93,298.85 395.93,297.68 397,296.8C398.07,295.92 399,295.6 400,295" fill="none" stroke="#5a6fc8" stroke-width="1.85" stroke-linejoin="round" stroke-linecap="round" opacity="0.85"/>
<path d="M291.2,294.5C292.13,296.33 293.03,298 294,300C294.97,302 295.83,303.67 297,306.5C298.17,309.33 299.67,313.25 301,317C302.33,320.75 303.75,325 305,329C306.25,333 307.38,336.28 308.5,341C309.62,345.72 310.63,351.87 311.7,357.3" fill="none" stroke="#5a6fc8" stroke-width="1.85" stroke-linejoin="round" stroke-linecap="round" opacity="0.85"/>
<path d="M376.4,357.3C377.93,352.87 379.4,348.88 381,344C382.6,339.12 384.33,333.17 386,328C387.67,322.83 389.5,317.17 391,313C392.5,308.83 393.83,305.58 395,303C396.17,300.42 397.17,298.83 398,297.5C398.83,296.17 399.33,295.83 400,295" fill="none" stroke="#5a6fc8" stroke-width="1.85" stroke-linejoin="round" stroke-linecap="round" opacity="0.85"/>
<rect x="320.6" y="266.1" width="48.6" height="32" fill="#fff" stroke="none"/>
<line x1="345.2" y1="266.1" x2="345.2" y2="298.1" stroke="#dcdcdc" stroke-width="0.8" />
<clipPath id="ci4"><rect x="320.6" y="266.1" width="48.6" height="32"/></clipPath><g clip-path="url(#ci4)">
<circle cx="324.1" cy="283" r="1.2" fill="#9e2c1c" opacity="1"/>
<circle cx="329.3" cy="280.4" r="1.2" fill="#9e2c1c" opacity="1"/>
<circle cx="334.4" cy="278.4" r="1.2" fill="#9e2c1c" opacity="1"/>
<circle cx="339.7" cy="277.4" r="1.2" fill="#9e2c1c" opacity="1"/>
<circle cx="345.2" cy="276.9" r="1.2" fill="#9e2c1c" opacity="1"/>
<circle cx="349.6" cy="277.9" r="1.2" fill="#9e2c1c" opacity="1"/>
<circle cx="353.7" cy="281.3" r="1.2" fill="#9e2c1c" opacity="1"/>
<circle cx="358" cy="286.6" r="1.2" fill="#9e2c1c" opacity="1"/>
<circle cx="362.3" cy="292.9" r="1.2" fill="#9e2c1c" opacity="1"/>
<circle cx="334.6" cy="294" r="1.2" fill="#9e2c1c" opacity="1"/>
<circle cx="339.7" cy="284" r="1.2" fill="#9e2c1c" opacity="1"/>
<circle cx="345.2" cy="280.4" r="1.2" fill="#9e2c1c" opacity="1"/>
<circle cx="349.6" cy="284" r="1.2" fill="#9e2c1c" opacity="1"/>
<circle cx="353.7" cy="294" r="1.2" fill="#9e2c1c" opacity="1"/>
<path d="M320.6,283.5C322.73,282.77 324.77,282 327,281.3C329.23,280.6 331.83,279.88 334,279.3C336.17,278.72 338.13,278.2 340,277.8C341.87,277.4 343.53,276.73 345.2,276.9C346.87,277.07 348.53,277.95 350,278.8C351.47,279.65 352.67,280.7 354,282C355.33,283.3 356.75,285.1 358,286.6C359.25,288.1 360.28,289.08 361.5,291C362.72,292.92 364.03,295.73 365.3,298.1" fill="none" stroke="#5a6fc8" stroke-width="1.5" stroke-linejoin="round" stroke-linecap="round" opacity="0.85"/>
<path d="M320.6,286.1C322.73,285.27 324.77,284.45 327,283.6C329.23,282.75 331.83,281.77 334,281C336.17,280.23 338.13,279.68 340,279C341.87,278.32 343.53,276.8 345.2,276.9C346.87,277 348.53,278.58 350,279.6C351.47,280.62 352.67,281.67 354,283C355.33,284.33 356.75,286.07 358,287.6C359.25,289.13 360.45,290.45 361.5,292.2C362.55,293.95 363.37,296.13 364.3,298.1" fill="none" stroke="#5a6fc8" stroke-width="1.5" stroke-linejoin="round" stroke-linecap="round" opacity="0.85"/>
<path d="M346,277.5C347.33,278.47 348.67,279.32 350,280.4C351.33,281.48 352.67,282.63 354,284C355.33,285.37 356.75,287.07 358,288.6C359.25,290.13 360.62,291.62 361.5,293.2C362.38,294.78 362.7,296.47 363.3,298.1" fill="none" stroke="#5a6fc8" stroke-width="1.3" stroke-linejoin="round" stroke-linecap="round" opacity="0.85"/>
<path d="M332.3,298.1C333.2,296.07 333.77,294.35 335,292C336.23,289.65 338,285.93 339.7,284C341.4,282.07 343.55,280.4 345.2,280.4C346.85,280.4 348.3,282.07 349.6,284C350.9,285.93 352.03,289.65 353,292C353.97,294.35 354.6,296.07 355.4,298.1" fill="none" stroke="#5a6fc8" stroke-width="1.5" stroke-linejoin="round" stroke-linecap="round" opacity="0.85"/>
</g>
<rect x="320.6" y="266.1" width="48.6" height="32" fill="none" stroke="#111" stroke-width="1.25"/>
<line x1="319.3" y1="266.22" x2="320.6" y2="266.22" stroke="#111" stroke-width="0.6" />
<line x1="319.3" y1="270.26" x2="320.6" y2="270.26" stroke="#111" stroke-width="0.6" />
<line x1="319.3" y1="274.3" x2="320.6" y2="274.3" stroke="#111" stroke-width="0.6" />
<line x1="319.3" y1="278.34" x2="320.6" y2="278.34" stroke="#111" stroke-width="0.6" />
<line x1="319.3" y1="282.38" x2="320.6" y2="282.38" stroke="#111" stroke-width="0.6" />
<line x1="319.3" y1="286.42" x2="320.6" y2="286.42" stroke="#111" stroke-width="0.6" />
<line x1="319.3" y1="290.46" x2="320.6" y2="290.46" stroke="#111" stroke-width="0.6" />
<line x1="319.3" y1="294.5" x2="320.6" y2="294.5" stroke="#111" stroke-width="0.6" />
<line x1="318" y1="274.3" x2="320.6" y2="274.3" stroke="#111" stroke-width="0.8" />
<text x="302.03" y="277.07" font-size="6.9" fill="#111" textLength="14.29" lengthAdjust="spacingAndGlyphs" style="stroke-width:0.15px">-6.0</text>
<line x1="318" y1="294.5" x2="320.6" y2="294.5" stroke="#111" stroke-width="0.8" />
<text x="302.03" y="297.27" font-size="6.9" fill="#111" textLength="14.34" lengthAdjust="spacingAndGlyphs" style="stroke-width:0.15px">-6.5</text>
<text x="321.15" y="262.4" font-size="7.4" fill="#111" textLength="5.59" lengthAdjust="spacingAndGlyphs" style="stroke-width:0.15px">Δ</text>
<text x="326.57" y="263.6" font-size="6.0" fill="#111" textLength="6.32" lengthAdjust="spacingAndGlyphs" style="stroke-width:0.1px;font-style:italic">so</text>
<text x="334.12" y="262.4" font-size="7.4" fill="#111" textLength="5.66" lengthAdjust="spacingAndGlyphs" style="stroke-width:0.15px">=</text>
<text x="341.15" y="262.4" font-size="7.4" fill="#111" textLength="17.16" lengthAdjust="spacingAndGlyphs" style="stroke-width:0.15px">0.09</text>
<text x="358.04" y="262.4" font-size="7.4" fill="#111" textLength="9.19" lengthAdjust="spacingAndGlyphs" style="stroke-width:0.15px;font-style:italic">eV</text>
</g>
<rect x="243.45" y="209.4" width="156.85" height="147.9" fill="none" stroke="#262626" stroke-width="1.0"/>
<line x1="239.9" y1="225.83" x2="243.45" y2="225.83" stroke="#262626" stroke-width="1.0" />
<text x="221.8" y="229.83" font-size="11.2" fill="#111" textLength="16.01" lengthAdjust="spacingAndGlyphs" style="stroke-width:0.31px;">−2</text>
<line x1="239.9" y1="258.7" x2="243.45" y2="258.7" stroke="#262626" stroke-width="1.0" />
<text x="221.81" y="262.7" font-size="11.2" fill="#111" textLength="15.71" lengthAdjust="spacingAndGlyphs" style="stroke-width:0.31px;">−4</text>
<line x1="239.9" y1="291.57" x2="243.45" y2="291.57" stroke="#262626" stroke-width="1.0" />
<text x="221.8" y="295.57" font-size="11.2" fill="#111" textLength="15.93" lengthAdjust="spacingAndGlyphs" style="stroke-width:0.31px;">−6</text>
<line x1="239.9" y1="324.43" x2="243.45" y2="324.43" stroke="#262626" stroke-width="1.0" />
<text x="221.8" y="328.43" font-size="11.2" fill="#111" textLength="15.93" lengthAdjust="spacingAndGlyphs" style="stroke-width:0.31px;">−8</text>
<line x1="239.9" y1="357.3" x2="243.45" y2="357.3" stroke="#262626" stroke-width="1.0" />
<text x="215.45" y="361.3" font-size="11.2" fill="#111" textLength="22.2" lengthAdjust="spacingAndGlyphs" style="stroke-width:0.31px;">−10</text>
<line x1="243" y1="357.3" x2="243" y2="360.8" stroke="#262626" stroke-width="1.0" />
<text x="240.39" y="370.4" font-size="10.5" fill="#111" textLength="5.62" lengthAdjust="spacingAndGlyphs" style="stroke-width:0.29px;">L</text>
<line x1="291.4" y1="357.3" x2="291.4" y2="360.8" stroke="#262626" stroke-width="1.0" />
<text x="288.87" y="370.4" font-size="10.5" fill="#111" textLength="5.7" lengthAdjust="spacingAndGlyphs" style="stroke-width:0.29px;">Γ</text>
<line x1="331.8" y1="357.3" x2="331.8" y2="360.8" stroke="#262626" stroke-width="1.0" />
<text x="327.7" y="370.4" font-size="10.5" fill="#111" textLength="7.96" lengthAdjust="spacingAndGlyphs" style="stroke-width:0.29px;">X</text>
<line x1="348.2" y1="357.3" x2="348.2" y2="360.8" stroke="#262626" stroke-width="1.0" />
<text x="344.56" y="370.4" font-size="10.5" fill="#111" textLength="8.11" lengthAdjust="spacingAndGlyphs" style="stroke-width:0.29px;">U</text>
<line x1="400" y1="357.3" x2="400" y2="360.8" stroke="#262626" stroke-width="1.0" />
<text x="397.47" y="370.4" font-size="10.5" fill="#111" textLength="5.7" lengthAdjust="spacingAndGlyphs" style="stroke-width:0.29px;">Γ</text>
<text x="308.54" y="206.1" font-size="14.0" fill="#111" textLength="26.33" lengthAdjust="spacingAndGlyphs" style="stroke-width:0.22px">GaP</text>
<line x1="497.4" y1="12.3" x2="497.4" y2="150" stroke="#ebebeb" stroke-width="0.8" />
<line x1="534.3" y1="12.3" x2="534.3" y2="150" stroke="#ebebeb" stroke-width="0.8" />
<line x1="571.2" y1="12.3" x2="571.2" y2="150" stroke="#ebebeb" stroke-width="0.8" />
<line x1="608.1" y1="12.3" x2="608.1" y2="150" stroke="#ebebeb" stroke-width="0.8" />
<line x1="645" y1="12.3" x2="645" y2="150" stroke="#ebebeb" stroke-width="0.8" />
<line x1="460.5" y1="43.01" x2="682" y2="43.01" stroke="#ebebeb" stroke-width="0.8" />
<line x1="460.5" y1="73.73" x2="682" y2="73.73" stroke="#ebebeb" stroke-width="0.8" />
<line x1="460.5" y1="104.45" x2="682" y2="104.45" stroke="#ebebeb" stroke-width="0.8" />
<line x1="460.5" y1="135.17" x2="682" y2="135.17" stroke="#ebebeb" stroke-width="0.8" />
<clipPath id="bclip"><rect x="460.5" y="12.3" width="221.5" height="137.7"/></clipPath><g clip-path="url(#bclip)">
<path d="M460.6,120.1C462.23,120.27 463.88,120.28 465.5,120.6C467.12,120.92 468.72,121.48 470.3,122C471.88,122.52 473.43,123.07 475,123.7C476.57,124.33 478.13,125.07 479.7,125.8C481.27,126.53 482.83,127.4 484.4,128.1C485.97,128.8 487.53,129.45 489.1,130C490.67,130.55 492.03,131 493.8,131.4C495.57,131.8 497.93,132.2 499.7,132.4C501.47,132.6 502.82,132.6 504.4,132.6C505.98,132.6 507.62,132.57 509.2,132.4C510.78,132.23 512.33,131.92 513.9,131.6C515.47,131.28 517.03,130.92 518.6,130.5C520.17,130.08 521.88,129.58 523.3,129.1C524.72,128.62 525.65,128.2 527.1,127.6C528.55,127 530.27,126.23 532,125.5C533.73,124.77 535.33,124.02 537.5,123.2C539.67,122.38 541.67,122.12 545,120.6C548.33,119.08 553.95,115.7 557.5,114.1C561.05,112.5 563.97,111.73 566.3,111C568.63,110.27 569.32,110.2 571.5,109.7C573.68,109.2 576.62,108.52 579.4,108C582.18,107.48 584.77,107.05 588.2,106.6C591.63,106.15 596.03,105.62 600,105.3C603.97,104.98 607.33,104.85 612,104.7C616.67,104.55 621.67,104.45 628,104.4C634.33,104.35 641,104.4 650,104.4C659,104.4 671.33,104.4 682,104.4" fill="none" stroke="#1f77b4" stroke-width="1.9" stroke-linejoin="round"/>
<path d="M460.5,38.8C461.67,39.27 462.92,39.53 464,40.2C465.08,40.87 466,41.9 467,42.8C468,43.7 468.97,44.42 470,45.6C471.03,46.78 472.12,48.3 473.2,49.9C474.28,51.5 475.42,53.25 476.5,55.2C477.58,57.15 478.63,59.4 479.7,61.6C480.77,63.8 481.77,65.87 482.9,68.4C484.03,70.93 485.4,74.23 486.5,76.8C487.6,79.37 488.53,81.6 489.5,83.8C490.47,86 491.12,87.42 492.3,90C493.48,92.58 495.27,96.55 496.6,99.3C497.93,102.05 499.07,104.25 500.3,106.5C501.53,108.75 502.83,110.98 504,112.8C505.17,114.62 505.97,115.8 507.3,117.4C508.63,119 510.43,121.03 512,122.4C513.57,123.77 515.13,124.78 516.7,125.6C518.27,126.42 519.83,126.98 521.4,127.3C522.97,127.62 524.53,127.63 526.1,127.5C527.67,127.37 529.38,126.95 530.8,126.5C532.22,126.05 533.48,125.32 534.6,124.8C535.72,124.28 535.77,124.1 537.5,123.4C539.23,122.7 541.67,122.15 545,120.6C548.33,119.05 553.95,115.7 557.5,114.1C561.05,112.5 563.97,111.73 566.3,111C568.63,110.27 569.32,110.2 571.5,109.7C573.68,109.2 576.62,108.52 579.4,108C582.18,107.48 584.77,107.05 588.2,106.6C591.63,106.15 596.03,105.62 600,105.3C603.97,104.98 607.33,104.85 612,104.7C616.67,104.55 621.67,104.45 628,104.4C634.33,104.35 641,104.4 650,104.4C659,104.4 671.33,104.4 682,104.4" fill="none" stroke="#ff7f0e" stroke-width="1.9" stroke-linejoin="round"/>
<path d="M460.5,24.4C461.67,24.8 462.8,24.92 464,25.6C465.2,26.28 466.53,27.27 467.7,28.5C468.87,29.73 469.9,31.12 471,33C472.1,34.88 473.22,37.55 474.3,39.8C475.38,42.05 476.42,44.13 477.5,46.5C478.58,48.87 479.72,51.48 480.8,54C481.88,56.52 482.92,59 484,61.6C485.08,64.2 486.25,66.95 487.3,69.6C488.35,72.25 489.28,74.77 490.3,77.5C491.32,80.23 492.18,83.05 493.4,86C494.62,88.95 496.2,92.2 497.6,95.2C499,98.2 500.48,101.4 501.8,104C503.12,106.6 504.27,108.8 505.5,110.8C506.73,112.8 507.8,114.28 509.2,116C510.6,117.72 512.33,119.73 513.9,121.1C515.47,122.47 517.03,123.42 518.6,124.2C520.17,124.98 521.73,125.48 523.3,125.8C524.87,126.12 526.43,126.2 528,126.1C529.57,126 531.12,125.65 532.7,125.2C534.28,124.75 535.45,124.17 537.5,123.4C539.55,122.63 541.67,122.15 545,120.6C548.33,119.05 553.95,115.7 557.5,114.1C561.05,112.5 563.97,111.73 566.3,111C568.63,110.27 569.32,110.2 571.5,109.7C573.68,109.2 576.62,108.52 579.4,108C582.18,107.48 584.77,107.05 588.2,106.6C591.63,106.15 596.03,105.62 600,105.3C603.97,104.98 607.33,104.85 612,104.7C616.67,104.55 621.67,104.45 628,104.4C634.33,104.35 641,104.4 650,104.4C659,104.4 671.33,104.4 682,104.4" fill="none" stroke="#2ca02c" stroke-width="1.9" stroke-linejoin="round"/>
<path d="M460.6,113C462.23,113.23 463.88,113.3 465.5,113.7C467.12,114.1 468.72,114.65 470.3,115.4C471.88,116.15 473.43,117.18 475,118.2C476.57,119.22 478.13,120.4 479.7,121.5C481.27,122.6 482.83,123.78 484.4,124.8C485.97,125.82 487.53,126.77 489.1,127.6C490.67,128.43 492.03,129.08 493.8,129.8C495.57,130.52 497.93,131.35 499.7,131.9C501.47,132.45 502.82,132.83 504.4,133.1C505.98,133.37 507.62,133.5 509.2,133.5C510.78,133.5 512.33,133.37 513.9,133.1C515.47,132.83 517.03,132.42 518.6,131.9C520.17,131.38 521.73,130.72 523.3,130C524.87,129.28 526.43,128.38 528,127.6C529.57,126.82 531.12,126.05 532.7,125.3C534.28,124.55 535.45,123.97 537.5,123.1C539.55,122.23 541.67,121.7 545,120.1C548.33,118.5 553.95,115.12 557.5,113.5C561.05,111.88 563.97,111.13 566.3,110.4C568.63,109.67 569.32,109.6 571.5,109.1C573.68,108.6 576.62,107.9 579.4,107.4C582.18,106.9 584.77,106.52 588.2,106.1C591.63,105.68 596.03,105.17 600,104.9C603.97,104.63 607.33,104.58 612,104.5C616.67,104.42 621.67,104.42 628,104.4C634.33,104.38 641,104.4 650,104.4C659,104.4 671.33,104.4 682,104.4" fill="none" stroke="#d62728" stroke-width="1.9" stroke-linejoin="round"/>
</g>
<rect x="460.5" y="12.3" width="221.5" height="137.7" fill="none" stroke="#262626" stroke-width="1.0"/>
<line x1="457" y1="12.29" x2="460.5" y2="12.29" stroke="#262626" stroke-width="1.0" />
<text x="448.16" y="16.49" font-size="10.8" fill="#111" textLength="7.57" lengthAdjust="spacingAndGlyphs" style="stroke-width:0.30px;">3</text>
<line x1="457" y1="43.01" x2="460.5" y2="43.01" stroke="#262626" stroke-width="1.0" />
<text x="448" y="47.21" font-size="10.8" fill="#111" textLength="7.82" lengthAdjust="spacingAndGlyphs" style="stroke-width:0.30px;">2</text>
<line x1="457" y1="73.73" x2="460.5" y2="73.73" stroke="#262626" stroke-width="1.0" />
<text x="449.12" y="77.93" font-size="10.8" fill="#111" textLength="5.82" lengthAdjust="spacingAndGlyphs" style="stroke-width:0.30px;">1</text>
<line x1="457" y1="104.45" x2="460.5" y2="104.45" stroke="#262626" stroke-width="1.0" />
<text x="448.16" y="108.65" font-size="10.8" fill="#111" textLength="7.49" lengthAdjust="spacingAndGlyphs" style="stroke-width:0.30px;">0</text>
<line x1="457" y1="135.17" x2="460.5" y2="135.17" stroke="#262626" stroke-width="1.0" />
<text x="439.76" y="139.37" font-size="10.8" fill="#111" textLength="14.69" lengthAdjust="spacingAndGlyphs" style="stroke-width:0.30px;">−1</text>
<line x1="460.5" y1="150" x2="460.5" y2="153.5" stroke="#262626" stroke-width="1.0" />
<text x="457.17" y="164.1" font-size="10.8" fill="#111" textLength="6.68" lengthAdjust="spacingAndGlyphs" style="stroke-width:0.30px;">0</text>
<line x1="497.4" y1="150" x2="497.4" y2="153.5" stroke="#262626" stroke-width="1.0" />
<text x="494.22" y="164.1" font-size="10.8" fill="#111" textLength="5.82" lengthAdjust="spacingAndGlyphs" style="stroke-width:0.30px;">1</text>
<line x1="534.3" y1="150" x2="534.3" y2="153.5" stroke="#262626" stroke-width="1.0" />
<text x="530.82" y="164.1" font-size="10.8" fill="#111" textLength="6.97" lengthAdjust="spacingAndGlyphs" style="stroke-width:0.30px;">2</text>
<line x1="571.2" y1="150" x2="571.2" y2="153.5" stroke="#262626" stroke-width="1.0" />
<text x="567.86" y="164.1" font-size="10.8" fill="#111" textLength="6.75" lengthAdjust="spacingAndGlyphs" style="stroke-width:0.30px;">3</text>
<line x1="608.1" y1="150" x2="608.1" y2="153.5" stroke="#262626" stroke-width="1.0" />
<text x="604.97" y="164.1" font-size="10.8" fill="#111" textLength="6.34" lengthAdjust="spacingAndGlyphs" style="stroke-width:0.30px;">4</text>
<line x1="645" y1="150" x2="645" y2="153.5" stroke="#262626" stroke-width="1.0" />
<text x="641.67" y="164.1" font-size="10.8" fill="#111" textLength="6.68" lengthAdjust="spacingAndGlyphs" style="stroke-width:0.30px;">5</text>
<line x1="681.9" y1="150" x2="681.9" y2="153.5" stroke="#262626" stroke-width="1.0" />
<text x="678.43" y="164.1" font-size="10.8" fill="#111" textLength="6.89" lengthAdjust="spacingAndGlyphs" style="stroke-width:0.30px;">6</text>
<text x="550.29" y="176.1" font-size="10.6" fill="#111" textLength="42" lengthAdjust="spacingAndGlyphs" style="stroke-width:0.30px;">r (Bohr)</text>
<text transform="translate(435.4,106.9) rotate(-90)" font-size="10.6" fill="#111" textLength="51.5" lengthAdjust="spacingAndGlyphs"><tspan font-style="italic">v</tspan>(r) (a.u.)</text>
<rect x="623.2" y="18.3" width="53.1" height="65.7" rx="2.5" fill="#fff" fill-opacity="0.85" stroke="#dcdcdc" stroke-width="0.8"/>
<line x1="626.5" y1="26.3" x2="649.4" y2="26.3" stroke="#1f77b4" stroke-width="1.9" />
<text x="657.44" y="30.2" font-size="11.0" fill="#111" textLength="13.38" lengthAdjust="spacingAndGlyphs" style="stroke-width:0.31px;">As</text>
<line x1="626.5" y1="42.3" x2="649.4" y2="42.3" stroke="#ff7f0e" stroke-width="1.9" />
<text x="657.16" y="46.2" font-size="11.0" fill="#111" textLength="14.43" lengthAdjust="spacingAndGlyphs" style="stroke-width:0.31px;">Ga</text>
<line x1="626.5" y1="58.3" x2="649.4" y2="58.3" stroke="#2ca02c" stroke-width="1.9" />
<text x="657.44" y="62.2" font-size="11.0" fill="#111" textLength="10.79" lengthAdjust="spacingAndGlyphs" style="stroke-width:0.31px;">In</text>
<line x1="626.5" y1="74.3" x2="649.4" y2="74.3" stroke="#d62728" stroke-width="1.9" />
<text x="657.7" y="78.2" font-size="11.0" fill="#111" textLength="7.48" lengthAdjust="spacingAndGlyphs" style="stroke-width:0.31px;">P</text>
<line x1="587.6" y1="213.3" x2="587.6" y2="349.3" stroke="#e2e2e2" stroke-width="0.8" />
<line x1="610.1" y1="213.3" x2="610.1" y2="349.3" stroke="#e2e2e2" stroke-width="0.8" />
<line x1="632.6" y1="213.3" x2="632.6" y2="349.3" stroke="#e2e2e2" stroke-width="0.8" />
<line x1="655.1" y1="213.3" x2="655.1" y2="349.3" stroke="#e2e2e2" stroke-width="0.8" />
<line x1="677.6" y1="213.3" x2="677.6" y2="349.3" stroke="#e2e2e2" stroke-width="0.8" />
<line x1="583.3" y1="315.3" x2="681.6" y2="315.3" stroke="#e2e2e2" stroke-width="0.8" />
<line x1="583.3" y1="281.3" x2="681.6" y2="281.3" stroke="#e2e2e2" stroke-width="0.8" />
<line x1="583.3" y1="247.3" x2="681.6" y2="247.3" stroke="#e2e2e2" stroke-width="0.8" />
<line x1="587.6" y1="312" x2="677.6" y2="249.2" stroke="#3b78e7" stroke-width="1.4" stroke-dasharray="2.4,1.6"/>
<line x1="587.6" y1="317.1" x2="677.6" y2="246.2" stroke="#d23a3a" stroke-width="1.3" stroke-dasharray="1.0,1.2"/>
<circle cx="587.6" cy="312.0" r="1.7" fill="#2f6fe8"/>
<circle cx="677.6" cy="249.2" r="1.7" fill="#2f6fe8"/>
<polygon points="587.6,315.1 588.14,316.55 589.69,316.62 588.48,317.59 588.89,319.08 587.6,318.22 586.31,319.08 586.72,317.59 585.51,316.62 587.06,316.55" fill="#c42a2a" opacity="1"/>
<polygon points="677.6,243.8 678.14,245.25 679.69,245.32 678.48,246.29 678.89,247.78 677.6,246.92 676.31,247.78 676.72,246.29 675.51,245.32 677.06,245.25" fill="#c42a2a" opacity="1"/>
<circle cx="610.1" cy="302.2" r="3.0" fill="#5a6cc4" opacity="0.9"/>
<polygon points="610.1,301.6 611.01,304.04 613.62,304.16 611.58,305.78 612.27,308.29 610.1,306.85 607.93,308.29 608.62,305.78 606.58,304.16 609.19,304.04" fill="#b0543c" opacity="0.95"/>
<circle cx="632.6" cy="290.8" r="3.0" fill="#5a6cc4" opacity="0.9"/>
<polygon points="632.6,293.5 633.51,295.94 636.12,296.06 634.08,297.68 634.77,300.19 632.6,298.75 630.43,300.19 631.12,297.68 629.08,296.06 631.69,295.94" fill="#b0543c" opacity="0.95"/>
<circle cx="655.1" cy="272.3" r="3.0" fill="#5a6cc4" opacity="0.9"/>
<polygon points="655.1,276.8 656.01,279.24 658.62,279.36 656.58,280.98 657.27,283.49 655.1,282.05 652.93,283.49 653.62,280.98 651.58,279.36 654.19,279.24" fill="#b0543c" opacity="0.95"/>
<rect x="583.3" y="213.3" width="98.3" height="136" fill="none" stroke="#262626" stroke-width="1.0"/>
<line x1="580.3" y1="349.3" x2="583.3" y2="349.3" stroke="#262626" stroke-width="1.0" />
<text x="565.32" y="352.8" font-size="8.7" fill="#111" textLength="12.54" lengthAdjust="spacingAndGlyphs" style="stroke-width:0.24px;">1.0</text>
<line x1="580.3" y1="315.3" x2="583.3" y2="315.3" stroke="#262626" stroke-width="1.0" />
<text x="565.32" y="318.8" font-size="8.7" fill="#111" textLength="12.54" lengthAdjust="spacingAndGlyphs" style="stroke-width:0.24px;">1.5</text>
<line x1="580.3" y1="281.3" x2="583.3" y2="281.3" stroke="#262626" stroke-width="1.0" />
<text x="565.56" y="284.8" font-size="8.7" fill="#111" textLength="12.3" lengthAdjust="spacingAndGlyphs" style="stroke-width:0.24px;">2.0</text>
<line x1="580.3" y1="247.3" x2="583.3" y2="247.3" stroke="#262626" stroke-width="1.0" />
<text x="565.56" y="250.8" font-size="8.7" fill="#111" textLength="12.3" lengthAdjust="spacingAndGlyphs" style="stroke-width:0.24px;">2.5</text>
<line x1="580.3" y1="213.3" x2="583.3" y2="213.3" stroke="#262626" stroke-width="1.0" />
<text x="565.65" y="216.8" font-size="8.7" fill="#111" textLength="12.21" lengthAdjust="spacingAndGlyphs" style="stroke-width:0.24px;">3.0</text>
<line x1="587.6" y1="349.3" x2="587.6" y2="352.3" stroke="#262626" stroke-width="1.0" />
<text x="581.2" y="360.7" font-size="8.4" fill="#111" textLength="12.47" lengthAdjust="spacingAndGlyphs" style="stroke-width:0.24px;">InP</text>
<line x1="610.1" y1="349.3" x2="610.1" y2="352.3" stroke="#262626" stroke-width="1.0" />
<text x="601.5" y="360.7" font-size="8.4" fill="#111" textLength="17.22" lengthAdjust="spacingAndGlyphs" style="stroke-width:0.24px;">0.25</text>
<line x1="632.6" y1="349.3" x2="632.6" y2="352.3" stroke="#262626" stroke-width="1.0" />
<text x="626.45" y="360.7" font-size="8.4" fill="#111" textLength="12.31" lengthAdjust="spacingAndGlyphs" style="stroke-width:0.24px;">0.5</text>
<line x1="655.1" y1="349.3" x2="655.1" y2="352.3" stroke="#262626" stroke-width="1.0" />
<text x="646.5" y="360.7" font-size="8.4" fill="#111" textLength="17.22" lengthAdjust="spacingAndGlyphs" style="stroke-width:0.24px;">0.75</text>
<line x1="677.6" y1="349.3" x2="677.6" y2="352.3" stroke="#262626" stroke-width="1.0" />
<text x="669.81" y="360.7" font-size="8.4" fill="#111" textLength="15.59" lengthAdjust="spacingAndGlyphs" style="stroke-width:0.24px;">GaP</text>
<text x="632.3" y="369.6" font-size="8.6" text-anchor="middle" fill="#111" textLength="50.5" lengthAdjust="spacingAndGlyphs">Ga fraction <tspan font-style="italic">x</tspan></text>
<text transform="translate(561,329.79) rotate(-90)" font-size="8.2" fill="#111" textLength="97.88" lengthAdjust="spacingAndGlyphs" style="stroke-width:0.23px;">Fundamental gap (eV)</text>
<text x="594.7" y="210.1" font-size="10.2" fill="#111" textLength="34.46" lengthAdjust="spacingAndGlyphs" style="stroke-width:0.29px;">Bulk In</text>
<text x="629.08" y="211.9" font-size="7.0" fill="#111" textLength="3.88" lengthAdjust="spacingAndGlyphs" style="stroke-width:0.20px;">1</text>
<text x="633.05" y="211.9" font-size="7.0" fill="#111" textLength="6.38" lengthAdjust="spacingAndGlyphs" style="stroke-width:0.20px;">−</text>
<text x="640.5" y="211.9" font-size="7.0" fill="#111" textLength="3.72" lengthAdjust="spacingAndGlyphs" style="stroke-width:0.20px;;font-style:italic">x</text>
<text x="645.34" y="210.1" font-size="10.2" fill="#111" textLength="12.25" lengthAdjust="spacingAndGlyphs" style="stroke-width:0.29px;">Ga</text>
<text x="659.16" y="211.9" font-size="7.0" fill="#111" textLength="3.27" lengthAdjust="spacingAndGlyphs" style="stroke-width:0.20px;;font-style:italic">x</text>
<text x="663.17" y="210.1" font-size="10.2" fill="#111" textLength="6.11" lengthAdjust="spacingAndGlyphs" style="stroke-width:0.29px;">P</text>
<clipPath id="cclip"><rect x="444.4" y="213.6" width="98.9" height="135.7"/></clipPath><g clip-path="url(#cclip)">
<line x1="489.3" y1="213.6" x2="489.3" y2="349.3" stroke="#dcdcdc" stroke-width="0.8" />
<line x1="444.4" y1="258.8" x2="543.3" y2="258.8" stroke="#9a9a9a" stroke-width="0.8" stroke-dasharray="0.8,1.6"/>
<line x1="444.4" y1="291.2" x2="543.3" y2="291.2" stroke="#9a9a9a" stroke-width="0.8" stroke-dasharray="0.8,1.6"/>
<circle cx="462.5" cy="218.4" r="1.2" fill="#9e2c1c" opacity="1"/>
<circle cx="466.9" cy="224.5" r="1.2" fill="#9e2c1c" opacity="1"/>
<circle cx="471.4" cy="229.2" r="1.2" fill="#9e2c1c" opacity="1"/>
<circle cx="476" cy="231.9" r="1.2" fill="#9e2c1c" opacity="1"/>
<circle cx="480.4" cy="233.9" r="1.2" fill="#9e2c1c" opacity="1"/>
<circle cx="485.1" cy="234.6" r="1.2" fill="#9e2c1c" opacity="1"/>
<circle cx="489.1" cy="234.6" r="1.2" fill="#9e2c1c" opacity="1"/>
<circle cx="449.1" cy="219.5" r="1.2" fill="#9e2c1c" opacity="1"/>
<circle cx="453.4" cy="222.8" r="1.2" fill="#9e2c1c" opacity="1"/>
<circle cx="457.9" cy="225.8" r="1.2" fill="#9e2c1c" opacity="1"/>
<circle cx="462.5" cy="229.2" r="1.2" fill="#9e2c1c" opacity="1"/>
<circle cx="466.9" cy="232.2" r="1.2" fill="#9e2c1c" opacity="1"/>
<circle cx="471.4" cy="234.8" r="1.2" fill="#9e2c1c" opacity="1"/>
<circle cx="476" cy="238.2" r="1.2" fill="#9e2c1c" opacity="1"/>
<circle cx="480.4" cy="238" r="1.2" fill="#9e2c1c" opacity="1"/>
<circle cx="485.1" cy="238.6" r="1.2" fill="#9e2c1c" opacity="1"/>
<circle cx="489.1" cy="238.6" r="1.2" fill="#9e2c1c" opacity="1"/>
<circle cx="449.1" cy="221.6" r="1.2" fill="#9e2c1c" opacity="1"/>
<circle cx="453.4" cy="224.4" r="1.2" fill="#9e2c1c" opacity="1"/>
<circle cx="466.9" cy="233.7" r="1.2" fill="#9e2c1c" opacity="1"/>
<circle cx="445.1" cy="216.5" r="1.2" fill="#9e2c1c" opacity="1"/>
<circle cx="457.9" cy="213.5" r="1.2" fill="#9e2c1c" opacity="1"/>
<circle cx="445.1" cy="224" r="1.2" fill="#9e2c1c" opacity="1"/>
<circle cx="449.1" cy="227.8" r="1.2" fill="#9e2c1c" opacity="1"/>
<circle cx="453.4" cy="231.2" r="1.2" fill="#9e2c1c" opacity="1"/>
<circle cx="457.9" cy="234.6" r="1.2" fill="#9e2c1c" opacity="1"/>
<circle cx="462.5" cy="238" r="1.2" fill="#9e2c1c" opacity="1"/>
<circle cx="466.9" cy="240" r="1.2" fill="#9e2c1c" opacity="1"/>
<circle cx="471.4" cy="242" r="1.2" fill="#9e2c1c" opacity="1"/>
<circle cx="476" cy="244" r="1.2" fill="#9e2c1c" opacity="1"/>
<circle cx="480.4" cy="241.3" r="1.2" fill="#9e2c1c" opacity="1"/>
<circle cx="485.1" cy="242" r="1.2" fill="#9e2c1c" opacity="1"/>
<circle cx="489.1" cy="242.6" r="1.2" fill="#9e2c1c" opacity="1"/>
<circle cx="445.1" cy="233" r="1.2" fill="#9e2c1c" opacity="1"/>
<circle cx="449.1" cy="235.2" r="1.2" fill="#9e2c1c" opacity="1"/>
<circle cx="453.4" cy="238" r="1.2" fill="#9e2c1c" opacity="1"/>
<circle cx="457.9" cy="238.6" r="1.2" fill="#9e2c1c" opacity="1"/>
<circle cx="462.5" cy="242" r="1.2" fill="#9e2c1c" opacity="1"/>
<circle cx="466.9" cy="244.7" r="1.2" fill="#9e2c1c" opacity="1"/>
<circle cx="471.4" cy="248.7" r="1.2" fill="#9e2c1c" opacity="1"/>
<circle cx="476" cy="252" r="1.2" fill="#9e2c1c" opacity="1"/>
<circle cx="480.4" cy="255.5" r="1.2" fill="#9e2c1c" opacity="1"/>
<circle cx="485.1" cy="257.5" r="1.2" fill="#9e2c1c" opacity="1"/>
<circle cx="489.1" cy="258.8" r="1.2" fill="#9e2c1c" opacity="1"/>
<circle cx="445.1" cy="236" r="1.2" fill="#9e2c1c" opacity="1"/>
<circle cx="449.1" cy="238.2" r="1.2" fill="#9e2c1c" opacity="1"/>
<circle cx="453.4" cy="239.5" r="1.2" fill="#9e2c1c" opacity="1"/>
<circle cx="457.9" cy="240.2" r="1.2" fill="#9e2c1c" opacity="1"/>
<circle cx="466.9" cy="245.5" r="1.2" fill="#9e2c1c" opacity="1"/>
<circle cx="480.4" cy="244.7" r="1.2" fill="#9e2c1c" opacity="1"/>
<circle cx="485.1" cy="244.9" r="1.2" fill="#9e2c1c" opacity="1"/>
<circle cx="489.1" cy="245.3" r="1.2" fill="#9e2c1c" opacity="1"/>
<circle cx="494.5" cy="234.5" r="1.2" fill="#9e2c1c" opacity="1"/>
<circle cx="499.9" cy="234" r="1.2" fill="#9e2c1c" opacity="1"/>
<circle cx="505.3" cy="232" r="1.2" fill="#9e2c1c" opacity="1"/>
<circle cx="510.7" cy="230.5" r="1.2" fill="#9e2c1c" opacity="1"/>
<circle cx="516.1" cy="225.8" r="1.2" fill="#9e2c1c" opacity="1"/>
<circle cx="521.5" cy="220.4" r="1.2" fill="#9e2c1c" opacity="1"/>
<circle cx="526.9" cy="215" r="1.2" fill="#9e2c1c" opacity="1"/>
<circle cx="510.7" cy="228" r="1.2" fill="#9e2c1c" opacity="1"/>
<circle cx="516.1" cy="221.1" r="1.2" fill="#9e2c1c" opacity="1"/>
<circle cx="521.5" cy="215.2" r="1.2" fill="#9e2c1c" opacity="1"/>
<circle cx="499.9" cy="231.5" r="1.2" fill="#9e2c1c" opacity="1"/>
<circle cx="505.3" cy="228.5" r="1.2" fill="#9e2c1c" opacity="1"/>
<circle cx="494.5" cy="238.5" r="1.2" fill="#9e2c1c" opacity="1"/>
<circle cx="499.9" cy="238.5" r="1.2" fill="#9e2c1c" opacity="1"/>
<circle cx="505.3" cy="239" r="1.2" fill="#9e2c1c" opacity="1"/>
<circle cx="510.7" cy="239.3" r="1.2" fill="#9e2c1c" opacity="1"/>
<circle cx="516.1" cy="236.6" r="1.2" fill="#9e2c1c" opacity="1"/>
<circle cx="521.5" cy="233.9" r="1.2" fill="#9e2c1c" opacity="1"/>
<circle cx="526.9" cy="233.2" r="1.2" fill="#9e2c1c" opacity="1"/>
<circle cx="532.3" cy="231.2" r="1.2" fill="#9e2c1c" opacity="1"/>
<circle cx="537.6" cy="229.8" r="1.2" fill="#9e2c1c" opacity="1"/>
<circle cx="543" cy="228.5" r="1.2" fill="#9e2c1c" opacity="1"/>
<circle cx="494.5" cy="242.6" r="1.2" fill="#9e2c1c" opacity="1"/>
<circle cx="499.9" cy="242" r="1.2" fill="#9e2c1c" opacity="1"/>
<circle cx="505.3" cy="241.5" r="1.2" fill="#9e2c1c" opacity="1"/>
<circle cx="510.7" cy="241.3" r="1.2" fill="#9e2c1c" opacity="1"/>
<circle cx="516.1" cy="241.3" r="1.2" fill="#9e2c1c" opacity="1"/>
<circle cx="521.5" cy="239.3" r="1.2" fill="#9e2c1c" opacity="1"/>
<circle cx="526.9" cy="237.3" r="1.2" fill="#9e2c1c" opacity="1"/>
<circle cx="532.3" cy="235.9" r="1.2" fill="#9e2c1c" opacity="1"/>
<circle cx="537.6" cy="233.9" r="1.2" fill="#9e2c1c" opacity="1"/>
<circle cx="543" cy="232.5" r="1.2" fill="#9e2c1c" opacity="1"/>
<circle cx="494.5" cy="257.4" r="1.2" fill="#9e2c1c" opacity="1"/>
<circle cx="499.9" cy="254" r="1.2" fill="#9e2c1c" opacity="1"/>
<circle cx="505.3" cy="250.7" r="1.2" fill="#9e2c1c" opacity="1"/>
<circle cx="510.7" cy="248" r="1.2" fill="#9e2c1c" opacity="1"/>
<circle cx="516.1" cy="246.7" r="1.2" fill="#9e2c1c" opacity="1"/>
<circle cx="521.5" cy="245.3" r="1.2" fill="#9e2c1c" opacity="1"/>
<circle cx="526.9" cy="245.3" r="1.2" fill="#9e2c1c" opacity="1"/>
<circle cx="532.3" cy="245.3" r="1.2" fill="#9e2c1c" opacity="1"/>
<circle cx="537.6" cy="245.3" r="1.2" fill="#9e2c1c" opacity="1"/>
<circle cx="543" cy="245.3" r="1.2" fill="#9e2c1c" opacity="1"/>
<circle cx="494.5" cy="245" r="1.2" fill="#9e2c1c" opacity="1"/>
<circle cx="499.9" cy="244.5" r="1.2" fill="#9e2c1c" opacity="1"/>
<circle cx="505.3" cy="244" r="1.2" fill="#9e2c1c" opacity="1"/>
<circle cx="449.3" cy="295.5" r="1.2" fill="#9e2c1c" opacity="1"/>
<circle cx="453.6" cy="295" r="1.2" fill="#9e2c1c" opacity="1"/>
<circle cx="458" cy="294.5" r="1.2" fill="#9e2c1c" opacity="1"/>
<circle cx="462.4" cy="294" r="1.2" fill="#9e2c1c" opacity="1"/>
<circle cx="466.8" cy="293.6" r="1.2" fill="#9e2c1c" opacity="1"/>
<circle cx="471.2" cy="293.2" r="1.2" fill="#9e2c1c" opacity="1"/>
<circle cx="475.6" cy="292.8" r="1.2" fill="#9e2c1c" opacity="1"/>
<circle cx="480" cy="292.3" r="1.2" fill="#9e2c1c" opacity="1"/>
<circle cx="484.4" cy="291.7" r="1.2" fill="#9e2c1c" opacity="1"/>
<circle cx="488.7" cy="291.2" r="1.2" fill="#9e2c1c" opacity="1"/>
<circle cx="445" cy="310" r="1.2" fill="#9e2c1c" opacity="1"/>
<circle cx="449.3" cy="308.7" r="1.2" fill="#9e2c1c" opacity="1"/>
<circle cx="453.6" cy="306" r="1.2" fill="#9e2c1c" opacity="1"/>
<circle cx="458" cy="301.7" r="1.2" fill="#9e2c1c" opacity="1"/>
<circle cx="462.4" cy="299" r="1.2" fill="#9e2c1c" opacity="1"/>
<circle cx="466.8" cy="297.3" r="1.2" fill="#9e2c1c" opacity="1"/>
<circle cx="471.2" cy="296" r="1.2" fill="#9e2c1c" opacity="1"/>
<circle cx="475.6" cy="295" r="1.2" fill="#9e2c1c" opacity="1"/>
<circle cx="480" cy="294" r="1.2" fill="#9e2c1c" opacity="1"/>
<circle cx="484.4" cy="293.5" r="1.2" fill="#9e2c1c" opacity="1"/>
<circle cx="458" cy="322.7" r="1.2" fill="#9e2c1c" opacity="1"/>
<circle cx="462.4" cy="317.5" r="1.2" fill="#9e2c1c" opacity="1"/>
<circle cx="466.8" cy="312" r="1.2" fill="#9e2c1c" opacity="1"/>
<circle cx="471.2" cy="306.9" r="1.2" fill="#9e2c1c" opacity="1"/>
<circle cx="475.6" cy="302.5" r="1.2" fill="#9e2c1c" opacity="1"/>
<circle cx="480" cy="299.5" r="1.2" fill="#9e2c1c" opacity="1"/>
<circle cx="484.4" cy="297" r="1.2" fill="#9e2c1c" opacity="1"/>
<circle cx="488.7" cy="296" r="1.2" fill="#9e2c1c" opacity="1"/>
<circle cx="449.3" cy="329.7" r="1.2" fill="#9e2c1c" opacity="1"/>
<circle cx="453.6" cy="328.5" r="1.2" fill="#9e2c1c" opacity="1"/>
<circle cx="458" cy="330" r="1.2" fill="#9e2c1c" opacity="1"/>
<circle cx="462.4" cy="332.4" r="1.2" fill="#9e2c1c" opacity="1"/>
<circle cx="466.8" cy="333.5" r="1.2" fill="#9e2c1c" opacity="1"/>
<circle cx="471.2" cy="335.9" r="1.2" fill="#9e2c1c" opacity="1"/>
<circle cx="475.6" cy="337" r="1.2" fill="#9e2c1c" opacity="1"/>
<circle cx="480" cy="338.5" r="1.2" fill="#9e2c1c" opacity="1"/>
<circle cx="484.4" cy="339" r="1.2" fill="#9e2c1c" opacity="1"/>
<circle cx="488.7" cy="339" r="1.2" fill="#9e2c1c" opacity="1"/>
<circle cx="445" cy="333" r="1.2" fill="#9e2c1c" opacity="1"/>
<circle cx="449.3" cy="332.6" r="1.2" fill="#9e2c1c" opacity="1"/>
<circle cx="453.6" cy="332.4" r="1.2" fill="#9e2c1c" opacity="1"/>
<circle cx="458" cy="334.5" r="1.2" fill="#9e2c1c" opacity="1"/>
<circle cx="462.4" cy="335.9" r="1.2" fill="#9e2c1c" opacity="1"/>
<circle cx="466.8" cy="338" r="1.2" fill="#9e2c1c" opacity="1"/>
<circle cx="471.2" cy="338.5" r="1.2" fill="#9e2c1c" opacity="1"/>
<circle cx="475.6" cy="341" r="1.2" fill="#9e2c1c" opacity="1"/>
<circle cx="480" cy="341.2" r="1.2" fill="#9e2c1c" opacity="1"/>
<circle cx="484.4" cy="342.5" r="1.2" fill="#9e2c1c" opacity="1"/>
<circle cx="488.7" cy="342" r="1.2" fill="#9e2c1c" opacity="1"/>
<circle cx="445" cy="336.5" r="1.2" fill="#9e2c1c" opacity="1"/>
<circle cx="449.3" cy="335.9" r="1.2" fill="#9e2c1c" opacity="1"/>
<circle cx="453.6" cy="336.7" r="1.2" fill="#9e2c1c" opacity="1"/>
<circle cx="458" cy="337.6" r="1.2" fill="#9e2c1c" opacity="1"/>
<circle cx="462.4" cy="337.8" r="1.2" fill="#9e2c1c" opacity="1"/>
<circle cx="466.8" cy="341" r="1.2" fill="#9e2c1c" opacity="1"/>
<circle cx="471.2" cy="341.3" r="1.2" fill="#9e2c1c" opacity="1"/>
<circle cx="475.6" cy="343.5" r="1.2" fill="#9e2c1c" opacity="1"/>
<circle cx="484.4" cy="345.5" r="1.2" fill="#9e2c1c" opacity="1"/>
<circle cx="445" cy="341.5" r="1.2" fill="#9e2c1c" opacity="1"/>
<circle cx="449.3" cy="341.1" r="1.2" fill="#9e2c1c" opacity="1"/>
<circle cx="453.6" cy="342.1" r="1.2" fill="#9e2c1c" opacity="1"/>
<circle cx="458" cy="341.3" r="1.2" fill="#9e2c1c" opacity="1"/>
<circle cx="462.4" cy="341.4" r="1.2" fill="#9e2c1c" opacity="1"/>
<circle cx="466.8" cy="344.3" r="1.2" fill="#9e2c1c" opacity="1"/>
<circle cx="471.2" cy="344.8" r="1.2" fill="#9e2c1c" opacity="1"/>
<circle cx="475.6" cy="346.5" r="1.2" fill="#9e2c1c" opacity="1"/>
<circle cx="449.3" cy="345.5" r="1.2" fill="#9e2c1c" opacity="1"/>
<circle cx="453.6" cy="344.5" r="1.2" fill="#9e2c1c" opacity="1"/>
<circle cx="458" cy="345.7" r="1.2" fill="#9e2c1c" opacity="1"/>
<circle cx="462.4" cy="347.5" r="1.2" fill="#9e2c1c" opacity="1"/>
<circle cx="466.8" cy="348.5" r="1.2" fill="#9e2c1c" opacity="1"/>
<circle cx="494.4" cy="291.5" r="1.2" fill="#9e2c1c" opacity="1"/>
<circle cx="499.8" cy="292.8" r="1.2" fill="#9e2c1c" opacity="1"/>
<circle cx="505.2" cy="293.5" r="1.2" fill="#9e2c1c" opacity="1"/>
<circle cx="510.6" cy="294.6" r="1.2" fill="#9e2c1c" opacity="1"/>
<circle cx="516" cy="295.9" r="1.2" fill="#9e2c1c" opacity="1"/>
<circle cx="521.4" cy="296.8" r="1.2" fill="#9e2c1c" opacity="1"/>
<circle cx="526.8" cy="298.2" r="1.2" fill="#9e2c1c" opacity="1"/>
<circle cx="532.2" cy="299.5" r="1.2" fill="#9e2c1c" opacity="1"/>
<circle cx="537.6" cy="300.9" r="1.2" fill="#9e2c1c" opacity="1"/>
<circle cx="543" cy="302" r="1.2" fill="#9e2c1c" opacity="1"/>
<circle cx="494.4" cy="293.2" r="1.2" fill="#9e2c1c" opacity="1"/>
<circle cx="499.8" cy="294.3" r="1.2" fill="#9e2c1c" opacity="1"/>
<circle cx="505.2" cy="295" r="1.2" fill="#9e2c1c" opacity="1"/>
<circle cx="510.6" cy="296.1" r="1.2" fill="#9e2c1c" opacity="1"/>
<circle cx="516" cy="297.4" r="1.2" fill="#9e2c1c" opacity="1"/>
<circle cx="521.4" cy="298.3" r="1.2" fill="#9e2c1c" opacity="1"/>
<circle cx="526.8" cy="299.7" r="1.2" fill="#9e2c1c" opacity="1"/>
<circle cx="532.2" cy="301" r="1.2" fill="#9e2c1c" opacity="1"/>
<circle cx="537.6" cy="302.4" r="1.2" fill="#9e2c1c" opacity="1"/>
<circle cx="494.4" cy="297.5" r="1.2" fill="#9e2c1c" opacity="1"/>
<circle cx="499.8" cy="300.2" r="1.2" fill="#9e2c1c" opacity="1"/>
<circle cx="505.2" cy="306.3" r="1.2" fill="#9e2c1c" opacity="1"/>
<circle cx="510.6" cy="313" r="1.2" fill="#9e2c1c" opacity="1"/>
<circle cx="516" cy="319.8" r="1.2" fill="#9e2c1c" opacity="1"/>
<circle cx="521.4" cy="327.2" r="1.2" fill="#9e2c1c" opacity="1"/>
<circle cx="511" cy="333" r="1.2" fill="#9e2c1c" opacity="1"/>
<circle cx="516.6" cy="332.3" r="1.2" fill="#9e2c1c" opacity="1"/>
<circle cx="522.3" cy="327.3" r="1.2" fill="#9e2c1c" opacity="1"/>
<circle cx="527.2" cy="326.6" r="1.2" fill="#9e2c1c" opacity="1"/>
<circle cx="532.8" cy="326.6" r="1.2" fill="#9e2c1c" opacity="1"/>
<circle cx="538.4" cy="325.2" r="1.2" fill="#9e2c1c" opacity="1"/>
<circle cx="494.9" cy="333.7" r="1.2" fill="#9e2c1c" opacity="1"/>
<circle cx="499.8" cy="333.7" r="1.2" fill="#9e2c1c" opacity="1"/>
<circle cx="505.4" cy="333.7" r="1.2" fill="#9e2c1c" opacity="1"/>
<circle cx="511" cy="337.2" r="1.2" fill="#9e2c1c" opacity="1"/>
<circle cx="516.6" cy="335.6" r="1.2" fill="#9e2c1c" opacity="1"/>
<circle cx="522.3" cy="334.3" r="1.2" fill="#9e2c1c" opacity="1"/>
<circle cx="527.2" cy="333" r="1.2" fill="#9e2c1c" opacity="1"/>
<circle cx="532.8" cy="331.5" r="1.2" fill="#9e2c1c" opacity="1"/>
<circle cx="538.4" cy="330.2" r="1.2" fill="#9e2c1c" opacity="1"/>
<circle cx="494.9" cy="337.9" r="1.2" fill="#9e2c1c" opacity="1"/>
<circle cx="499.8" cy="337.9" r="1.2" fill="#9e2c1c" opacity="1"/>
<circle cx="505.4" cy="338.5" r="1.2" fill="#9e2c1c" opacity="1"/>
<circle cx="527.2" cy="336.5" r="1.2" fill="#9e2c1c" opacity="1"/>
<circle cx="532.8" cy="334.5" r="1.2" fill="#9e2c1c" opacity="1"/>
<circle cx="538.4" cy="333.8" r="1.2" fill="#9e2c1c" opacity="1"/>
<circle cx="494.9" cy="340.7" r="1.2" fill="#9e2c1c" opacity="1"/>
<circle cx="499.8" cy="341.4" r="1.2" fill="#9e2c1c" opacity="1"/>
<circle cx="505.4" cy="342.8" r="1.2" fill="#9e2c1c" opacity="1"/>
<circle cx="511" cy="344.9" r="1.2" fill="#9e2c1c" opacity="1"/>
<circle cx="516.6" cy="346.3" r="1.2" fill="#9e2c1c" opacity="1"/>
<circle cx="522.3" cy="347.7" r="1.2" fill="#9e2c1c" opacity="1"/>
<circle cx="527.2" cy="348.4" r="1.2" fill="#9e2c1c" opacity="1"/>
<circle cx="532.8" cy="340.7" r="1.2" fill="#9e2c1c" opacity="1"/>
<circle cx="538.4" cy="344.9" r="1.2" fill="#9e2c1c" opacity="1"/>
<path d="M462.9,213C465.27,214.43 467.48,215.73 470,217.3C472.52,218.87 475.67,221.07 478,222.4C480.33,223.73 482.12,224.63 484,225.3C485.88,225.97 487.3,226.38 489.3,226.4C491.3,226.42 493.72,226.03 496,225.4C498.28,224.77 500.67,223.58 503,222.6C505.33,221.62 508.08,220.52 510,219.5C511.92,218.48 513.03,217.58 514.5,216.5C515.97,215.42 517.37,214.17 518.8,213" fill="none" stroke="#5a6fc8" stroke-width="1.5" stroke-linejoin="round" stroke-linecap="round" opacity="0.85"/>
<path d="M446.7,213C450.3,214.8 453.45,216.52 457.5,218.4C461.55,220.28 467.25,222.65 471,224.3C474.75,225.95 476.95,227.13 480,228.3C483.05,229.47 486.63,230.9 489.3,231.3C491.97,231.7 493.72,231.13 496,230.7C498.28,230.27 500.67,229.45 503,228.7C505.33,227.95 507.67,227.57 510,226.2C512.33,224.83 514.63,222.7 517,220.5C519.37,218.3 521.8,215.5 524.2,213" fill="none" stroke="#5a6fc8" stroke-width="1.5" stroke-linejoin="round" stroke-linecap="round" opacity="0.85"/>
<path d="M444.4,225.8C448.77,227.37 453.07,228.97 457.5,230.5C461.93,232.03 467.25,233.87 471,235C474.75,236.13 476.95,236.73 480,237.3C483.05,237.87 486.63,238.35 489.3,238.4C491.97,238.45 493.72,238.12 496,237.6C498.28,237.08 501,236.23 503,235.3C505,234.37 506.33,233.47 508,232C509.67,230.53 511.33,228.25 513,226.5C514.67,224.75 516.5,223.05 518,221.5C519.5,219.95 520.7,218.62 522,217.2C523.3,215.78 524.53,214.4 525.8,213" fill="none" stroke="#5a6fc8" stroke-width="1.5" stroke-linejoin="round" stroke-linecap="round" opacity="0.85"/>
<path d="M444.4,232.3C448.77,234.13 453.73,236.22 457.5,237.8C461.27,239.38 463.63,240.58 467,241.8C470.37,243.02 473.98,244.33 477.7,245.1C481.42,245.87 486.25,246.25 489.3,246.4C492.35,246.55 493.72,246.3 496,246C498.28,245.7 500.67,245.2 503,244.6C505.33,244 507.17,243.4 510,242.4C512.83,241.4 516.67,239.87 520,238.6C523.33,237.33 526.12,236.18 530,234.8C533.88,233.42 538.87,231.8 543.3,230.3" fill="none" stroke="#5a6fc8" stroke-width="1.5" stroke-linejoin="round" stroke-linecap="round" opacity="0.85"/>
<path d="M444.4,233.6C448.77,235.4 453.73,237.43 457.5,239C461.27,240.57 463.63,241.78 467,243C470.37,244.22 473.98,245.53 477.7,246.3C481.42,247.07 486.25,247.45 489.3,247.6C492.35,247.75 493.72,247.5 496,247.2C498.28,246.9 500.67,246.4 503,245.8C505.33,245.2 507.17,244.57 510,243.6C512.83,242.63 516.67,241.22 520,240C523.33,238.78 526.12,237.63 530,236.3C533.88,234.97 538.87,233.43 543.3,232" fill="none" stroke="#5a6fc8" stroke-width="1.5" stroke-linejoin="round" stroke-linecap="round" opacity="0.85"/>
<path d="M444.4,234.8C448.77,236.6 453.07,238.57 457.5,240.2C461.93,241.83 467.25,243.42 471,244.6C474.75,245.78 476.95,246.6 480,247.3C483.05,248 486.63,248.6 489.3,248.8C491.97,249 493.72,248.72 496,248.5C498.28,248.28 500.67,247.92 503,247.5C505.33,247.08 507.17,246.45 510,246C512.83,245.55 516.67,245.1 520,244.8C523.33,244.5 526.12,244.4 530,244.2C533.88,244 538.87,243.8 543.3,243.6" fill="none" stroke="#5a6fc8" stroke-width="1.5" stroke-linejoin="round" stroke-linecap="round" opacity="0.85"/>
<path d="M444.4,236.6C448.77,237.87 453.07,238.83 457.5,240.4C461.93,241.97 467.18,243.87 471,246C474.82,248.13 477.35,251.33 480.4,253.2C483.45,255.07 486.62,256.98 489.3,257.2C491.98,257.42 494.22,255.53 496.5,254.5C498.78,253.47 500.75,252.17 503,251C505.25,249.83 507.67,248.4 510,247.5C512.33,246.6 515,246.02 517,245.6C519,245.18 520.33,245.2 522,245" fill="none" stroke="#5a6fc8" stroke-width="1.5" stroke-linejoin="round" stroke-linecap="round" opacity="0.85"/>
<path d="M444.4,297.3C447.93,296.87 451.27,296.45 455,296C458.73,295.55 462.97,295.1 466.8,294.6C470.63,294.1 474.25,293.43 478,293C481.75,292.57 485.63,291.97 489.3,292C492.97,292.03 496.55,292.77 500,293.2C503.45,293.63 506.67,294.08 510,294.6C513.33,295.12 516.67,295.7 520,296.3C523.33,296.9 526.12,297.53 530,298.2C533.88,298.87 538.87,299.6 543.3,300.3" fill="none" stroke="#5a6fc8" stroke-width="1.5" stroke-linejoin="round" stroke-linecap="round" opacity="0.85"/>
<path d="M444.4,306.9C447.93,305.43 451.27,303.92 455,302.5C458.73,301.08 462.97,299.72 466.8,298.4C470.63,297.08 474.25,295.53 478,294.6C481.75,293.67 485.63,292.83 489.3,292.8C492.97,292.77 496.55,293.87 500,294.4C503.45,294.93 506.67,295.43 510,296C513.33,296.57 516.67,297.17 520,297.8C523.33,298.43 526.12,299.1 530,299.8C533.88,300.5 538.87,301.27 543.3,302" fill="none" stroke="#5a6fc8" stroke-width="1.5" stroke-linejoin="round" stroke-linecap="round" opacity="0.85"/>
<path d="M444.4,330.6C446.27,329.57 448.02,328.83 450,327.5C451.98,326.17 454.38,324.43 456.3,322.6C458.22,320.77 459.75,318.52 461.5,316.5C463.25,314.48 464.88,312.58 466.8,310.5C468.72,308.42 470.95,305.92 473,304C475.05,302.08 477.27,300.25 479.1,299C480.93,297.75 482.3,297.08 484,296.5C485.7,295.92 487.63,295.5 489.3,295.5C490.97,295.5 492.47,295.93 494,296.5C495.53,297.07 496.67,297.48 498.5,298.9C500.33,300.32 502.75,302.53 505,305C507.25,307.47 509.83,310.95 512,313.7C514.17,316.45 515.77,318.87 518,321.5C520.23,324.13 523.07,327.33 525.4,329.5C527.73,331.67 529.95,333.1 532,334.5C534.05,335.9 535.82,336.77 537.7,337.9C539.58,339.03 541.43,340.17 543.3,341.3" fill="none" stroke="#5a6fc8" stroke-width="1.5" stroke-linejoin="round" stroke-linecap="round" opacity="0.85"/>
<path d="M444.4,323.5C449.4,324.43 454.3,325.75 459.4,326.3C464.5,326.85 470.02,326.77 475,326.8C479.98,326.83 485.13,326.58 489.3,326.5C493.47,326.42 496.55,326.45 500,326.3C503.45,326.15 506.67,326.02 510,325.6C513.33,325.18 516.67,324.52 520,323.8C523.33,323.08 526.12,322.23 530,321.3C533.88,320.37 538.87,319.23 543.3,318.2" fill="none" stroke="#5a6fc8" stroke-width="1.5" stroke-linejoin="round" stroke-linecap="round" opacity="0.85"/>
<path d="M444.4,331.5C449.6,331.83 454.9,332.25 460,332.5C465.1,332.75 470,332.92 475,333C480,333.08 485,333.2 490,333C495,332.8 500,332.33 505,331.8C510,331.27 515,330.52 520,329.8C525,329.08 531.12,328.13 535,327.5C538.88,326.87 540.53,326.5 543.3,326" fill="none" stroke="#5a6fc8" stroke-width="1.5" stroke-linejoin="round" stroke-linecap="round" opacity="0.85"/>
<path d="M444.4,335.9C449.6,336.1 454.9,336.32 460,336.5C465.1,336.68 470,336.88 475,337C480,337.12 485,337.33 490,337.2C495,337.07 500,336.73 505,336.2C510,335.67 515,334.78 520,334C525,333.22 531.12,332.13 535,331.5C538.88,330.87 540.53,330.63 543.3,330.2" fill="none" stroke="#5a6fc8" stroke-width="1.5" stroke-linejoin="round" stroke-linecap="round" opacity="0.85"/>
<path d="M444.4,337.8C449.6,337.97 454.9,338.17 460,338.3C465.1,338.43 470,338.52 475,338.6C480,338.68 485,338.82 490,338.8C495,338.78 500,338.8 505,338.5C510,338.2 515,337.53 520,337C525,336.47 531.12,335.73 535,335.3C538.88,334.87 540.53,334.7 543.3,334.4" fill="none" stroke="#5a6fc8" stroke-width="1.5" stroke-linejoin="round" stroke-linecap="round" opacity="0.85"/>
<path d="M444.4,345.5C447.93,344.67 450.73,343.83 455,343C459.27,342.17 464.17,341.08 470,340.5C475.83,339.92 484.17,339.42 490,339.5C495.83,339.58 500.33,340.33 505,341C509.67,341.67 514.33,342.5 518,343.5C521.67,344.5 524.17,345.83 527,347C529.83,348.17 532.33,349.33 535,350.5" fill="none" stroke="#5a6fc8" stroke-width="1.5" stroke-linejoin="round" stroke-linecap="round" opacity="0.85"/>
<path d="M444.4,349.5C449.6,348.33 454.9,347 460,346C465.1,345 470,344.08 475,343.5C480,342.92 485,342.62 490,342.5C495,342.38 500,342.58 505,342.8C510,343.02 513.62,343.68 520,343.8C526.38,343.92 535.53,343.6 543.3,343.5" fill="none" stroke="#5a6fc8" stroke-width="1.5" stroke-linejoin="round" stroke-linecap="round" opacity="0.85"/>
</g>
<defs>
<radialGradient id="gpk" cx="0.45" cy="0.42" r="0.6"><stop offset="0" stop-color="#fdf0fa"/><stop offset="0.3" stop-color="#d88ac8"/><stop offset="1" stop-color="#a23c8e"/></radialGradient>
<radialGradient id="ggr" cx="0.45" cy="0.42" r="0.6"><stop offset="0" stop-color="#f4fdea"/><stop offset="0.3" stop-color="#98d070"/><stop offset="1" stop-color="#4f9a2e"/></radialGradient>
<radialGradient id="gsq" cx="0.5" cy="0.5" r="0.6"><stop offset="0" stop-color="#f6e8f4"/><stop offset="1" stop-color="#c482bc"/></radialGradient>
</defs>
<rect x="505.5" y="255" width="37.5" height="36.5" fill="#fff"/>
<rect x="513" y="259.3" width="26.200000000000045" height="25.19999999999999" fill="none" stroke="#d0d0d0" stroke-width="0.8"/>
<rect x="509.8" y="261.9" width="25.8" height="25.2" fill="none" stroke="#c8c8c8" stroke-width="0.8"/>
<line x1="517.7" y1="267.7" x2="509.8" y2="261.9" stroke="#c77cbd" stroke-width="1.1" />
<line x1="517.7" y1="267.7" x2="524.5" y2="260.4" stroke="#a6d888" stroke-width="1.1" />
<line x1="517.7" y1="267.7" x2="510.4" y2="274" stroke="#c77cbd" stroke-width="1.1" />
<line x1="517.7" y1="267.7" x2="523" y2="274.5" stroke="#a6d888" stroke-width="1.1" />
<line x1="530.8" y1="266.4" x2="535.6" y2="261.9" stroke="#c77cbd" stroke-width="1.1" />
<line x1="530.8" y1="266.4" x2="524.5" y2="260.4" stroke="#a6d888" stroke-width="1.1" />
<line x1="530.8" y1="266.4" x2="537.7" y2="274" stroke="#c77cbd" stroke-width="1.1" />
<line x1="530.8" y1="266.4" x2="526.1" y2="272.4" stroke="#a6d888" stroke-width="1.1" />
<line x1="518.8" y1="279.8" x2="509.8" y2="287.1" stroke="#c77cbd" stroke-width="1.1" />
<line x1="518.8" y1="279.8" x2="524.5" y2="286.6" stroke="#a6d888" stroke-width="1.1" />
<line x1="518.8" y1="279.8" x2="510.4" y2="274" stroke="#c77cbd" stroke-width="1.1" />
<line x1="518.8" y1="279.8" x2="523" y2="274.5" stroke="#a6d888" stroke-width="1.1" />
<line x1="529.8" y1="280.8" x2="535.6" y2="287.1" stroke="#c77cbd" stroke-width="1.1" />
<line x1="529.8" y1="280.8" x2="524.5" y2="286.6" stroke="#a6d888" stroke-width="1.1" />
<line x1="529.8" y1="280.8" x2="537.7" y2="274" stroke="#c77cbd" stroke-width="1.1" />
<line x1="529.8" y1="280.8" x2="526.1" y2="272.4" stroke="#a6d888" stroke-width="1.1" />
<circle cx="513" cy="259.3" r="2.9" fill="url(#gpk)"/>
<circle cx="539.2" cy="259.3" r="2.9" fill="url(#gpk)"/>
<circle cx="513" cy="284.5" r="2.9" fill="url(#gpk)"/>
<circle cx="539.2" cy="284.5" r="2.9" fill="url(#gpk)"/>
<circle cx="526.1" cy="272.4" r="2.7" fill="url(#ggr)"/>
<rect x="516.1" y="266.1" width="3.2" height="3.2" fill="url(#gsq)" stroke="#a8609e" stroke-width="0.6"/>
<rect x="529.2" y="264.8" width="3.2" height="3.2" fill="url(#gsq)" stroke="#a8609e" stroke-width="0.6"/>
<rect x="517.2" y="278.2" width="3.2" height="3.2" fill="url(#gsq)" stroke="#a8609e" stroke-width="0.6"/>
<rect x="528.2" y="279.2" width="3.2" height="3.2" fill="url(#gsq)" stroke="#a8609e" stroke-width="0.6"/>
<circle cx="509.8" cy="261.9" r="3.0" fill="url(#gpk)"/>
<circle cx="535.6" cy="261.9" r="3.0" fill="url(#gpk)"/>
<circle cx="510.4" cy="274" r="3.0" fill="url(#gpk)"/>
<circle cx="537.7" cy="274" r="3.0" fill="url(#gpk)"/>
<circle cx="509.8" cy="287.1" r="3.0" fill="url(#gpk)"/>
<circle cx="535.6" cy="287.1" r="3.0" fill="url(#gpk)"/>
<circle cx="524.5" cy="260.4" r="2.7" fill="url(#ggr)"/>
<circle cx="523" cy="274.5" r="2.7" fill="url(#ggr)"/>
<circle cx="524.5" cy="286.6" r="2.7" fill="url(#ggr)"/>
<rect x="444.4" y="213.6" width="98.9" height="135.7" fill="none" stroke="#262626" stroke-width="1.0"/>
<line x1="440.9" y1="241.3" x2="444.4" y2="241.3" stroke="#262626" stroke-width="1.0" />
<text x="426.44" y="245.3" font-size="10.4" fill="#111" textLength="12.88" lengthAdjust="spacingAndGlyphs" style="stroke-width:0.29px;">−3</text>
<line x1="440.9" y1="277.3" x2="444.4" y2="277.3" stroke="#262626" stroke-width="1.0" />
<text x="426.44" y="281.3" font-size="10.4" fill="#111" textLength="12.81" lengthAdjust="spacingAndGlyphs" style="stroke-width:0.29px;">−5</text>
<line x1="440.9" y1="313.3" x2="444.4" y2="313.3" stroke="#262626" stroke-width="1.0" />
<text x="426.43" y="317.3" font-size="10.4" fill="#111" textLength="12.94" lengthAdjust="spacingAndGlyphs" style="stroke-width:0.29px;">−7</text>
<line x1="440.9" y1="349.3" x2="444.4" y2="349.3" stroke="#262626" stroke-width="1.0" />
<text x="426.43" y="353.3" font-size="10.4" fill="#111" textLength="12.94" lengthAdjust="spacingAndGlyphs" style="stroke-width:0.29px;">−9</text>
<line x1="444.4" y1="349.3" x2="444.4" y2="352.3" stroke="#262626" stroke-width="1.0" />
<line x1="489.3" y1="349.3" x2="489.3" y2="352.3" stroke="#262626" stroke-width="1.0" />
<line x1="543.3" y1="349.3" x2="543.3" y2="352.3" stroke="#262626" stroke-width="1.0" />
<text x="444.42" y="361.6" font-size="7.2" fill="#111" textLength="2.14" lengthAdjust="spacingAndGlyphs" style="stroke-width:0.15px">(</text>
<text x="448.05" y="358.6" font-size="4.6" fill="#111" textLength="2.59" lengthAdjust="spacingAndGlyphs" style="stroke-width:0.25px">1</text>
<line x1="447.7" y1="359.3" x2="451.1" y2="359.3" stroke="#222" stroke-width="0.55" />
<text x="447.45" y="363.4" font-size="4.6" fill="#111" textLength="3.91" lengthAdjust="spacingAndGlyphs" style="stroke-width:0.25px">2</text>
<text x="451.4" y="361.6" font-size="7.2" fill="#111" textLength="2.05" lengthAdjust="spacingAndGlyphs" style="stroke-width:0.20px;">,</text>
<text x="456.25" y="358.6" font-size="4.6" fill="#111" textLength="2.59" lengthAdjust="spacingAndGlyphs" style="stroke-width:0.25px">1</text>
<line x1="455.9" y1="359.3" x2="459.3" y2="359.3" stroke="#222" stroke-width="0.55" />
<text x="455.65" y="363.4" font-size="4.6" fill="#111" textLength="3.91" lengthAdjust="spacingAndGlyphs" style="stroke-width:0.25px">2</text>
<text x="460.1" y="361.6" font-size="7.2" fill="#111" textLength="2.05" lengthAdjust="spacingAndGlyphs" style="stroke-width:0.20px;">,</text>
<text x="464.19" y="361.6" font-size="7.2" fill="#111" textLength="4.33" lengthAdjust="spacingAndGlyphs" style="stroke-width:0.15px">0</text>
<text x="469.93" y="361.6" font-size="7.2" fill="#111" textLength="2.31" lengthAdjust="spacingAndGlyphs" style="stroke-width:0.15px">)</text>
<text x="472.25" y="361" font-size="7.4" fill="#111" textLength="10.51" lengthAdjust="spacingAndGlyphs" style="stroke-width:0.3px">←</text>
<text x="486.55" y="360.2" font-size="8.0" fill="#111" textLength="4.46" lengthAdjust="spacingAndGlyphs" style="stroke-width:0.15px">Γ</text>
<text x="505.88" y="361" font-size="7.4" fill="#111" textLength="10.34" lengthAdjust="spacingAndGlyphs" style="stroke-width:0.3px">→</text>
<text x="515.44" y="361.6" font-size="7.2" fill="#111" textLength="2.01" lengthAdjust="spacingAndGlyphs" style="stroke-width:0.15px">(</text>
<text x="518.45" y="358.6" font-size="4.6" fill="#111" textLength="2.59" lengthAdjust="spacingAndGlyphs" style="stroke-width:0.25px">1</text>
<line x1="518.1" y1="359.3" x2="521.5" y2="359.3" stroke="#222" stroke-width="0.55" />
<text x="517.85" y="363.4" font-size="4.6" fill="#111" textLength="3.91" lengthAdjust="spacingAndGlyphs" style="stroke-width:0.25px">2</text>
<text x="522.6" y="361.6" font-size="7.2" fill="#111" textLength="2.05" lengthAdjust="spacingAndGlyphs" style="stroke-width:0.20px;">,</text>
<text x="526.75" y="358.6" font-size="4.6" fill="#111" textLength="2.59" lengthAdjust="spacingAndGlyphs" style="stroke-width:0.25px">1</text>
<line x1="526.4" y1="359.3" x2="529.8" y2="359.3" stroke="#222" stroke-width="0.55" />
<text x="526.15" y="363.4" font-size="4.6" fill="#111" textLength="3.91" lengthAdjust="spacingAndGlyphs" style="stroke-width:0.25px">2</text>
<text x="531.8" y="361.6" font-size="7.2" fill="#111" textLength="2.05" lengthAdjust="spacingAndGlyphs" style="stroke-width:0.20px;">,</text>
<text x="535.75" y="358.6" font-size="4.6" fill="#111" textLength="2.59" lengthAdjust="spacingAndGlyphs" style="stroke-width:0.25px">1</text>
<line x1="535.4" y1="359.3" x2="538.8" y2="359.3" stroke="#222" stroke-width="0.55" />
<text x="535.15" y="363.4" font-size="4.6" fill="#111" textLength="3.91" lengthAdjust="spacingAndGlyphs" style="stroke-width:0.25px">2</text>
<text x="540.93" y="361.6" font-size="7.2" fill="#111" textLength="2.31" lengthAdjust="spacingAndGlyphs" style="stroke-width:0.15px">)</text>
<text x="443.95" y="210.3" font-size="10.6" fill="#111" textLength="9.69" lengthAdjust="spacingAndGlyphs" style="stroke-width:0.30px;">In</text>
<text x="453.27" y="211.8" font-size="6.6" fill="#111" textLength="11.36" lengthAdjust="spacingAndGlyphs" style="stroke-width:0.18px;">0.5</text>
<text x="465.01" y="210.3" font-size="10.6" fill="#111" textLength="13.08" lengthAdjust="spacingAndGlyphs" style="stroke-width:0.30px;">Ga</text>
<text x="478.58" y="211.8" font-size="6.6" fill="#111" textLength="11.25" lengthAdjust="spacingAndGlyphs" style="stroke-width:0.18px;">0.5</text>
<text x="489.54" y="210.3" font-size="10.6" fill="#111" textLength="6.36" lengthAdjust="spacingAndGlyphs" style="stroke-width:0.30px;">P</text>
<text x="498.46" y="210.3" font-size="10.6" fill="#111" textLength="44.99" lengthAdjust="spacingAndGlyphs" style="stroke-width:0.30px;">supercell</text>
</svg>
</body></html>
